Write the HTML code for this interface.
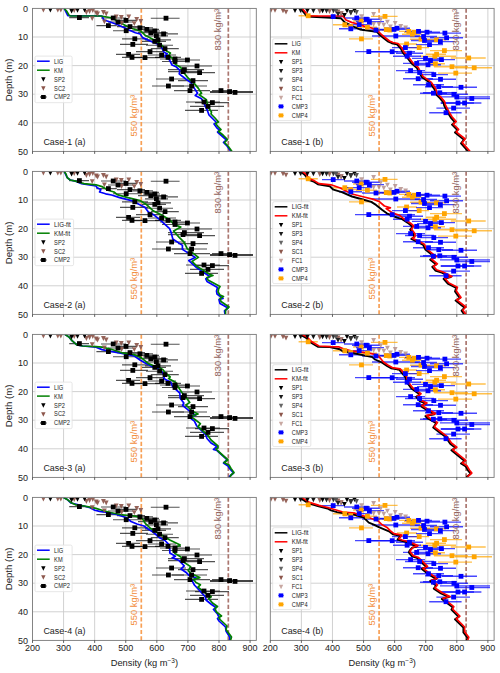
<!DOCTYPE html><html><head><meta charset="utf-8"><style>html,body{margin:0;padding:0;background:#fff;}svg{display:block;}text{font-family:"Liberation Sans", sans-serif;}</style></head><body>
<svg width="500" height="673" viewBox="0 0 500 673">
<rect width="500" height="673" fill="#fff"/>
<clipPath id="c0a"><rect x="32.5" y="8.4" width="223.8" height="143.0"/></clipPath>
<line x1="63.58" y1="8.4" x2="63.58" y2="151.4" stroke="#cccccc" stroke-width="0.9"/>
<line x1="94.67" y1="8.4" x2="94.67" y2="151.4" stroke="#cccccc" stroke-width="0.9"/>
<line x1="125.75" y1="8.4" x2="125.75" y2="151.4" stroke="#cccccc" stroke-width="0.9"/>
<line x1="156.83" y1="8.4" x2="156.83" y2="151.4" stroke="#cccccc" stroke-width="0.9"/>
<line x1="187.92" y1="8.4" x2="187.92" y2="151.4" stroke="#cccccc" stroke-width="0.9"/>
<line x1="219.00" y1="8.4" x2="219.00" y2="151.4" stroke="#cccccc" stroke-width="0.9"/>
<line x1="250.08" y1="8.4" x2="250.08" y2="151.4" stroke="#cccccc" stroke-width="0.9"/>
<line x1="32.5" y1="37.00" x2="256.3" y2="37.00" stroke="#cccccc" stroke-width="0.9"/>
<line x1="32.5" y1="65.60" x2="256.3" y2="65.60" stroke="#cccccc" stroke-width="0.9"/>
<line x1="32.5" y1="94.20" x2="256.3" y2="94.20" stroke="#cccccc" stroke-width="0.9"/>
<line x1="32.5" y1="122.80" x2="256.3" y2="122.80" stroke="#cccccc" stroke-width="0.9"/>
<line x1="141.29" y1="151.4" x2="141.29" y2="8.4" stroke="#f8a055" stroke-width="1.7" stroke-dasharray="4.2,2.1"/>
<line x1="228.32" y1="151.4" x2="228.32" y2="8.4" stroke="#ab7770" stroke-width="1.7" stroke-dasharray="4.2,2.1"/>
<g clip-path="url(#c0a)">
<line x1="69.2" y1="17.6" x2="89.0" y2="17.6" stroke="#000" stroke-opacity="0.68" stroke-width="1.15"/>
<line x1="96.4" y1="25.6" x2="116.8" y2="25.6" stroke="#000" stroke-opacity="0.68" stroke-width="1.15"/>
<line x1="101.0" y1="18.0" x2="126.0" y2="18.0" stroke="#000" stroke-opacity="0.68" stroke-width="1.15"/>
<line x1="108.0" y1="22.0" x2="133.0" y2="22.0" stroke="#000" stroke-opacity="0.68" stroke-width="1.15"/>
<line x1="115.6" y1="20.4" x2="137.2" y2="20.4" stroke="#000" stroke-opacity="0.68" stroke-width="1.15"/>
<line x1="117.0" y1="26.6" x2="145.0" y2="26.6" stroke="#000" stroke-opacity="0.68" stroke-width="1.15"/>
<line x1="113.0" y1="30.7" x2="141.0" y2="30.7" stroke="#000" stroke-opacity="0.68" stroke-width="1.15"/>
<line x1="133.0" y1="27.8" x2="153.0" y2="27.8" stroke="#000" stroke-opacity="0.68" stroke-width="1.15"/>
<line x1="141.0" y1="29.4" x2="159.0" y2="29.4" stroke="#000" stroke-opacity="0.68" stroke-width="1.15"/>
<line x1="138.0" y1="32.6" x2="167.6" y2="32.6" stroke="#000" stroke-opacity="0.68" stroke-width="1.15"/>
<line x1="143.0" y1="31.0" x2="160.0" y2="31.0" stroke="#000" stroke-opacity="0.68" stroke-width="1.15"/>
<line x1="145.0" y1="35.8" x2="168.0" y2="35.8" stroke="#000" stroke-opacity="0.68" stroke-width="1.15"/>
<line x1="150.8" y1="33.9" x2="178.0" y2="33.9" stroke="#000" stroke-opacity="0.68" stroke-width="1.15"/>
<line x1="150.8" y1="18.2" x2="179.6" y2="18.2" stroke="#000" stroke-opacity="0.68" stroke-width="1.15"/>
<line x1="122.0" y1="38.8" x2="148.0" y2="38.8" stroke="#000" stroke-opacity="0.68" stroke-width="1.15"/>
<line x1="145.0" y1="39.8" x2="171.0" y2="39.8" stroke="#000" stroke-opacity="0.68" stroke-width="1.15"/>
<line x1="142.0" y1="41.4" x2="166.0" y2="41.4" stroke="#000" stroke-opacity="0.68" stroke-width="1.15"/>
<line x1="120.0" y1="44.4" x2="148.0" y2="44.4" stroke="#000" stroke-opacity="0.68" stroke-width="1.15"/>
<line x1="146.0" y1="45.2" x2="173.0" y2="45.2" stroke="#000" stroke-opacity="0.68" stroke-width="1.15"/>
<line x1="150.8" y1="48.6" x2="178.8" y2="48.6" stroke="#000" stroke-opacity="0.68" stroke-width="1.15"/>
<line x1="136.0" y1="51.6" x2="163.6" y2="51.6" stroke="#000" stroke-opacity="0.68" stroke-width="1.15"/>
<line x1="116.0" y1="54.4" x2="140.0" y2="54.4" stroke="#000" stroke-opacity="0.68" stroke-width="1.15"/>
<line x1="122.0" y1="57.4" x2="142.0" y2="57.4" stroke="#000" stroke-opacity="0.68" stroke-width="1.15"/>
<line x1="130.0" y1="57.6" x2="160.0" y2="57.6" stroke="#000" stroke-opacity="0.68" stroke-width="1.15"/>
<line x1="148.0" y1="55.0" x2="176.0" y2="55.0" stroke="#000" stroke-opacity="0.68" stroke-width="1.15"/>
<line x1="155.0" y1="57.4" x2="181.0" y2="57.4" stroke="#000" stroke-opacity="0.68" stroke-width="1.15"/>
<line x1="160.0" y1="59.0" x2="190.0" y2="59.0" stroke="#000" stroke-opacity="0.68" stroke-width="1.15"/>
<line x1="174.0" y1="60.0" x2="200.0" y2="60.0" stroke="#000" stroke-opacity="0.68" stroke-width="1.15"/>
<line x1="162.0" y1="61.5" x2="188.0" y2="61.5" stroke="#000" stroke-opacity="0.68" stroke-width="1.15"/>
<line x1="178.0" y1="66.0" x2="212.0" y2="66.0" stroke="#000" stroke-opacity="0.68" stroke-width="1.15"/>
<line x1="168.0" y1="69.6" x2="204.0" y2="69.6" stroke="#000" stroke-opacity="0.68" stroke-width="1.15"/>
<line x1="168.0" y1="71.6" x2="200.0" y2="71.6" stroke="#000" stroke-opacity="0.68" stroke-width="1.15"/>
<line x1="182.0" y1="72.6" x2="215.0" y2="72.6" stroke="#000" stroke-opacity="0.68" stroke-width="1.15"/>
<line x1="156.0" y1="79.0" x2="186.0" y2="79.0" stroke="#000" stroke-opacity="0.68" stroke-width="1.15"/>
<line x1="178.0" y1="80.6" x2="208.0" y2="80.6" stroke="#000" stroke-opacity="0.68" stroke-width="1.15"/>
<line x1="152.0" y1="86.0" x2="184.0" y2="86.0" stroke="#000" stroke-opacity="0.68" stroke-width="1.15"/>
<line x1="172.0" y1="86.0" x2="207.0" y2="86.0" stroke="#000" stroke-opacity="0.68" stroke-width="1.15"/>
<line x1="174.0" y1="90.6" x2="210.0" y2="90.6" stroke="#000" stroke-opacity="0.68" stroke-width="1.15"/>
<line x1="212.0" y1="90.6" x2="229.0" y2="90.6" stroke="#000" stroke-opacity="0.68" stroke-width="1.15"/>
<line x1="210.0" y1="91.6" x2="253.0" y2="91.6" stroke="#000" stroke-opacity="0.68" stroke-width="1.15"/>
<line x1="210.0" y1="92.4" x2="253.0" y2="92.4" stroke="#000" stroke-opacity="0.68" stroke-width="1.15"/>
<line x1="186.0" y1="102.0" x2="220.0" y2="102.0" stroke="#000" stroke-opacity="0.68" stroke-width="1.15"/>
<line x1="195.0" y1="102.6" x2="229.0" y2="102.6" stroke="#000" stroke-opacity="0.68" stroke-width="1.15"/>
<line x1="190.0" y1="106.4" x2="224.0" y2="106.4" stroke="#000" stroke-opacity="0.68" stroke-width="1.15"/>
<line x1="185.0" y1="110.4" x2="218.0" y2="110.4" stroke="#000" stroke-opacity="0.68" stroke-width="1.15"/>
<polyline points="64.2,8.4 67.8,15.6 102.0,16.0 103.8,20.0 108.0,21.2 116.4,24.2 125.0,28.0 129.0,30.0 135.4,32.8 140.2,34.0 142.6,37.6 150.6,41.2 158.6,44.4 161.6,47.4 164.0,52.2 167.2,53.8 164.8,56.2 169.6,60.2 172.0,65.0 176.0,66.6 180.0,70.6 179.2,73.8 185.8,79.0 191.2,82.8 194.4,88.4 197.6,93.2 195.2,95.6 201.6,98.8 202.6,100.6 207.0,109.5 209.0,115.0 214.0,120.0 216.5,122.5 214.0,124.0 217.0,128.0 219.5,130.0 217.5,132.0 222.0,136.0 226.5,140.0 223.5,142.5 227.0,146.0 231.0,151.4" fill="none" stroke="#0000ff" stroke-width="1.7" stroke-linejoin="round"/>
<polyline points="64.2,8.4 66.6,11.0 69.0,15.2 70.2,15.8 100.8,16.0 106.8,17.0 112.8,18.2 117.2,21.0 125.0,25.2 133.0,28.8 141.0,31.2 145.0,35.2 151.4,38.4 158.0,42.0 162.4,45.8 166.4,51.0 170.4,53.0 168.8,55.4 172.8,58.6 175.2,64.2 180.8,67.4 183.2,72.2 184.8,73.8 188.0,78.0 194.4,83.6 198.4,88.4 201.6,93.2 199.2,94.8 206.4,99.6 208.0,107.0 211.5,112.0 211.0,114.0 215.0,118.0 218.5,122.0 215.5,123.5 218.0,126.5 221.0,129.5 218.5,131.5 223.0,135.0 227.5,139.5 224.5,142.5 228.0,146.0 232.0,151.4" fill="none" stroke="#008000" stroke-width="1.7" stroke-linejoin="round"/>
<path d="M41.00,7.68L45.80,7.68L43.40,12.48Z" fill="#8c564b" fill-opacity="0.92"/>
<path d="M55.40,7.68L60.20,7.68L57.80,12.48Z" fill="#8c564b" fill-opacity="0.92"/>
<path d="M58.40,7.68L63.20,7.68L60.80,12.48Z" fill="#8c564b" fill-opacity="0.92"/>
<path d="M71.80,8.08L76.60,8.08L74.20,12.88Z" fill="#8c564b" fill-opacity="0.92"/>
<path d="M84.00,10.08L88.80,10.08L86.40,14.88Z" fill="#8c564b" fill-opacity="0.92"/>
<path d="M87.20,9.08L92.00,9.08L89.60,13.88Z" fill="#8c564b" fill-opacity="0.92"/>
<path d="M90.40,8.08L95.20,8.08L92.80,12.88Z" fill="#8c564b" fill-opacity="0.92"/>
<path d="M93.80,10.58L98.60,10.58L96.20,15.38Z" fill="#8c564b" fill-opacity="0.92"/>
<path d="M95.20,11.58L100.00,11.58L97.60,16.38Z" fill="#8c564b" fill-opacity="0.92"/>
<path d="M89.80,16.28L94.60,16.28L92.20,21.08Z" fill="#8c564b" fill-opacity="0.92"/>
<path d="M101.00,10.08L105.80,10.08L103.40,14.88Z" fill="#8c564b" fill-opacity="0.92"/>
<path d="M103.80,11.58L108.60,11.58L106.20,16.38Z" fill="#8c564b" fill-opacity="0.92"/>
<path d="M102.00,19.48L106.80,19.48L104.40,24.28Z" fill="#8c564b" fill-opacity="0.92"/>
<path d="M113.80,14.58L118.60,14.58L116.20,19.38Z" fill="#8c564b" fill-opacity="0.92"/>
<path d="M118.90,15.08L123.70,15.08L121.30,19.88Z" fill="#8c564b" fill-opacity="0.92"/>
<path d="M119.20,21.08L124.00,21.08L121.60,25.88Z" fill="#8c564b" fill-opacity="0.92"/>
<path d="M126.40,14.48L131.20,14.48L128.80,19.28Z" fill="#8c564b" fill-opacity="0.92"/>
<path d="M131.90,21.28L136.70,21.28L134.30,26.08Z" fill="#8c564b" fill-opacity="0.92"/>
<path d="M134.30,17.08L139.10,17.08L136.70,21.88Z" fill="#8c564b" fill-opacity="0.92"/>
<path d="M138.40,19.08L143.20,19.08L140.80,23.88Z" fill="#8c564b" fill-opacity="0.92"/>
<path d="M48.00,7.68L52.80,7.68L50.40,12.48Z" fill="#000"/>
<path d="M69.20,8.68L74.00,8.68L71.60,13.48Z" fill="#000"/>
<path d="M75.10,7.88L79.90,7.88L77.50,12.68Z" fill="#000"/>
<path d="M82.20,7.68L87.00,7.68L84.60,12.48Z" fill="#000"/>
<rect x="77.0" y="15.2" width="4.8" height="4.8" fill="#000"/>
<rect x="106.0" y="23.2" width="4.8" height="4.8" fill="#000"/>
<rect x="110.8" y="15.6" width="4.8" height="4.8" fill="#000"/>
<rect x="115.6" y="19.6" width="4.8" height="4.8" fill="#000"/>
<rect x="123.6" y="18.0" width="4.8" height="4.8" fill="#000"/>
<rect x="127.6" y="24.2" width="4.8" height="4.8" fill="#000"/>
<rect x="123.8" y="28.3" width="4.8" height="4.8" fill="#000"/>
<rect x="137.5" y="25.4" width="4.8" height="4.8" fill="#000"/>
<rect x="144.4" y="27.0" width="4.8" height="4.8" fill="#000"/>
<rect x="148.4" y="30.2" width="4.8" height="4.8" fill="#000"/>
<rect x="152.4" y="28.6" width="4.8" height="4.8" fill="#000"/>
<rect x="154.0" y="33.4" width="4.8" height="4.8" fill="#000"/>
<rect x="161.2" y="31.5" width="4.8" height="4.8" fill="#000"/>
<rect x="163.6" y="15.8" width="4.8" height="4.8" fill="#000"/>
<rect x="132.4" y="36.4" width="4.8" height="4.8" fill="#000"/>
<rect x="155.6" y="37.4" width="4.8" height="4.8" fill="#000"/>
<rect x="152.4" y="39.0" width="4.8" height="4.8" fill="#000"/>
<rect x="130.4" y="42.0" width="4.8" height="4.8" fill="#000"/>
<rect x="157.2" y="42.8" width="4.8" height="4.8" fill="#000"/>
<rect x="162.6" y="46.2" width="4.8" height="4.8" fill="#000"/>
<rect x="147.6" y="49.2" width="4.8" height="4.8" fill="#000"/>
<rect x="126.2" y="52.0" width="4.8" height="4.8" fill="#000"/>
<rect x="129.6" y="55.0" width="4.8" height="4.8" fill="#000"/>
<rect x="142.6" y="55.2" width="4.8" height="4.8" fill="#000"/>
<rect x="159.2" y="52.6" width="4.8" height="4.8" fill="#000"/>
<rect x="165.6" y="55.0" width="4.8" height="4.8" fill="#000"/>
<rect x="172.6" y="56.6" width="4.8" height="4.8" fill="#000"/>
<rect x="185.0" y="57.6" width="4.8" height="4.8" fill="#000"/>
<rect x="172.6" y="59.1" width="4.8" height="4.8" fill="#000"/>
<rect x="194.6" y="63.6" width="4.8" height="4.8" fill="#000"/>
<rect x="182.0" y="67.2" width="4.8" height="4.8" fill="#000"/>
<rect x="180.6" y="69.2" width="4.8" height="4.8" fill="#000"/>
<rect x="197.2" y="70.2" width="4.8" height="4.8" fill="#000"/>
<rect x="169.2" y="76.6" width="4.8" height="4.8" fill="#000"/>
<rect x="190.6" y="78.2" width="4.8" height="4.8" fill="#000"/>
<rect x="166.0" y="83.6" width="4.8" height="4.8" fill="#000"/>
<rect x="189.2" y="83.6" width="4.8" height="4.8" fill="#000"/>
<rect x="187.6" y="88.2" width="4.8" height="4.8" fill="#000"/>
<rect x="218.6" y="88.2" width="4.8" height="4.8" fill="#000"/>
<rect x="227.2" y="89.2" width="4.8" height="4.8" fill="#000"/>
<rect x="232.6" y="90.0" width="4.8" height="4.8" fill="#000"/>
<rect x="201.6" y="99.6" width="4.8" height="4.8" fill="#000"/>
<rect x="210.0" y="100.2" width="4.8" height="4.8" fill="#000"/>
<rect x="205.6" y="104.0" width="4.8" height="4.8" fill="#000"/>
<rect x="199.2" y="108.0" width="4.8" height="4.8" fill="#000"/>
</g>
<text transform="translate(133.5,115.7) rotate(-90)" text-anchor="middle" dominant-baseline="central" font-size="9.4" fill="#f28d3c">550 kg/m³</text>
<text transform="translate(217.4,29.6) rotate(-90)" text-anchor="middle" dominant-baseline="central" font-size="9.4" fill="#93615a">830 kg/m³</text>
<text transform="translate(43.4,144.5) scale(0.95,1)" font-size="9.4" fill="#222">Case-1 (a)</text>
<rect x="35.0" y="56.1" width="37.1" height="46.6" rx="1.5" fill="#fff" fill-opacity="0.8" stroke="#e0e0e0" stroke-width="0.8"/>
<line x1="37.0" y1="61.2" x2="49.7" y2="61.2" stroke="#0000ff" stroke-width="1.5"/>
<text transform="translate(54.1,63.6) scale(0.86,1)" font-size="6.6" fill="#222">LIG</text>
<line x1="37.0" y1="70.2" x2="49.7" y2="70.2" stroke="#008000" stroke-width="1.5"/>
<text transform="translate(54.1,72.6) scale(0.86,1)" font-size="6.6" fill="#222">KM</text>
<path d="M41.15,77.34L45.55,77.34L43.35,81.74Z" fill="#000"/>
<text transform="translate(54.1,81.5) scale(0.86,1)" font-size="6.6" fill="#222">SP2</text>
<path d="M41.15,86.29L45.55,86.29L43.35,90.69Z" fill="#8c564b"/>
<text transform="translate(54.1,90.5) scale(0.86,1)" font-size="6.6" fill="#222">SC2</text>
<rect x="41.1" y="95.0" width="4.6" height="4.0" fill="#000"/>
<line x1="40.1" y1="97.0" x2="46.6" y2="97.0" stroke="#000" stroke-width="1"/>
<text transform="translate(54.1,99.4) scale(0.86,1)" font-size="6.6" fill="#222">CMP2</text>
<rect x="32.5" y="8.4" width="223.8" height="143.0" fill="none" stroke="#787878" stroke-width="0.9"/>
<line x1="32.50" y1="151.4" x2="32.50" y2="153.9" stroke="#3a3a3a" stroke-width="0.8"/>
<line x1="63.58" y1="151.4" x2="63.58" y2="153.9" stroke="#3a3a3a" stroke-width="0.8"/>
<line x1="94.67" y1="151.4" x2="94.67" y2="153.9" stroke="#3a3a3a" stroke-width="0.8"/>
<line x1="125.75" y1="151.4" x2="125.75" y2="153.9" stroke="#3a3a3a" stroke-width="0.8"/>
<line x1="156.83" y1="151.4" x2="156.83" y2="153.9" stroke="#3a3a3a" stroke-width="0.8"/>
<line x1="187.92" y1="151.4" x2="187.92" y2="153.9" stroke="#3a3a3a" stroke-width="0.8"/>
<line x1="219.00" y1="151.4" x2="219.00" y2="153.9" stroke="#3a3a3a" stroke-width="0.8"/>
<line x1="250.08" y1="151.4" x2="250.08" y2="153.9" stroke="#3a3a3a" stroke-width="0.8"/>
<text x="27.9" y="11.6" text-anchor="end" font-size="9" fill="#222">0</text>
<text x="27.9" y="40.2" text-anchor="end" font-size="9" fill="#222">10</text>
<text x="27.9" y="68.8" text-anchor="end" font-size="9" fill="#222">20</text>
<text x="27.9" y="97.4" text-anchor="end" font-size="9" fill="#222">30</text>
<text x="27.9" y="126.0" text-anchor="end" font-size="9" fill="#222">40</text>
<text x="27.9" y="154.6" text-anchor="end" font-size="9" fill="#222">50</text>
<text transform="translate(8.3,79.9) rotate(-90)" text-anchor="middle" dominant-baseline="central" font-size="9.6" fill="#222">Depth (m)</text>
<clipPath id="c0b"><rect x="270.3" y="8.4" width="223.8" height="143.0"/></clipPath>
<line x1="301.38" y1="8.4" x2="301.38" y2="151.4" stroke="#cccccc" stroke-width="0.9"/>
<line x1="332.47" y1="8.4" x2="332.47" y2="151.4" stroke="#cccccc" stroke-width="0.9"/>
<line x1="363.55" y1="8.4" x2="363.55" y2="151.4" stroke="#cccccc" stroke-width="0.9"/>
<line x1="394.63" y1="8.4" x2="394.63" y2="151.4" stroke="#cccccc" stroke-width="0.9"/>
<line x1="425.72" y1="8.4" x2="425.72" y2="151.4" stroke="#cccccc" stroke-width="0.9"/>
<line x1="456.80" y1="8.4" x2="456.80" y2="151.4" stroke="#cccccc" stroke-width="0.9"/>
<line x1="487.88" y1="8.4" x2="487.88" y2="151.4" stroke="#cccccc" stroke-width="0.9"/>
<line x1="270.3" y1="37.00" x2="494.1" y2="37.00" stroke="#cccccc" stroke-width="0.9"/>
<line x1="270.3" y1="65.60" x2="494.1" y2="65.60" stroke="#cccccc" stroke-width="0.9"/>
<line x1="270.3" y1="94.20" x2="494.1" y2="94.20" stroke="#cccccc" stroke-width="0.9"/>
<line x1="270.3" y1="122.80" x2="494.1" y2="122.80" stroke="#cccccc" stroke-width="0.9"/>
<line x1="379.09" y1="151.4" x2="379.09" y2="8.4" stroke="#f8a055" stroke-width="1.7" stroke-dasharray="4.2,2.1"/>
<line x1="466.12" y1="151.4" x2="466.12" y2="8.4" stroke="#ab7770" stroke-width="1.7" stroke-dasharray="4.2,2.1"/>
<g clip-path="url(#c0b)">
<line x1="298.6" y1="15.8" x2="317.8" y2="15.8" stroke="#ffa500" stroke-opacity="0.7" stroke-width="1.4"/>
<line x1="333.0" y1="24.7" x2="350.0" y2="24.7" stroke="#ffa500" stroke-opacity="0.7" stroke-width="1.4"/>
<line x1="343.0" y1="26.5" x2="359.0" y2="26.5" stroke="#ffa500" stroke-opacity="0.7" stroke-width="1.4"/>
<line x1="353.0" y1="21.0" x2="369.0" y2="21.0" stroke="#ffa500" stroke-opacity="0.7" stroke-width="1.4"/>
<line x1="356.0" y1="27.2" x2="377.0" y2="27.2" stroke="#ffa500" stroke-opacity="0.7" stroke-width="1.4"/>
<line x1="371.0" y1="16.4" x2="397.6" y2="16.4" stroke="#ffa500" stroke-opacity="0.7" stroke-width="1.4"/>
<line x1="378.0" y1="29.6" x2="394.0" y2="29.6" stroke="#ffa500" stroke-opacity="0.7" stroke-width="1.4"/>
<line x1="382.0" y1="30.0" x2="398.0" y2="30.0" stroke="#ffa500" stroke-opacity="0.7" stroke-width="1.4"/>
<line x1="349.0" y1="38.9" x2="373.0" y2="38.9" stroke="#ffa500" stroke-opacity="0.7" stroke-width="1.4"/>
<line x1="399.0" y1="31.4" x2="418.0" y2="31.4" stroke="#ffa500" stroke-opacity="0.7" stroke-width="1.4"/>
<line x1="402.0" y1="34.2" x2="422.0" y2="34.2" stroke="#ffa500" stroke-opacity="0.7" stroke-width="1.4"/>
<line x1="404.0" y1="32.2" x2="424.0" y2="32.2" stroke="#ffa500" stroke-opacity="0.7" stroke-width="1.4"/>
<line x1="410.0" y1="39.2" x2="430.0" y2="39.2" stroke="#ffa500" stroke-opacity="0.7" stroke-width="1.4"/>
<line x1="426.0" y1="39.8" x2="446.0" y2="39.8" stroke="#ffa500" stroke-opacity="0.7" stroke-width="1.4"/>
<line x1="397.0" y1="44.0" x2="417.0" y2="44.0" stroke="#ffa500" stroke-opacity="0.7" stroke-width="1.4"/>
<line x1="409.0" y1="47.6" x2="429.0" y2="47.6" stroke="#ffa500" stroke-opacity="0.7" stroke-width="1.4"/>
<line x1="430.0" y1="50.6" x2="462.0" y2="50.6" stroke="#ffa500" stroke-opacity="0.7" stroke-width="1.4"/>
<line x1="426.0" y1="54.2" x2="446.0" y2="54.2" stroke="#ffa500" stroke-opacity="0.7" stroke-width="1.4"/>
<line x1="420.0" y1="56.3" x2="456.0" y2="56.3" stroke="#ffa500" stroke-opacity="0.7" stroke-width="1.4"/>
<line x1="425.0" y1="63.8" x2="445.0" y2="63.8" stroke="#ffa500" stroke-opacity="0.7" stroke-width="1.4"/>
<line x1="450.8" y1="58.0" x2="485.7" y2="58.0" stroke="#ffa500" stroke-opacity="0.7" stroke-width="1.4"/>
<line x1="434.0" y1="66.7" x2="468.0" y2="66.7" stroke="#ffa500" stroke-opacity="0.7" stroke-width="1.4"/>
<line x1="455.0" y1="67.8" x2="492.0" y2="67.8" stroke="#ffa500" stroke-opacity="0.7" stroke-width="1.4"/>
<line x1="438.0" y1="73.1" x2="472.0" y2="73.1" stroke="#ffa500" stroke-opacity="0.7" stroke-width="1.4"/>
<line x1="322.0" y1="16.6" x2="344.0" y2="16.6" stroke="#0000ff" stroke-opacity="0.72" stroke-width="1.4"/>
<line x1="344.0" y1="18.0" x2="370.0" y2="18.0" stroke="#0000ff" stroke-opacity="0.72" stroke-width="1.4"/>
<line x1="352.0" y1="19.2" x2="380.0" y2="19.2" stroke="#0000ff" stroke-opacity="0.72" stroke-width="1.4"/>
<line x1="356.0" y1="21.6" x2="384.0" y2="21.6" stroke="#0000ff" stroke-opacity="0.72" stroke-width="1.4"/>
<line x1="346.0" y1="24.6" x2="372.0" y2="24.6" stroke="#0000ff" stroke-opacity="0.72" stroke-width="1.4"/>
<line x1="339.0" y1="28.8" x2="362.0" y2="28.8" stroke="#0000ff" stroke-opacity="0.72" stroke-width="1.4"/>
<line x1="362.0" y1="30.0" x2="390.0" y2="30.0" stroke="#0000ff" stroke-opacity="0.72" stroke-width="1.4"/>
<line x1="380.0" y1="29.4" x2="408.0" y2="29.4" stroke="#0000ff" stroke-opacity="0.72" stroke-width="1.4"/>
<line x1="384.0" y1="28.2" x2="410.0" y2="28.2" stroke="#0000ff" stroke-opacity="0.72" stroke-width="1.4"/>
<line x1="372.0" y1="36.0" x2="420.0" y2="36.0" stroke="#0000ff" stroke-opacity="0.72" stroke-width="1.4"/>
<line x1="355.0" y1="51.6" x2="398.0" y2="51.6" stroke="#0000ff" stroke-opacity="0.72" stroke-width="1.4"/>
<line x1="370.0" y1="51.7" x2="415.0" y2="51.7" stroke="#0000ff" stroke-opacity="0.72" stroke-width="1.4"/>
<line x1="405.0" y1="31.4" x2="432.0" y2="31.4" stroke="#0000ff" stroke-opacity="0.72" stroke-width="1.4"/>
<line x1="414.0" y1="32.2" x2="440.0" y2="32.2" stroke="#0000ff" stroke-opacity="0.72" stroke-width="1.4"/>
<line x1="426.0" y1="33.1" x2="461.0" y2="33.1" stroke="#0000ff" stroke-opacity="0.72" stroke-width="1.4"/>
<line x1="410.0" y1="36.5" x2="437.0" y2="36.5" stroke="#0000ff" stroke-opacity="0.72" stroke-width="1.4"/>
<line x1="430.0" y1="37.8" x2="463.0" y2="37.8" stroke="#0000ff" stroke-opacity="0.72" stroke-width="1.4"/>
<line x1="411.0" y1="40.5" x2="438.0" y2="40.5" stroke="#0000ff" stroke-opacity="0.72" stroke-width="1.4"/>
<line x1="427.0" y1="41.6" x2="455.0" y2="41.6" stroke="#0000ff" stroke-opacity="0.72" stroke-width="1.4"/>
<line x1="416.0" y1="44.6" x2="443.0" y2="44.6" stroke="#0000ff" stroke-opacity="0.72" stroke-width="1.4"/>
<line x1="392.0" y1="47.6" x2="418.0" y2="47.6" stroke="#0000ff" stroke-opacity="0.72" stroke-width="1.4"/>
<line x1="396.0" y1="53.2" x2="423.0" y2="53.2" stroke="#0000ff" stroke-opacity="0.72" stroke-width="1.4"/>
<line x1="393.0" y1="56.2" x2="421.0" y2="56.2" stroke="#0000ff" stroke-opacity="0.72" stroke-width="1.4"/>
<line x1="412.0" y1="58.4" x2="439.0" y2="58.4" stroke="#0000ff" stroke-opacity="0.72" stroke-width="1.4"/>
<line x1="417.0" y1="60.6" x2="444.0" y2="60.6" stroke="#0000ff" stroke-opacity="0.72" stroke-width="1.4"/>
<line x1="428.0" y1="59.6" x2="455.0" y2="59.6" stroke="#0000ff" stroke-opacity="0.72" stroke-width="1.4"/>
<line x1="403.0" y1="63.4" x2="430.0" y2="63.4" stroke="#0000ff" stroke-opacity="0.72" stroke-width="1.4"/>
<line x1="414.0" y1="64.8" x2="441.0" y2="64.8" stroke="#0000ff" stroke-opacity="0.72" stroke-width="1.4"/>
<line x1="396.0" y1="70.6" x2="425.0" y2="70.6" stroke="#0000ff" stroke-opacity="0.72" stroke-width="1.4"/>
<line x1="405.0" y1="72.5" x2="434.0" y2="72.5" stroke="#0000ff" stroke-opacity="0.72" stroke-width="1.4"/>
<line x1="420.0" y1="74.6" x2="448.0" y2="74.6" stroke="#0000ff" stroke-opacity="0.72" stroke-width="1.4"/>
<line x1="403.0" y1="78.7" x2="433.0" y2="78.7" stroke="#0000ff" stroke-opacity="0.72" stroke-width="1.4"/>
<line x1="425.0" y1="79.3" x2="456.0" y2="79.3" stroke="#0000ff" stroke-opacity="0.72" stroke-width="1.4"/>
<line x1="413.0" y1="84.7" x2="444.0" y2="84.7" stroke="#0000ff" stroke-opacity="0.72" stroke-width="1.4"/>
<line x1="425.0" y1="86.7" x2="453.0" y2="86.7" stroke="#0000ff" stroke-opacity="0.72" stroke-width="1.4"/>
<line x1="442.0" y1="87.3" x2="477.0" y2="87.3" stroke="#0000ff" stroke-opacity="0.72" stroke-width="1.4"/>
<line x1="423.0" y1="92.8" x2="457.0" y2="92.8" stroke="#0000ff" stroke-opacity="0.72" stroke-width="1.4"/>
<line x1="440.0" y1="94.3" x2="468.0" y2="94.3" stroke="#0000ff" stroke-opacity="0.72" stroke-width="1.4"/>
<line x1="440.0" y1="96.9" x2="490.0" y2="96.9" stroke="#0000ff" stroke-opacity="0.72" stroke-width="1.4"/>
<line x1="455.0" y1="98.5" x2="490.0" y2="98.5" stroke="#0000ff" stroke-opacity="0.72" stroke-width="1.4"/>
<line x1="441.0" y1="103.0" x2="474.0" y2="103.0" stroke="#0000ff" stroke-opacity="0.72" stroke-width="1.4"/>
<line x1="440.6" y1="103.0" x2="481.4" y2="103.0" stroke="#0000ff" stroke-opacity="0.72" stroke-width="1.4"/>
<line x1="436.4" y1="108.1" x2="470.0" y2="108.1" stroke="#0000ff" stroke-opacity="0.72" stroke-width="1.4"/>
<line x1="429.2" y1="112.7" x2="461.6" y2="112.7" stroke="#0000ff" stroke-opacity="0.72" stroke-width="1.4"/>
<line x1="420.0" y1="93.2" x2="447.0" y2="93.2" stroke="#0000ff" stroke-opacity="0.72" stroke-width="1.4"/>
<polyline transform="translate(-1.2,0.7)" points="302.2,8.4 306.4,13.4 308.2,15.8 342.0,17.5 346.0,21.6 354.0,25.6 361.2,28.8 378.0,31.2 382.0,35.0 385.0,37.5 389.5,41.0 393.0,42.5 398.0,43.5 402.0,48.0 404.0,52.0 409.0,57.8 412.6,62.6 418.2,67.4 420.6,72.2 423.0,76.4 431.4,82.4 435.6,88.4 437.4,93.8 441.0,97.4 444.6,101.6 445.4,104.8 449.0,112.0 452.0,116.8 456.2,121.6 453.2,124.0 458.6,129.4 456.2,131.8 465.2,139.0 462.2,142.6 470.0,151.4" fill="none" stroke="#000" stroke-width="1.9" stroke-linejoin="round"/>
<polyline points="302.2,8.4 306.4,13.4 308.2,15.8 342.8,16.0 346.0,20.0 351.6,22.4 358.0,24.0 364.4,26.4 371.6,28.0 378.0,31.2 382.0,35.0 385.0,37.5 389.5,41.0 393.0,42.5 398.0,43.5 402.0,48.0 404.0,52.0 409.0,57.8 412.6,62.6 418.2,67.4 420.6,72.2 423.0,76.4 431.4,82.4 435.6,88.4 437.4,93.8 441.0,97.4 444.6,101.6 445.4,104.8 449.0,112.0 452.0,116.8 456.2,121.6 453.2,124.0 458.6,129.4 456.2,131.8 465.2,139.0 462.2,142.6 470.0,151.4" fill="none" stroke="#ff0000" stroke-width="1.7" stroke-linejoin="round"/>
<path d="M268.60,7.88L273.40,7.88L271.00,12.68Z" fill="#8c564b" fill-opacity="0.92"/>
<path d="M272.60,7.88L277.40,7.88L275.00,12.68Z" fill="#8c564b" fill-opacity="0.92"/>
<path d="M280.60,8.48L285.40,8.48L283.00,13.28Z" fill="#8c564b" fill-opacity="0.92"/>
<path d="M283.60,9.68L288.40,9.68L286.00,14.48Z" fill="#8c564b" fill-opacity="0.92"/>
<path d="M317.40,9.08L322.20,9.08L319.80,13.88Z" fill="#8c564b" fill-opacity="0.92"/>
<path d="M327.10,9.08L331.90,9.08L329.50,13.88Z" fill="#8c564b" fill-opacity="0.92"/>
<path d="M335.60,9.58L340.40,9.58L338.00,14.38Z" fill="#8c564b" fill-opacity="0.92"/>
<path d="M338.60,11.08L343.40,11.08L341.00,15.88Z" fill="#8c564b" fill-opacity="0.92"/>
<path d="M338.80,11.48L343.60,11.48L341.20,16.28Z" fill="#8c564b" fill-opacity="0.92"/>
<path d="M338.40,11.08L343.20,11.08L340.80,15.88Z" fill="#b08a84" fill-opacity="0.8"/>
<path d="M359.20,14.28L364.00,14.28L361.60,19.08Z" fill="#b08a84" fill-opacity="0.8"/>
<path d="M371.20,11.88L376.00,11.88L373.60,16.68Z" fill="#b08a84" fill-opacity="0.8"/>
<path d="M378.40,17.28L383.20,17.28L380.80,22.08Z" fill="#b08a84" fill-opacity="0.8"/>
<path d="M385.00,19.68L389.80,19.68L387.40,24.48Z" fill="#b08a84" fill-opacity="0.8"/>
<path d="M392.80,20.88L397.60,20.88L395.20,25.68Z" fill="#b08a84" fill-opacity="0.8"/>
<path d="M371.20,22.08L376.00,22.08L373.60,26.88Z" fill="#b08a84" fill-opacity="0.8"/>
<path d="M376.60,22.08L381.40,22.08L379.00,26.88Z" fill="#b08a84" fill-opacity="0.8"/>
<path d="M381.40,22.68L386.20,22.68L383.80,27.48Z" fill="#b08a84" fill-opacity="0.8"/>
<path d="M388.00,24.48L392.80,24.48L390.40,29.28Z" fill="#b08a84" fill-opacity="0.8"/>
<path d="M398.40,23.88L403.20,23.88L400.80,28.68Z" fill="#b08a84" fill-opacity="0.8"/>
<path d="M403.20,25.48L408.00,25.48L405.60,30.28Z" fill="#b08a84" fill-opacity="0.8"/>
<path d="M292.60,8.28L297.40,8.28L295.00,13.08Z" fill="#000"/>
<path d="M298.20,8.28L303.00,8.28L300.60,13.08Z" fill="#111"/>
<path d="M305.00,8.48L309.80,8.48L307.40,13.28Z" fill="#000"/>
<path d="M311.00,8.48L315.80,8.48L313.40,13.28Z" fill="#111"/>
<path d="M320.20,8.48L325.00,8.48L322.60,13.28Z" fill="#000"/>
<path d="M324.10,8.68L328.90,8.68L326.50,13.48Z" fill="#222"/>
<path d="M331.10,8.48L335.90,8.48L333.50,13.28Z" fill="#333"/>
<path d="M333.60,8.68L338.40,8.68L336.00,13.48Z" fill="#555"/>
<path d="M344.60,8.48L349.40,8.48L347.00,13.28Z" fill="#000"/>
<path d="M348.60,10.08L353.40,10.08L351.00,14.88Z" fill="#333"/>
<path d="M352.10,8.28L356.90,8.28L354.50,13.08Z" fill="#000"/>
<path d="M354.10,10.08L358.90,10.08L356.50,14.88Z" fill="#555"/>
<path d="M335.60,11.88L340.40,11.88L338.00,16.68Z" fill="#222"/>
<path d="M342.00,12.88L346.80,12.88L344.40,17.68Z" fill="#000"/>
<path d="M348.40,10.68L353.20,10.68L350.80,15.48Z" fill="#333"/>
<rect x="305.8" y="13.4" width="4.8" height="4.8" fill="#ffa500"/>
<rect x="342.4" y="22.3" width="4.8" height="4.8" fill="#ffa500"/>
<rect x="348.3" y="24.1" width="4.8" height="4.8" fill="#ffa500"/>
<rect x="358.6" y="18.6" width="4.8" height="4.8" fill="#ffa500"/>
<rect x="365.0" y="24.8" width="4.8" height="4.8" fill="#ffa500"/>
<rect x="382.6" y="14.0" width="4.8" height="4.8" fill="#ffa500"/>
<rect x="383.9" y="27.2" width="4.8" height="4.8" fill="#ffa500"/>
<rect x="387.4" y="27.6" width="4.8" height="4.8" fill="#ffa500"/>
<rect x="359.1" y="36.5" width="4.8" height="4.8" fill="#ffa500"/>
<rect x="406.4" y="29.0" width="4.8" height="4.8" fill="#ffa500"/>
<rect x="410.0" y="31.8" width="4.8" height="4.8" fill="#ffa500"/>
<rect x="411.9" y="29.8" width="4.8" height="4.8" fill="#ffa500"/>
<rect x="418.6" y="36.8" width="4.8" height="4.8" fill="#ffa500"/>
<rect x="434.1" y="37.4" width="4.8" height="4.8" fill="#ffa500"/>
<rect x="404.2" y="41.6" width="4.8" height="4.8" fill="#ffa500"/>
<rect x="416.8" y="45.2" width="4.8" height="4.8" fill="#ffa500"/>
<rect x="442.0" y="48.2" width="4.8" height="4.8" fill="#ffa500"/>
<rect x="434.2" y="51.8" width="4.8" height="4.8" fill="#ffa500"/>
<rect x="432.4" y="53.9" width="4.8" height="4.8" fill="#ffa500"/>
<rect x="433.0" y="61.4" width="4.8" height="4.8" fill="#ffa500"/>
<rect x="466.3" y="55.6" width="4.8" height="4.8" fill="#ffa500"/>
<rect x="449.6" y="64.3" width="4.8" height="4.8" fill="#ffa500"/>
<rect x="471.8" y="65.4" width="4.8" height="4.8" fill="#ffa500"/>
<rect x="453.4" y="70.7" width="4.8" height="4.8" fill="#ffa500"/>
<rect x="330.8" y="14.2" width="4.8" height="4.8" fill="#0000ff"/>
<rect x="354.4" y="15.6" width="4.8" height="4.8" fill="#0000ff"/>
<rect x="364.0" y="16.8" width="4.8" height="4.8" fill="#0000ff"/>
<rect x="367.0" y="19.2" width="4.8" height="4.8" fill="#0000ff"/>
<rect x="356.8" y="22.2" width="4.8" height="4.8" fill="#0000ff"/>
<rect x="348.4" y="26.4" width="4.8" height="4.8" fill="#0000ff"/>
<rect x="373.6" y="27.6" width="4.8" height="4.8" fill="#0000ff"/>
<rect x="391.6" y="27.0" width="4.8" height="4.8" fill="#0000ff"/>
<rect x="394.6" y="25.8" width="4.8" height="4.8" fill="#0000ff"/>
<rect x="393.4" y="33.6" width="4.8" height="4.8" fill="#0000ff"/>
<rect x="366.4" y="49.2" width="4.8" height="4.8" fill="#0000ff"/>
<rect x="389.8" y="49.3" width="4.8" height="4.8" fill="#0000ff"/>
<rect x="416.1" y="29.0" width="4.8" height="4.8" fill="#0000ff"/>
<rect x="424.6" y="29.8" width="4.8" height="4.8" fill="#0000ff"/>
<rect x="442.5" y="30.7" width="4.8" height="4.8" fill="#0000ff"/>
<rect x="421.2" y="34.1" width="4.8" height="4.8" fill="#0000ff"/>
<rect x="444.2" y="35.4" width="4.8" height="4.8" fill="#0000ff"/>
<rect x="422.1" y="38.1" width="4.8" height="4.8" fill="#0000ff"/>
<rect x="438.0" y="39.2" width="4.8" height="4.8" fill="#0000ff"/>
<rect x="427.1" y="42.2" width="4.8" height="4.8" fill="#0000ff"/>
<rect x="403.0" y="45.2" width="4.8" height="4.8" fill="#0000ff"/>
<rect x="407.1" y="50.8" width="4.8" height="4.8" fill="#0000ff"/>
<rect x="404.7" y="53.8" width="4.8" height="4.8" fill="#0000ff"/>
<rect x="423.1" y="56.0" width="4.8" height="4.8" fill="#0000ff"/>
<rect x="428.1" y="58.2" width="4.8" height="4.8" fill="#0000ff"/>
<rect x="439.0" y="57.2" width="4.8" height="4.8" fill="#0000ff"/>
<rect x="414.3" y="61.0" width="4.8" height="4.8" fill="#0000ff"/>
<rect x="425.6" y="62.4" width="4.8" height="4.8" fill="#0000ff"/>
<rect x="408.2" y="68.2" width="4.8" height="4.8" fill="#0000ff"/>
<rect x="417.2" y="70.1" width="4.8" height="4.8" fill="#0000ff"/>
<rect x="431.4" y="72.2" width="4.8" height="4.8" fill="#0000ff"/>
<rect x="415.8" y="76.3" width="4.8" height="4.8" fill="#0000ff"/>
<rect x="438.1" y="76.9" width="4.8" height="4.8" fill="#0000ff"/>
<rect x="426.1" y="82.3" width="4.8" height="4.8" fill="#0000ff"/>
<rect x="436.4" y="84.3" width="4.8" height="4.8" fill="#0000ff"/>
<rect x="458.6" y="84.9" width="4.8" height="4.8" fill="#0000ff"/>
<rect x="437.4" y="90.4" width="4.8" height="4.8" fill="#0000ff"/>
<rect x="451.5" y="91.9" width="4.8" height="4.8" fill="#0000ff"/>
<rect x="454.4" y="94.5" width="4.8" height="4.8" fill="#0000ff"/>
<rect x="469.4" y="96.1" width="4.8" height="4.8" fill="#0000ff"/>
<rect x="455.6" y="100.6" width="4.8" height="4.8" fill="#0000ff"/>
<rect x="462.2" y="100.6" width="4.8" height="4.8" fill="#0000ff"/>
<rect x="451.2" y="105.7" width="4.8" height="4.8" fill="#0000ff"/>
<rect x="443.6" y="110.3" width="4.8" height="4.8" fill="#0000ff"/>
<rect x="431.0" y="90.8" width="4.8" height="4.8" fill="#0000ff"/>
</g>
<text transform="translate(371.3,115.7) rotate(-90)" text-anchor="middle" dominant-baseline="central" font-size="9.4" fill="#f28d3c">550 kg/m³</text>
<text transform="translate(455.2,29.6) rotate(-90)" text-anchor="middle" dominant-baseline="central" font-size="9.4" fill="#93615a">830 kg/m³</text>
<text transform="translate(281.2,144.5) scale(0.95,1)" font-size="9.4" fill="#222">Case-1 (b)</text>
<rect x="272.7" y="38.7" width="38.1" height="81.9" rx="1.5" fill="#fff" fill-opacity="0.8" stroke="#e0e0e0" stroke-width="0.8"/>
<line x1="274.7" y1="43.8" x2="287.4" y2="43.8" stroke="#000" stroke-width="1.5"/>
<text transform="translate(291.8,46.2) scale(0.86,1)" font-size="6.6" fill="#222">LIG</text>
<line x1="274.7" y1="52.8" x2="287.4" y2="52.8" stroke="#ff0000" stroke-width="1.5"/>
<text transform="translate(291.8,55.1) scale(0.86,1)" font-size="6.6" fill="#222">KM</text>
<path d="M278.85,59.94L283.25,59.94L281.05,64.34Z" fill="#000"/>
<text transform="translate(291.8,64.1) scale(0.86,1)" font-size="6.6" fill="#222">SP1</text>
<path d="M278.85,68.89L283.25,68.89L281.05,73.29Z" fill="#1a1a1a"/>
<text transform="translate(291.8,73.1) scale(0.86,1)" font-size="6.6" fill="#222">SP3</text>
<path d="M278.85,77.84L283.25,77.84L281.05,82.24Z" fill="#666"/>
<text transform="translate(291.8,82.0) scale(0.86,1)" font-size="6.6" fill="#222">SP4</text>
<path d="M278.85,86.79L283.25,86.79L281.05,91.19Z" fill="#8c564b"/>
<text transform="translate(291.8,91.0) scale(0.86,1)" font-size="6.6" fill="#222">SC1</text>
<path d="M278.85,95.74L283.25,95.74L281.05,100.14Z" fill="#c8a8a2"/>
<text transform="translate(291.8,99.9) scale(0.86,1)" font-size="6.6" fill="#222">FC1</text>
<rect x="278.7" y="104.4" width="4.6" height="4.0" fill="#0000ff"/>
<line x1="278.0" y1="106.4" x2="284.0" y2="106.4" stroke="#0000ff" stroke-opacity="0.6" stroke-width="1"/>
<text transform="translate(291.8,108.8) scale(0.86,1)" font-size="6.6" fill="#222">CMP3</text>
<rect x="278.7" y="113.4" width="4.6" height="4.0" fill="#ffa500"/>
<line x1="278.0" y1="115.4" x2="284.0" y2="115.4" stroke="#ffa500" stroke-opacity="0.6" stroke-width="1"/>
<text transform="translate(291.8,117.8) scale(0.86,1)" font-size="6.6" fill="#222">CMP4</text>
<rect x="270.3" y="8.4" width="223.8" height="143.0" fill="none" stroke="#787878" stroke-width="0.9"/>
<line x1="270.30" y1="151.4" x2="270.30" y2="153.9" stroke="#3a3a3a" stroke-width="0.8"/>
<line x1="301.38" y1="151.4" x2="301.38" y2="153.9" stroke="#3a3a3a" stroke-width="0.8"/>
<line x1="332.47" y1="151.4" x2="332.47" y2="153.9" stroke="#3a3a3a" stroke-width="0.8"/>
<line x1="363.55" y1="151.4" x2="363.55" y2="153.9" stroke="#3a3a3a" stroke-width="0.8"/>
<line x1="394.63" y1="151.4" x2="394.63" y2="153.9" stroke="#3a3a3a" stroke-width="0.8"/>
<line x1="425.72" y1="151.4" x2="425.72" y2="153.9" stroke="#3a3a3a" stroke-width="0.8"/>
<line x1="456.80" y1="151.4" x2="456.80" y2="153.9" stroke="#3a3a3a" stroke-width="0.8"/>
<line x1="487.88" y1="151.4" x2="487.88" y2="153.9" stroke="#3a3a3a" stroke-width="0.8"/>
<clipPath id="c1a"><rect x="32.5" y="171.4" width="223.8" height="143.0"/></clipPath>
<line x1="63.58" y1="171.4" x2="63.58" y2="314.4" stroke="#cccccc" stroke-width="0.9"/>
<line x1="94.67" y1="171.4" x2="94.67" y2="314.4" stroke="#cccccc" stroke-width="0.9"/>
<line x1="125.75" y1="171.4" x2="125.75" y2="314.4" stroke="#cccccc" stroke-width="0.9"/>
<line x1="156.83" y1="171.4" x2="156.83" y2="314.4" stroke="#cccccc" stroke-width="0.9"/>
<line x1="187.92" y1="171.4" x2="187.92" y2="314.4" stroke="#cccccc" stroke-width="0.9"/>
<line x1="219.00" y1="171.4" x2="219.00" y2="314.4" stroke="#cccccc" stroke-width="0.9"/>
<line x1="250.08" y1="171.4" x2="250.08" y2="314.4" stroke="#cccccc" stroke-width="0.9"/>
<line x1="32.5" y1="200.00" x2="256.3" y2="200.00" stroke="#cccccc" stroke-width="0.9"/>
<line x1="32.5" y1="228.60" x2="256.3" y2="228.60" stroke="#cccccc" stroke-width="0.9"/>
<line x1="32.5" y1="257.20" x2="256.3" y2="257.20" stroke="#cccccc" stroke-width="0.9"/>
<line x1="32.5" y1="285.80" x2="256.3" y2="285.80" stroke="#cccccc" stroke-width="0.9"/>
<line x1="141.29" y1="314.4" x2="141.29" y2="171.4" stroke="#f8a055" stroke-width="1.7" stroke-dasharray="4.2,2.1"/>
<line x1="228.32" y1="314.4" x2="228.32" y2="171.4" stroke="#ab7770" stroke-width="1.7" stroke-dasharray="4.2,2.1"/>
<g clip-path="url(#c1a)">
<line x1="69.2" y1="180.6" x2="89.0" y2="180.6" stroke="#000" stroke-opacity="0.68" stroke-width="1.15"/>
<line x1="96.4" y1="188.6" x2="116.8" y2="188.6" stroke="#000" stroke-opacity="0.68" stroke-width="1.15"/>
<line x1="101.0" y1="181.0" x2="126.0" y2="181.0" stroke="#000" stroke-opacity="0.68" stroke-width="1.15"/>
<line x1="108.0" y1="185.0" x2="133.0" y2="185.0" stroke="#000" stroke-opacity="0.68" stroke-width="1.15"/>
<line x1="115.6" y1="183.4" x2="137.2" y2="183.4" stroke="#000" stroke-opacity="0.68" stroke-width="1.15"/>
<line x1="117.0" y1="189.6" x2="145.0" y2="189.6" stroke="#000" stroke-opacity="0.68" stroke-width="1.15"/>
<line x1="113.0" y1="193.7" x2="141.0" y2="193.7" stroke="#000" stroke-opacity="0.68" stroke-width="1.15"/>
<line x1="133.0" y1="190.8" x2="153.0" y2="190.8" stroke="#000" stroke-opacity="0.68" stroke-width="1.15"/>
<line x1="141.0" y1="192.4" x2="159.0" y2="192.4" stroke="#000" stroke-opacity="0.68" stroke-width="1.15"/>
<line x1="138.0" y1="195.6" x2="167.6" y2="195.6" stroke="#000" stroke-opacity="0.68" stroke-width="1.15"/>
<line x1="143.0" y1="194.0" x2="160.0" y2="194.0" stroke="#000" stroke-opacity="0.68" stroke-width="1.15"/>
<line x1="145.0" y1="198.8" x2="168.0" y2="198.8" stroke="#000" stroke-opacity="0.68" stroke-width="1.15"/>
<line x1="150.8" y1="196.9" x2="178.0" y2="196.9" stroke="#000" stroke-opacity="0.68" stroke-width="1.15"/>
<line x1="150.8" y1="181.2" x2="179.6" y2="181.2" stroke="#000" stroke-opacity="0.68" stroke-width="1.15"/>
<line x1="122.0" y1="201.8" x2="148.0" y2="201.8" stroke="#000" stroke-opacity="0.68" stroke-width="1.15"/>
<line x1="145.0" y1="202.8" x2="171.0" y2="202.8" stroke="#000" stroke-opacity="0.68" stroke-width="1.15"/>
<line x1="142.0" y1="204.4" x2="166.0" y2="204.4" stroke="#000" stroke-opacity="0.68" stroke-width="1.15"/>
<line x1="120.0" y1="207.4" x2="148.0" y2="207.4" stroke="#000" stroke-opacity="0.68" stroke-width="1.15"/>
<line x1="146.0" y1="208.2" x2="173.0" y2="208.2" stroke="#000" stroke-opacity="0.68" stroke-width="1.15"/>
<line x1="150.8" y1="211.6" x2="178.8" y2="211.6" stroke="#000" stroke-opacity="0.68" stroke-width="1.15"/>
<line x1="136.0" y1="214.6" x2="163.6" y2="214.6" stroke="#000" stroke-opacity="0.68" stroke-width="1.15"/>
<line x1="116.0" y1="217.4" x2="140.0" y2="217.4" stroke="#000" stroke-opacity="0.68" stroke-width="1.15"/>
<line x1="122.0" y1="220.4" x2="142.0" y2="220.4" stroke="#000" stroke-opacity="0.68" stroke-width="1.15"/>
<line x1="130.0" y1="220.6" x2="160.0" y2="220.6" stroke="#000" stroke-opacity="0.68" stroke-width="1.15"/>
<line x1="148.0" y1="218.0" x2="176.0" y2="218.0" stroke="#000" stroke-opacity="0.68" stroke-width="1.15"/>
<line x1="155.0" y1="220.4" x2="181.0" y2="220.4" stroke="#000" stroke-opacity="0.68" stroke-width="1.15"/>
<line x1="160.0" y1="222.0" x2="190.0" y2="222.0" stroke="#000" stroke-opacity="0.68" stroke-width="1.15"/>
<line x1="174.0" y1="223.0" x2="200.0" y2="223.0" stroke="#000" stroke-opacity="0.68" stroke-width="1.15"/>
<line x1="162.0" y1="224.5" x2="188.0" y2="224.5" stroke="#000" stroke-opacity="0.68" stroke-width="1.15"/>
<line x1="178.0" y1="229.0" x2="212.0" y2="229.0" stroke="#000" stroke-opacity="0.68" stroke-width="1.15"/>
<line x1="168.0" y1="232.6" x2="204.0" y2="232.6" stroke="#000" stroke-opacity="0.68" stroke-width="1.15"/>
<line x1="168.0" y1="234.6" x2="200.0" y2="234.6" stroke="#000" stroke-opacity="0.68" stroke-width="1.15"/>
<line x1="182.0" y1="235.6" x2="215.0" y2="235.6" stroke="#000" stroke-opacity="0.68" stroke-width="1.15"/>
<line x1="156.0" y1="242.0" x2="186.0" y2="242.0" stroke="#000" stroke-opacity="0.68" stroke-width="1.15"/>
<line x1="178.0" y1="243.6" x2="208.0" y2="243.6" stroke="#000" stroke-opacity="0.68" stroke-width="1.15"/>
<line x1="152.0" y1="249.0" x2="184.0" y2="249.0" stroke="#000" stroke-opacity="0.68" stroke-width="1.15"/>
<line x1="172.0" y1="249.0" x2="207.0" y2="249.0" stroke="#000" stroke-opacity="0.68" stroke-width="1.15"/>
<line x1="174.0" y1="253.6" x2="210.0" y2="253.6" stroke="#000" stroke-opacity="0.68" stroke-width="1.15"/>
<line x1="212.0" y1="253.6" x2="229.0" y2="253.6" stroke="#000" stroke-opacity="0.68" stroke-width="1.15"/>
<line x1="210.0" y1="254.6" x2="253.0" y2="254.6" stroke="#000" stroke-opacity="0.68" stroke-width="1.15"/>
<line x1="210.0" y1="255.4" x2="253.0" y2="255.4" stroke="#000" stroke-opacity="0.68" stroke-width="1.15"/>
<line x1="186.0" y1="265.0" x2="220.0" y2="265.0" stroke="#000" stroke-opacity="0.68" stroke-width="1.15"/>
<line x1="195.0" y1="265.6" x2="229.0" y2="265.6" stroke="#000" stroke-opacity="0.68" stroke-width="1.15"/>
<line x1="190.0" y1="269.4" x2="224.0" y2="269.4" stroke="#000" stroke-opacity="0.68" stroke-width="1.15"/>
<line x1="185.0" y1="273.4" x2="218.0" y2="273.4" stroke="#000" stroke-opacity="0.68" stroke-width="1.15"/>
<polyline points="64.2,171.4 67.2,177.6 70.2,180.0 75.6,181.2 81.6,183.6 96.0,186.0 97.2,187.8 100.8,189.6 99.6,192.0 105.6,193.8 111.6,195.0 119.6,197.6 131.6,200.6 138.8,204.2 144.8,207.2 148.4,212.0 153.2,214.4 160.0,219.8 169.6,228.6 171.2,232.6 172.8,239.0 182.4,245.4 182.4,249.4 195.2,257.4 188.8,260.6 196.8,267.8 206.4,274.2 210.0,276.4 205.8,278.8 207.0,281.5 217.5,287.5 216.5,291.0 217.0,294.0 223.0,298.5 219.0,299.5 220.0,303.5 228.0,308.0 224.5,311.0 225.0,314.4" fill="none" stroke="#0000ff" stroke-width="1.7" stroke-linejoin="round"/>
<polyline points="64.2,171.4 66.0,174.0 67.2,177.6 70.2,180.0 75.6,181.2 84.0,183.6 96.0,184.8 102.0,186.6 108.0,190.2 114.0,192.0 117.2,194.6 128.0,197.6 140.0,200.6 146.0,204.2 153.2,210.8 161.6,215.0 169.6,219.8 174.4,224.6 180.8,227.0 173.6,231.0 179.2,237.4 184.0,242.2 187.2,248.6 198.4,257.4 192.0,261.4 196.8,266.2 209.6,274.2 213.0,275.5 207.0,277.5 208.0,280.0 220.0,286.5 218.5,289.0 218.0,292.0 220.0,295.0 223.5,296.5 220.0,298.5 221.0,301.5 229.0,307.0 225.5,310.0 225.5,314.4" fill="none" stroke="#008000" stroke-width="1.7" stroke-linejoin="round"/>
<path d="M41.00,170.68L45.80,170.68L43.40,175.48Z" fill="#8c564b" fill-opacity="0.92"/>
<path d="M55.40,170.68L60.20,170.68L57.80,175.48Z" fill="#8c564b" fill-opacity="0.92"/>
<path d="M58.40,170.68L63.20,170.68L60.80,175.48Z" fill="#8c564b" fill-opacity="0.92"/>
<path d="M71.80,171.08L76.60,171.08L74.20,175.88Z" fill="#8c564b" fill-opacity="0.92"/>
<path d="M84.00,173.08L88.80,173.08L86.40,177.88Z" fill="#8c564b" fill-opacity="0.92"/>
<path d="M87.20,172.08L92.00,172.08L89.60,176.88Z" fill="#8c564b" fill-opacity="0.92"/>
<path d="M90.40,171.08L95.20,171.08L92.80,175.88Z" fill="#8c564b" fill-opacity="0.92"/>
<path d="M93.80,173.58L98.60,173.58L96.20,178.38Z" fill="#8c564b" fill-opacity="0.92"/>
<path d="M95.20,174.58L100.00,174.58L97.60,179.38Z" fill="#8c564b" fill-opacity="0.92"/>
<path d="M89.80,179.28L94.60,179.28L92.20,184.08Z" fill="#8c564b" fill-opacity="0.92"/>
<path d="M101.00,173.08L105.80,173.08L103.40,177.88Z" fill="#8c564b" fill-opacity="0.92"/>
<path d="M103.80,174.58L108.60,174.58L106.20,179.38Z" fill="#8c564b" fill-opacity="0.92"/>
<path d="M102.00,182.48L106.80,182.48L104.40,187.28Z" fill="#8c564b" fill-opacity="0.92"/>
<path d="M113.80,177.58L118.60,177.58L116.20,182.38Z" fill="#8c564b" fill-opacity="0.92"/>
<path d="M118.90,178.08L123.70,178.08L121.30,182.88Z" fill="#8c564b" fill-opacity="0.92"/>
<path d="M119.20,184.08L124.00,184.08L121.60,188.88Z" fill="#8c564b" fill-opacity="0.92"/>
<path d="M126.40,177.48L131.20,177.48L128.80,182.28Z" fill="#8c564b" fill-opacity="0.92"/>
<path d="M131.90,184.28L136.70,184.28L134.30,189.08Z" fill="#8c564b" fill-opacity="0.92"/>
<path d="M134.30,180.08L139.10,180.08L136.70,184.88Z" fill="#8c564b" fill-opacity="0.92"/>
<path d="M138.40,182.08L143.20,182.08L140.80,186.88Z" fill="#8c564b" fill-opacity="0.92"/>
<path d="M48.00,170.68L52.80,170.68L50.40,175.48Z" fill="#000"/>
<path d="M69.20,171.68L74.00,171.68L71.60,176.48Z" fill="#000"/>
<path d="M75.10,170.88L79.90,170.88L77.50,175.68Z" fill="#000"/>
<path d="M82.20,170.68L87.00,170.68L84.60,175.48Z" fill="#000"/>
<rect x="77.0" y="178.2" width="4.8" height="4.8" fill="#000"/>
<rect x="106.0" y="186.2" width="4.8" height="4.8" fill="#000"/>
<rect x="110.8" y="178.6" width="4.8" height="4.8" fill="#000"/>
<rect x="115.6" y="182.6" width="4.8" height="4.8" fill="#000"/>
<rect x="123.6" y="181.0" width="4.8" height="4.8" fill="#000"/>
<rect x="127.6" y="187.2" width="4.8" height="4.8" fill="#000"/>
<rect x="123.8" y="191.3" width="4.8" height="4.8" fill="#000"/>
<rect x="137.5" y="188.4" width="4.8" height="4.8" fill="#000"/>
<rect x="144.4" y="190.0" width="4.8" height="4.8" fill="#000"/>
<rect x="148.4" y="193.2" width="4.8" height="4.8" fill="#000"/>
<rect x="152.4" y="191.6" width="4.8" height="4.8" fill="#000"/>
<rect x="154.0" y="196.4" width="4.8" height="4.8" fill="#000"/>
<rect x="161.2" y="194.5" width="4.8" height="4.8" fill="#000"/>
<rect x="163.6" y="178.8" width="4.8" height="4.8" fill="#000"/>
<rect x="132.4" y="199.4" width="4.8" height="4.8" fill="#000"/>
<rect x="155.6" y="200.4" width="4.8" height="4.8" fill="#000"/>
<rect x="152.4" y="202.0" width="4.8" height="4.8" fill="#000"/>
<rect x="130.4" y="205.0" width="4.8" height="4.8" fill="#000"/>
<rect x="157.2" y="205.8" width="4.8" height="4.8" fill="#000"/>
<rect x="162.6" y="209.2" width="4.8" height="4.8" fill="#000"/>
<rect x="147.6" y="212.2" width="4.8" height="4.8" fill="#000"/>
<rect x="126.2" y="215.0" width="4.8" height="4.8" fill="#000"/>
<rect x="129.6" y="218.0" width="4.8" height="4.8" fill="#000"/>
<rect x="142.6" y="218.2" width="4.8" height="4.8" fill="#000"/>
<rect x="159.2" y="215.6" width="4.8" height="4.8" fill="#000"/>
<rect x="165.6" y="218.0" width="4.8" height="4.8" fill="#000"/>
<rect x="172.6" y="219.6" width="4.8" height="4.8" fill="#000"/>
<rect x="185.0" y="220.6" width="4.8" height="4.8" fill="#000"/>
<rect x="172.6" y="222.1" width="4.8" height="4.8" fill="#000"/>
<rect x="194.6" y="226.6" width="4.8" height="4.8" fill="#000"/>
<rect x="182.0" y="230.2" width="4.8" height="4.8" fill="#000"/>
<rect x="180.6" y="232.2" width="4.8" height="4.8" fill="#000"/>
<rect x="197.2" y="233.2" width="4.8" height="4.8" fill="#000"/>
<rect x="169.2" y="239.6" width="4.8" height="4.8" fill="#000"/>
<rect x="190.6" y="241.2" width="4.8" height="4.8" fill="#000"/>
<rect x="166.0" y="246.6" width="4.8" height="4.8" fill="#000"/>
<rect x="189.2" y="246.6" width="4.8" height="4.8" fill="#000"/>
<rect x="187.6" y="251.2" width="4.8" height="4.8" fill="#000"/>
<rect x="218.6" y="251.2" width="4.8" height="4.8" fill="#000"/>
<rect x="227.2" y="252.2" width="4.8" height="4.8" fill="#000"/>
<rect x="232.6" y="253.0" width="4.8" height="4.8" fill="#000"/>
<rect x="201.6" y="262.6" width="4.8" height="4.8" fill="#000"/>
<rect x="210.0" y="263.2" width="4.8" height="4.8" fill="#000"/>
<rect x="205.6" y="267.0" width="4.8" height="4.8" fill="#000"/>
<rect x="199.2" y="271.0" width="4.8" height="4.8" fill="#000"/>
</g>
<text transform="translate(133.5,278.6) rotate(-90)" text-anchor="middle" dominant-baseline="central" font-size="9.4" fill="#f28d3c">550 kg/m³</text>
<text transform="translate(217.4,192.6) rotate(-90)" text-anchor="middle" dominant-baseline="central" font-size="9.4" fill="#93615a">830 kg/m³</text>
<text transform="translate(43.4,307.5) scale(0.95,1)" font-size="9.4" fill="#222">Case-2 (a)</text>
<rect x="35.0" y="219.1" width="38.6" height="46.6" rx="1.5" fill="#fff" fill-opacity="0.8" stroke="#e0e0e0" stroke-width="0.8"/>
<line x1="37.0" y1="224.2" x2="49.7" y2="224.2" stroke="#0000ff" stroke-width="1.5"/>
<text transform="translate(54.1,226.6) scale(0.93,1)" font-size="6.6" fill="#222">LIG-fit</text>
<line x1="37.0" y1="233.2" x2="49.7" y2="233.2" stroke="#008000" stroke-width="1.5"/>
<text transform="translate(54.1,235.6) scale(0.93,1)" font-size="6.6" fill="#222">KM-fit</text>
<path d="M41.15,240.34L45.55,240.34L43.35,244.74Z" fill="#000"/>
<text transform="translate(54.1,244.5) scale(0.86,1)" font-size="6.6" fill="#222">SP2</text>
<path d="M41.15,249.29L45.55,249.29L43.35,253.69Z" fill="#8c564b"/>
<text transform="translate(54.1,253.5) scale(0.86,1)" font-size="6.6" fill="#222">SC2</text>
<rect x="41.1" y="258.0" width="4.6" height="4.0" fill="#000"/>
<line x1="40.1" y1="260.0" x2="46.6" y2="260.0" stroke="#000" stroke-width="1"/>
<text transform="translate(54.1,262.4) scale(0.86,1)" font-size="6.6" fill="#222">CMP2</text>
<rect x="32.5" y="171.4" width="223.8" height="143.0" fill="none" stroke="#787878" stroke-width="0.9"/>
<line x1="32.50" y1="314.4" x2="32.50" y2="316.9" stroke="#3a3a3a" stroke-width="0.8"/>
<line x1="63.58" y1="314.4" x2="63.58" y2="316.9" stroke="#3a3a3a" stroke-width="0.8"/>
<line x1="94.67" y1="314.4" x2="94.67" y2="316.9" stroke="#3a3a3a" stroke-width="0.8"/>
<line x1="125.75" y1="314.4" x2="125.75" y2="316.9" stroke="#3a3a3a" stroke-width="0.8"/>
<line x1="156.83" y1="314.4" x2="156.83" y2="316.9" stroke="#3a3a3a" stroke-width="0.8"/>
<line x1="187.92" y1="314.4" x2="187.92" y2="316.9" stroke="#3a3a3a" stroke-width="0.8"/>
<line x1="219.00" y1="314.4" x2="219.00" y2="316.9" stroke="#3a3a3a" stroke-width="0.8"/>
<line x1="250.08" y1="314.4" x2="250.08" y2="316.9" stroke="#3a3a3a" stroke-width="0.8"/>
<text x="27.9" y="174.6" text-anchor="end" font-size="9" fill="#222">0</text>
<text x="27.9" y="203.2" text-anchor="end" font-size="9" fill="#222">10</text>
<text x="27.9" y="231.8" text-anchor="end" font-size="9" fill="#222">20</text>
<text x="27.9" y="260.4" text-anchor="end" font-size="9" fill="#222">30</text>
<text x="27.9" y="289.0" text-anchor="end" font-size="9" fill="#222">40</text>
<text x="27.9" y="317.6" text-anchor="end" font-size="9" fill="#222">50</text>
<text transform="translate(8.3,242.9) rotate(-90)" text-anchor="middle" dominant-baseline="central" font-size="9.6" fill="#222">Depth (m)</text>
<clipPath id="c1b"><rect x="270.3" y="171.4" width="223.8" height="143.0"/></clipPath>
<line x1="301.38" y1="171.4" x2="301.38" y2="314.4" stroke="#cccccc" stroke-width="0.9"/>
<line x1="332.47" y1="171.4" x2="332.47" y2="314.4" stroke="#cccccc" stroke-width="0.9"/>
<line x1="363.55" y1="171.4" x2="363.55" y2="314.4" stroke="#cccccc" stroke-width="0.9"/>
<line x1="394.63" y1="171.4" x2="394.63" y2="314.4" stroke="#cccccc" stroke-width="0.9"/>
<line x1="425.72" y1="171.4" x2="425.72" y2="314.4" stroke="#cccccc" stroke-width="0.9"/>
<line x1="456.80" y1="171.4" x2="456.80" y2="314.4" stroke="#cccccc" stroke-width="0.9"/>
<line x1="487.88" y1="171.4" x2="487.88" y2="314.4" stroke="#cccccc" stroke-width="0.9"/>
<line x1="270.3" y1="200.00" x2="494.1" y2="200.00" stroke="#cccccc" stroke-width="0.9"/>
<line x1="270.3" y1="228.60" x2="494.1" y2="228.60" stroke="#cccccc" stroke-width="0.9"/>
<line x1="270.3" y1="257.20" x2="494.1" y2="257.20" stroke="#cccccc" stroke-width="0.9"/>
<line x1="270.3" y1="285.80" x2="494.1" y2="285.80" stroke="#cccccc" stroke-width="0.9"/>
<line x1="379.09" y1="314.4" x2="379.09" y2="171.4" stroke="#f8a055" stroke-width="1.7" stroke-dasharray="4.2,2.1"/>
<line x1="466.12" y1="314.4" x2="466.12" y2="171.4" stroke="#ab7770" stroke-width="1.7" stroke-dasharray="4.2,2.1"/>
<g clip-path="url(#c1b)">
<line x1="298.6" y1="178.8" x2="317.8" y2="178.8" stroke="#ffa500" stroke-opacity="0.7" stroke-width="1.4"/>
<line x1="333.0" y1="187.7" x2="350.0" y2="187.7" stroke="#ffa500" stroke-opacity="0.7" stroke-width="1.4"/>
<line x1="343.0" y1="189.5" x2="359.0" y2="189.5" stroke="#ffa500" stroke-opacity="0.7" stroke-width="1.4"/>
<line x1="353.0" y1="184.0" x2="369.0" y2="184.0" stroke="#ffa500" stroke-opacity="0.7" stroke-width="1.4"/>
<line x1="356.0" y1="190.2" x2="377.0" y2="190.2" stroke="#ffa500" stroke-opacity="0.7" stroke-width="1.4"/>
<line x1="371.0" y1="179.4" x2="397.6" y2="179.4" stroke="#ffa500" stroke-opacity="0.7" stroke-width="1.4"/>
<line x1="378.0" y1="192.6" x2="394.0" y2="192.6" stroke="#ffa500" stroke-opacity="0.7" stroke-width="1.4"/>
<line x1="382.0" y1="193.0" x2="398.0" y2="193.0" stroke="#ffa500" stroke-opacity="0.7" stroke-width="1.4"/>
<line x1="349.0" y1="201.9" x2="373.0" y2="201.9" stroke="#ffa500" stroke-opacity="0.7" stroke-width="1.4"/>
<line x1="399.0" y1="194.4" x2="418.0" y2="194.4" stroke="#ffa500" stroke-opacity="0.7" stroke-width="1.4"/>
<line x1="402.0" y1="197.2" x2="422.0" y2="197.2" stroke="#ffa500" stroke-opacity="0.7" stroke-width="1.4"/>
<line x1="404.0" y1="195.2" x2="424.0" y2="195.2" stroke="#ffa500" stroke-opacity="0.7" stroke-width="1.4"/>
<line x1="410.0" y1="202.2" x2="430.0" y2="202.2" stroke="#ffa500" stroke-opacity="0.7" stroke-width="1.4"/>
<line x1="426.0" y1="202.8" x2="446.0" y2="202.8" stroke="#ffa500" stroke-opacity="0.7" stroke-width="1.4"/>
<line x1="397.0" y1="207.0" x2="417.0" y2="207.0" stroke="#ffa500" stroke-opacity="0.7" stroke-width="1.4"/>
<line x1="409.0" y1="210.6" x2="429.0" y2="210.6" stroke="#ffa500" stroke-opacity="0.7" stroke-width="1.4"/>
<line x1="430.0" y1="213.6" x2="462.0" y2="213.6" stroke="#ffa500" stroke-opacity="0.7" stroke-width="1.4"/>
<line x1="426.0" y1="217.2" x2="446.0" y2="217.2" stroke="#ffa500" stroke-opacity="0.7" stroke-width="1.4"/>
<line x1="420.0" y1="219.3" x2="456.0" y2="219.3" stroke="#ffa500" stroke-opacity="0.7" stroke-width="1.4"/>
<line x1="425.0" y1="226.8" x2="445.0" y2="226.8" stroke="#ffa500" stroke-opacity="0.7" stroke-width="1.4"/>
<line x1="450.8" y1="221.0" x2="485.7" y2="221.0" stroke="#ffa500" stroke-opacity="0.7" stroke-width="1.4"/>
<line x1="434.0" y1="229.7" x2="468.0" y2="229.7" stroke="#ffa500" stroke-opacity="0.7" stroke-width="1.4"/>
<line x1="455.0" y1="230.8" x2="492.0" y2="230.8" stroke="#ffa500" stroke-opacity="0.7" stroke-width="1.4"/>
<line x1="438.0" y1="236.1" x2="472.0" y2="236.1" stroke="#ffa500" stroke-opacity="0.7" stroke-width="1.4"/>
<line x1="322.0" y1="179.6" x2="344.0" y2="179.6" stroke="#0000ff" stroke-opacity="0.72" stroke-width="1.4"/>
<line x1="344.0" y1="181.0" x2="370.0" y2="181.0" stroke="#0000ff" stroke-opacity="0.72" stroke-width="1.4"/>
<line x1="352.0" y1="182.2" x2="380.0" y2="182.2" stroke="#0000ff" stroke-opacity="0.72" stroke-width="1.4"/>
<line x1="356.0" y1="184.6" x2="384.0" y2="184.6" stroke="#0000ff" stroke-opacity="0.72" stroke-width="1.4"/>
<line x1="346.0" y1="187.6" x2="372.0" y2="187.6" stroke="#0000ff" stroke-opacity="0.72" stroke-width="1.4"/>
<line x1="339.0" y1="191.8" x2="362.0" y2="191.8" stroke="#0000ff" stroke-opacity="0.72" stroke-width="1.4"/>
<line x1="362.0" y1="193.0" x2="390.0" y2="193.0" stroke="#0000ff" stroke-opacity="0.72" stroke-width="1.4"/>
<line x1="380.0" y1="192.4" x2="408.0" y2="192.4" stroke="#0000ff" stroke-opacity="0.72" stroke-width="1.4"/>
<line x1="384.0" y1="191.2" x2="410.0" y2="191.2" stroke="#0000ff" stroke-opacity="0.72" stroke-width="1.4"/>
<line x1="372.0" y1="199.0" x2="420.0" y2="199.0" stroke="#0000ff" stroke-opacity="0.72" stroke-width="1.4"/>
<line x1="355.0" y1="214.6" x2="398.0" y2="214.6" stroke="#0000ff" stroke-opacity="0.72" stroke-width="1.4"/>
<line x1="370.0" y1="214.7" x2="415.0" y2="214.7" stroke="#0000ff" stroke-opacity="0.72" stroke-width="1.4"/>
<line x1="405.0" y1="194.4" x2="432.0" y2="194.4" stroke="#0000ff" stroke-opacity="0.72" stroke-width="1.4"/>
<line x1="414.0" y1="195.2" x2="440.0" y2="195.2" stroke="#0000ff" stroke-opacity="0.72" stroke-width="1.4"/>
<line x1="426.0" y1="196.1" x2="461.0" y2="196.1" stroke="#0000ff" stroke-opacity="0.72" stroke-width="1.4"/>
<line x1="410.0" y1="199.5" x2="437.0" y2="199.5" stroke="#0000ff" stroke-opacity="0.72" stroke-width="1.4"/>
<line x1="430.0" y1="200.8" x2="463.0" y2="200.8" stroke="#0000ff" stroke-opacity="0.72" stroke-width="1.4"/>
<line x1="411.0" y1="203.5" x2="438.0" y2="203.5" stroke="#0000ff" stroke-opacity="0.72" stroke-width="1.4"/>
<line x1="427.0" y1="204.6" x2="455.0" y2="204.6" stroke="#0000ff" stroke-opacity="0.72" stroke-width="1.4"/>
<line x1="416.0" y1="207.6" x2="443.0" y2="207.6" stroke="#0000ff" stroke-opacity="0.72" stroke-width="1.4"/>
<line x1="392.0" y1="210.6" x2="418.0" y2="210.6" stroke="#0000ff" stroke-opacity="0.72" stroke-width="1.4"/>
<line x1="396.0" y1="216.2" x2="423.0" y2="216.2" stroke="#0000ff" stroke-opacity="0.72" stroke-width="1.4"/>
<line x1="393.0" y1="219.2" x2="421.0" y2="219.2" stroke="#0000ff" stroke-opacity="0.72" stroke-width="1.4"/>
<line x1="412.0" y1="221.4" x2="439.0" y2="221.4" stroke="#0000ff" stroke-opacity="0.72" stroke-width="1.4"/>
<line x1="417.0" y1="223.6" x2="444.0" y2="223.6" stroke="#0000ff" stroke-opacity="0.72" stroke-width="1.4"/>
<line x1="428.0" y1="222.6" x2="455.0" y2="222.6" stroke="#0000ff" stroke-opacity="0.72" stroke-width="1.4"/>
<line x1="403.0" y1="226.4" x2="430.0" y2="226.4" stroke="#0000ff" stroke-opacity="0.72" stroke-width="1.4"/>
<line x1="414.0" y1="227.8" x2="441.0" y2="227.8" stroke="#0000ff" stroke-opacity="0.72" stroke-width="1.4"/>
<line x1="396.0" y1="233.6" x2="425.0" y2="233.6" stroke="#0000ff" stroke-opacity="0.72" stroke-width="1.4"/>
<line x1="405.0" y1="235.5" x2="434.0" y2="235.5" stroke="#0000ff" stroke-opacity="0.72" stroke-width="1.4"/>
<line x1="420.0" y1="237.6" x2="448.0" y2="237.6" stroke="#0000ff" stroke-opacity="0.72" stroke-width="1.4"/>
<line x1="403.0" y1="241.7" x2="433.0" y2="241.7" stroke="#0000ff" stroke-opacity="0.72" stroke-width="1.4"/>
<line x1="425.0" y1="242.3" x2="456.0" y2="242.3" stroke="#0000ff" stroke-opacity="0.72" stroke-width="1.4"/>
<line x1="413.0" y1="247.7" x2="444.0" y2="247.7" stroke="#0000ff" stroke-opacity="0.72" stroke-width="1.4"/>
<line x1="425.0" y1="249.7" x2="453.0" y2="249.7" stroke="#0000ff" stroke-opacity="0.72" stroke-width="1.4"/>
<line x1="442.0" y1="250.3" x2="477.0" y2="250.3" stroke="#0000ff" stroke-opacity="0.72" stroke-width="1.4"/>
<line x1="423.0" y1="255.8" x2="457.0" y2="255.8" stroke="#0000ff" stroke-opacity="0.72" stroke-width="1.4"/>
<line x1="440.0" y1="257.3" x2="468.0" y2="257.3" stroke="#0000ff" stroke-opacity="0.72" stroke-width="1.4"/>
<line x1="440.0" y1="259.9" x2="490.0" y2="259.9" stroke="#0000ff" stroke-opacity="0.72" stroke-width="1.4"/>
<line x1="455.0" y1="261.5" x2="490.0" y2="261.5" stroke="#0000ff" stroke-opacity="0.72" stroke-width="1.4"/>
<line x1="441.0" y1="266.0" x2="474.0" y2="266.0" stroke="#0000ff" stroke-opacity="0.72" stroke-width="1.4"/>
<line x1="440.6" y1="266.0" x2="481.4" y2="266.0" stroke="#0000ff" stroke-opacity="0.72" stroke-width="1.4"/>
<line x1="436.4" y1="271.1" x2="470.0" y2="271.1" stroke="#0000ff" stroke-opacity="0.72" stroke-width="1.4"/>
<line x1="429.2" y1="275.7" x2="461.6" y2="275.7" stroke="#0000ff" stroke-opacity="0.72" stroke-width="1.4"/>
<line x1="420.0" y1="256.2" x2="447.0" y2="256.2" stroke="#0000ff" stroke-opacity="0.72" stroke-width="1.4"/>
<polyline transform="translate(-1.2,0.7)" points="302.2,171.4 305.8,174.0 309.4,178.8 314.2,180.6 319.0,183.6 331.0,185.5 334.6,189.0 343.0,191.5 353.2,195.8 364.0,198.8 372.4,201.2 377.2,204.2 383.2,209.0 388.0,212.6 391.0,214.0 398.2,217.0 403.0,218.2 410.2,223.0 413.8,226.0 411.4,229.0 415.0,233.8 415.0,236.5 412.5,238.3 420.2,241.9 424.4,244.3 426.6,248.8 436.2,256.6 431.4,259.0 437.4,263.8 433.5,266.2 436.5,269.8 443.0,272.0 447.5,274.3 452.0,276.4 444.8,278.2 449.0,283.0 457.4,287.2 456.2,290.8 461.0,297.4 456.8,299.8 465.8,307.0 462.8,310.0 465.8,314.4" fill="none" stroke="#000" stroke-width="1.9" stroke-linejoin="round"/>
<polyline points="302.2,171.4 305.8,174.0 309.4,178.8 314.2,180.6 319.0,183.6 331.0,184.8 340.3,188.0 352.0,194.0 364.0,197.0 373.6,199.4 379.6,201.8 384.4,206.0 390.4,207.8 386.2,208.6 392.2,212.8 399.4,215.2 403.0,218.2 410.2,223.0 413.8,226.0 411.4,229.0 415.0,233.8 415.0,236.5 412.5,238.3 420.2,241.9 424.4,244.3 426.6,248.8 436.2,256.6 431.4,259.0 437.4,263.8 433.5,266.2 436.5,269.8 443.0,272.0 447.5,274.3 452.0,276.4 444.8,278.2 449.0,283.0 457.4,287.2 456.2,290.8 461.0,297.4 456.8,299.8 465.8,307.0 462.8,310.0 465.8,314.4" fill="none" stroke="#ff0000" stroke-width="1.7" stroke-linejoin="round"/>
<path d="M268.60,170.88L273.40,170.88L271.00,175.68Z" fill="#8c564b" fill-opacity="0.92"/>
<path d="M272.60,170.88L277.40,170.88L275.00,175.68Z" fill="#8c564b" fill-opacity="0.92"/>
<path d="M280.60,171.48L285.40,171.48L283.00,176.28Z" fill="#8c564b" fill-opacity="0.92"/>
<path d="M283.60,172.68L288.40,172.68L286.00,177.48Z" fill="#8c564b" fill-opacity="0.92"/>
<path d="M317.40,172.08L322.20,172.08L319.80,176.88Z" fill="#8c564b" fill-opacity="0.92"/>
<path d="M327.10,172.08L331.90,172.08L329.50,176.88Z" fill="#8c564b" fill-opacity="0.92"/>
<path d="M335.60,172.58L340.40,172.58L338.00,177.38Z" fill="#8c564b" fill-opacity="0.92"/>
<path d="M338.60,174.08L343.40,174.08L341.00,178.88Z" fill="#8c564b" fill-opacity="0.92"/>
<path d="M338.80,174.48L343.60,174.48L341.20,179.28Z" fill="#8c564b" fill-opacity="0.92"/>
<path d="M338.40,174.08L343.20,174.08L340.80,178.88Z" fill="#b08a84" fill-opacity="0.8"/>
<path d="M359.20,177.28L364.00,177.28L361.60,182.08Z" fill="#b08a84" fill-opacity="0.8"/>
<path d="M371.20,174.88L376.00,174.88L373.60,179.68Z" fill="#b08a84" fill-opacity="0.8"/>
<path d="M378.40,180.28L383.20,180.28L380.80,185.08Z" fill="#b08a84" fill-opacity="0.8"/>
<path d="M385.00,182.68L389.80,182.68L387.40,187.48Z" fill="#b08a84" fill-opacity="0.8"/>
<path d="M392.80,183.88L397.60,183.88L395.20,188.68Z" fill="#b08a84" fill-opacity="0.8"/>
<path d="M371.20,185.08L376.00,185.08L373.60,189.88Z" fill="#b08a84" fill-opacity="0.8"/>
<path d="M376.60,185.08L381.40,185.08L379.00,189.88Z" fill="#b08a84" fill-opacity="0.8"/>
<path d="M381.40,185.68L386.20,185.68L383.80,190.48Z" fill="#b08a84" fill-opacity="0.8"/>
<path d="M388.00,187.48L392.80,187.48L390.40,192.28Z" fill="#b08a84" fill-opacity="0.8"/>
<path d="M398.40,186.88L403.20,186.88L400.80,191.68Z" fill="#b08a84" fill-opacity="0.8"/>
<path d="M403.20,188.48L408.00,188.48L405.60,193.28Z" fill="#b08a84" fill-opacity="0.8"/>
<path d="M292.60,171.28L297.40,171.28L295.00,176.08Z" fill="#000"/>
<path d="M298.20,171.28L303.00,171.28L300.60,176.08Z" fill="#111"/>
<path d="M305.00,171.48L309.80,171.48L307.40,176.28Z" fill="#000"/>
<path d="M311.00,171.48L315.80,171.48L313.40,176.28Z" fill="#111"/>
<path d="M320.20,171.48L325.00,171.48L322.60,176.28Z" fill="#000"/>
<path d="M324.10,171.68L328.90,171.68L326.50,176.48Z" fill="#222"/>
<path d="M331.10,171.48L335.90,171.48L333.50,176.28Z" fill="#333"/>
<path d="M333.60,171.68L338.40,171.68L336.00,176.48Z" fill="#555"/>
<path d="M344.60,171.48L349.40,171.48L347.00,176.28Z" fill="#000"/>
<path d="M348.60,173.08L353.40,173.08L351.00,177.88Z" fill="#333"/>
<path d="M352.10,171.28L356.90,171.28L354.50,176.08Z" fill="#000"/>
<path d="M354.10,173.08L358.90,173.08L356.50,177.88Z" fill="#555"/>
<path d="M335.60,174.88L340.40,174.88L338.00,179.68Z" fill="#222"/>
<path d="M342.00,175.88L346.80,175.88L344.40,180.68Z" fill="#000"/>
<path d="M348.40,173.68L353.20,173.68L350.80,178.48Z" fill="#333"/>
<rect x="305.8" y="176.4" width="4.8" height="4.8" fill="#ffa500"/>
<rect x="342.4" y="185.3" width="4.8" height="4.8" fill="#ffa500"/>
<rect x="348.3" y="187.1" width="4.8" height="4.8" fill="#ffa500"/>
<rect x="358.6" y="181.6" width="4.8" height="4.8" fill="#ffa500"/>
<rect x="365.0" y="187.8" width="4.8" height="4.8" fill="#ffa500"/>
<rect x="382.6" y="177.0" width="4.8" height="4.8" fill="#ffa500"/>
<rect x="383.9" y="190.2" width="4.8" height="4.8" fill="#ffa500"/>
<rect x="387.4" y="190.6" width="4.8" height="4.8" fill="#ffa500"/>
<rect x="359.1" y="199.5" width="4.8" height="4.8" fill="#ffa500"/>
<rect x="406.4" y="192.0" width="4.8" height="4.8" fill="#ffa500"/>
<rect x="410.0" y="194.8" width="4.8" height="4.8" fill="#ffa500"/>
<rect x="411.9" y="192.8" width="4.8" height="4.8" fill="#ffa500"/>
<rect x="418.6" y="199.8" width="4.8" height="4.8" fill="#ffa500"/>
<rect x="434.1" y="200.4" width="4.8" height="4.8" fill="#ffa500"/>
<rect x="404.2" y="204.6" width="4.8" height="4.8" fill="#ffa500"/>
<rect x="416.8" y="208.2" width="4.8" height="4.8" fill="#ffa500"/>
<rect x="442.0" y="211.2" width="4.8" height="4.8" fill="#ffa500"/>
<rect x="434.2" y="214.8" width="4.8" height="4.8" fill="#ffa500"/>
<rect x="432.4" y="216.9" width="4.8" height="4.8" fill="#ffa500"/>
<rect x="433.0" y="224.4" width="4.8" height="4.8" fill="#ffa500"/>
<rect x="466.3" y="218.6" width="4.8" height="4.8" fill="#ffa500"/>
<rect x="449.6" y="227.3" width="4.8" height="4.8" fill="#ffa500"/>
<rect x="471.8" y="228.4" width="4.8" height="4.8" fill="#ffa500"/>
<rect x="453.4" y="233.7" width="4.8" height="4.8" fill="#ffa500"/>
<rect x="330.8" y="177.2" width="4.8" height="4.8" fill="#0000ff"/>
<rect x="354.4" y="178.6" width="4.8" height="4.8" fill="#0000ff"/>
<rect x="364.0" y="179.8" width="4.8" height="4.8" fill="#0000ff"/>
<rect x="367.0" y="182.2" width="4.8" height="4.8" fill="#0000ff"/>
<rect x="356.8" y="185.2" width="4.8" height="4.8" fill="#0000ff"/>
<rect x="348.4" y="189.4" width="4.8" height="4.8" fill="#0000ff"/>
<rect x="373.6" y="190.6" width="4.8" height="4.8" fill="#0000ff"/>
<rect x="391.6" y="190.0" width="4.8" height="4.8" fill="#0000ff"/>
<rect x="394.6" y="188.8" width="4.8" height="4.8" fill="#0000ff"/>
<rect x="393.4" y="196.6" width="4.8" height="4.8" fill="#0000ff"/>
<rect x="366.4" y="212.2" width="4.8" height="4.8" fill="#0000ff"/>
<rect x="389.8" y="212.3" width="4.8" height="4.8" fill="#0000ff"/>
<rect x="416.1" y="192.0" width="4.8" height="4.8" fill="#0000ff"/>
<rect x="424.6" y="192.8" width="4.8" height="4.8" fill="#0000ff"/>
<rect x="442.5" y="193.7" width="4.8" height="4.8" fill="#0000ff"/>
<rect x="421.2" y="197.1" width="4.8" height="4.8" fill="#0000ff"/>
<rect x="444.2" y="198.4" width="4.8" height="4.8" fill="#0000ff"/>
<rect x="422.1" y="201.1" width="4.8" height="4.8" fill="#0000ff"/>
<rect x="438.0" y="202.2" width="4.8" height="4.8" fill="#0000ff"/>
<rect x="427.1" y="205.2" width="4.8" height="4.8" fill="#0000ff"/>
<rect x="403.0" y="208.2" width="4.8" height="4.8" fill="#0000ff"/>
<rect x="407.1" y="213.8" width="4.8" height="4.8" fill="#0000ff"/>
<rect x="404.7" y="216.8" width="4.8" height="4.8" fill="#0000ff"/>
<rect x="423.1" y="219.0" width="4.8" height="4.8" fill="#0000ff"/>
<rect x="428.1" y="221.2" width="4.8" height="4.8" fill="#0000ff"/>
<rect x="439.0" y="220.2" width="4.8" height="4.8" fill="#0000ff"/>
<rect x="414.3" y="224.0" width="4.8" height="4.8" fill="#0000ff"/>
<rect x="425.6" y="225.4" width="4.8" height="4.8" fill="#0000ff"/>
<rect x="408.2" y="231.2" width="4.8" height="4.8" fill="#0000ff"/>
<rect x="417.2" y="233.1" width="4.8" height="4.8" fill="#0000ff"/>
<rect x="431.4" y="235.2" width="4.8" height="4.8" fill="#0000ff"/>
<rect x="415.8" y="239.3" width="4.8" height="4.8" fill="#0000ff"/>
<rect x="438.1" y="239.9" width="4.8" height="4.8" fill="#0000ff"/>
<rect x="426.1" y="245.3" width="4.8" height="4.8" fill="#0000ff"/>
<rect x="436.4" y="247.3" width="4.8" height="4.8" fill="#0000ff"/>
<rect x="458.6" y="247.9" width="4.8" height="4.8" fill="#0000ff"/>
<rect x="437.4" y="253.4" width="4.8" height="4.8" fill="#0000ff"/>
<rect x="451.5" y="254.9" width="4.8" height="4.8" fill="#0000ff"/>
<rect x="454.4" y="257.5" width="4.8" height="4.8" fill="#0000ff"/>
<rect x="469.4" y="259.1" width="4.8" height="4.8" fill="#0000ff"/>
<rect x="455.6" y="263.6" width="4.8" height="4.8" fill="#0000ff"/>
<rect x="462.2" y="263.6" width="4.8" height="4.8" fill="#0000ff"/>
<rect x="451.2" y="268.7" width="4.8" height="4.8" fill="#0000ff"/>
<rect x="443.6" y="273.3" width="4.8" height="4.8" fill="#0000ff"/>
<rect x="431.0" y="253.8" width="4.8" height="4.8" fill="#0000ff"/>
</g>
<text transform="translate(371.3,278.6) rotate(-90)" text-anchor="middle" dominant-baseline="central" font-size="9.4" fill="#f28d3c">550 kg/m³</text>
<text transform="translate(455.2,192.6) rotate(-90)" text-anchor="middle" dominant-baseline="central" font-size="9.4" fill="#93615a">830 kg/m³</text>
<text transform="translate(281.2,307.5) scale(0.95,1)" font-size="9.4" fill="#222">Case-2 (b)</text>
<rect x="272.7" y="201.7" width="38.1" height="81.9" rx="1.5" fill="#fff" fill-opacity="0.8" stroke="#e0e0e0" stroke-width="0.8"/>
<line x1="274.7" y1="206.8" x2="287.4" y2="206.8" stroke="#000" stroke-width="1.5"/>
<text transform="translate(291.8,209.2) scale(0.93,1)" font-size="6.6" fill="#222">LIG-fit</text>
<line x1="274.7" y1="215.8" x2="287.4" y2="215.8" stroke="#ff0000" stroke-width="1.5"/>
<text transform="translate(291.8,218.2) scale(0.93,1)" font-size="6.6" fill="#222">KM-fit</text>
<path d="M278.85,222.94L283.25,222.94L281.05,227.34Z" fill="#000"/>
<text transform="translate(291.8,227.1) scale(0.86,1)" font-size="6.6" fill="#222">SP1</text>
<path d="M278.85,231.89L283.25,231.89L281.05,236.29Z" fill="#1a1a1a"/>
<text transform="translate(291.8,236.1) scale(0.86,1)" font-size="6.6" fill="#222">SP3</text>
<path d="M278.85,240.84L283.25,240.84L281.05,245.24Z" fill="#666"/>
<text transform="translate(291.8,245.0) scale(0.86,1)" font-size="6.6" fill="#222">SP4</text>
<path d="M278.85,249.79L283.25,249.79L281.05,254.19Z" fill="#8c564b"/>
<text transform="translate(291.8,254.0) scale(0.86,1)" font-size="6.6" fill="#222">SC1</text>
<path d="M278.85,258.74L283.25,258.74L281.05,263.14Z" fill="#c8a8a2"/>
<text transform="translate(291.8,262.9) scale(0.86,1)" font-size="6.6" fill="#222">FC1</text>
<rect x="278.7" y="267.4" width="4.6" height="4.0" fill="#0000ff"/>
<line x1="278.0" y1="269.4" x2="284.0" y2="269.4" stroke="#0000ff" stroke-opacity="0.6" stroke-width="1"/>
<text transform="translate(291.8,271.8) scale(0.86,1)" font-size="6.6" fill="#222">CMP3</text>
<rect x="278.7" y="276.4" width="4.6" height="4.0" fill="#ffa500"/>
<line x1="278.0" y1="278.4" x2="284.0" y2="278.4" stroke="#ffa500" stroke-opacity="0.6" stroke-width="1"/>
<text transform="translate(291.8,280.8) scale(0.86,1)" font-size="6.6" fill="#222">CMP4</text>
<rect x="270.3" y="171.4" width="223.8" height="143.0" fill="none" stroke="#787878" stroke-width="0.9"/>
<line x1="270.30" y1="314.4" x2="270.30" y2="316.9" stroke="#3a3a3a" stroke-width="0.8"/>
<line x1="301.38" y1="314.4" x2="301.38" y2="316.9" stroke="#3a3a3a" stroke-width="0.8"/>
<line x1="332.47" y1="314.4" x2="332.47" y2="316.9" stroke="#3a3a3a" stroke-width="0.8"/>
<line x1="363.55" y1="314.4" x2="363.55" y2="316.9" stroke="#3a3a3a" stroke-width="0.8"/>
<line x1="394.63" y1="314.4" x2="394.63" y2="316.9" stroke="#3a3a3a" stroke-width="0.8"/>
<line x1="425.72" y1="314.4" x2="425.72" y2="316.9" stroke="#3a3a3a" stroke-width="0.8"/>
<line x1="456.80" y1="314.4" x2="456.80" y2="316.9" stroke="#3a3a3a" stroke-width="0.8"/>
<line x1="487.88" y1="314.4" x2="487.88" y2="316.9" stroke="#3a3a3a" stroke-width="0.8"/>
<clipPath id="c2a"><rect x="32.5" y="334.4" width="223.8" height="143.0"/></clipPath>
<line x1="63.58" y1="334.4" x2="63.58" y2="477.4" stroke="#cccccc" stroke-width="0.9"/>
<line x1="94.67" y1="334.4" x2="94.67" y2="477.4" stroke="#cccccc" stroke-width="0.9"/>
<line x1="125.75" y1="334.4" x2="125.75" y2="477.4" stroke="#cccccc" stroke-width="0.9"/>
<line x1="156.83" y1="334.4" x2="156.83" y2="477.4" stroke="#cccccc" stroke-width="0.9"/>
<line x1="187.92" y1="334.4" x2="187.92" y2="477.4" stroke="#cccccc" stroke-width="0.9"/>
<line x1="219.00" y1="334.4" x2="219.00" y2="477.4" stroke="#cccccc" stroke-width="0.9"/>
<line x1="250.08" y1="334.4" x2="250.08" y2="477.4" stroke="#cccccc" stroke-width="0.9"/>
<line x1="32.5" y1="363.00" x2="256.3" y2="363.00" stroke="#cccccc" stroke-width="0.9"/>
<line x1="32.5" y1="391.60" x2="256.3" y2="391.60" stroke="#cccccc" stroke-width="0.9"/>
<line x1="32.5" y1="420.20" x2="256.3" y2="420.20" stroke="#cccccc" stroke-width="0.9"/>
<line x1="32.5" y1="448.80" x2="256.3" y2="448.80" stroke="#cccccc" stroke-width="0.9"/>
<line x1="141.29" y1="477.4" x2="141.29" y2="334.4" stroke="#f8a055" stroke-width="1.7" stroke-dasharray="4.2,2.1"/>
<line x1="228.32" y1="477.4" x2="228.32" y2="334.4" stroke="#ab7770" stroke-width="1.7" stroke-dasharray="4.2,2.1"/>
<g clip-path="url(#c2a)">
<line x1="69.2" y1="343.6" x2="89.0" y2="343.6" stroke="#000" stroke-opacity="0.68" stroke-width="1.15"/>
<line x1="96.4" y1="351.6" x2="116.8" y2="351.6" stroke="#000" stroke-opacity="0.68" stroke-width="1.15"/>
<line x1="101.0" y1="344.0" x2="126.0" y2="344.0" stroke="#000" stroke-opacity="0.68" stroke-width="1.15"/>
<line x1="108.0" y1="348.0" x2="133.0" y2="348.0" stroke="#000" stroke-opacity="0.68" stroke-width="1.15"/>
<line x1="115.6" y1="346.4" x2="137.2" y2="346.4" stroke="#000" stroke-opacity="0.68" stroke-width="1.15"/>
<line x1="117.0" y1="352.6" x2="145.0" y2="352.6" stroke="#000" stroke-opacity="0.68" stroke-width="1.15"/>
<line x1="113.0" y1="356.7" x2="141.0" y2="356.7" stroke="#000" stroke-opacity="0.68" stroke-width="1.15"/>
<line x1="133.0" y1="353.8" x2="153.0" y2="353.8" stroke="#000" stroke-opacity="0.68" stroke-width="1.15"/>
<line x1="141.0" y1="355.4" x2="159.0" y2="355.4" stroke="#000" stroke-opacity="0.68" stroke-width="1.15"/>
<line x1="138.0" y1="358.6" x2="167.6" y2="358.6" stroke="#000" stroke-opacity="0.68" stroke-width="1.15"/>
<line x1="143.0" y1="357.0" x2="160.0" y2="357.0" stroke="#000" stroke-opacity="0.68" stroke-width="1.15"/>
<line x1="145.0" y1="361.8" x2="168.0" y2="361.8" stroke="#000" stroke-opacity="0.68" stroke-width="1.15"/>
<line x1="150.8" y1="359.9" x2="178.0" y2="359.9" stroke="#000" stroke-opacity="0.68" stroke-width="1.15"/>
<line x1="150.8" y1="344.2" x2="179.6" y2="344.2" stroke="#000" stroke-opacity="0.68" stroke-width="1.15"/>
<line x1="122.0" y1="364.8" x2="148.0" y2="364.8" stroke="#000" stroke-opacity="0.68" stroke-width="1.15"/>
<line x1="145.0" y1="365.8" x2="171.0" y2="365.8" stroke="#000" stroke-opacity="0.68" stroke-width="1.15"/>
<line x1="142.0" y1="367.4" x2="166.0" y2="367.4" stroke="#000" stroke-opacity="0.68" stroke-width="1.15"/>
<line x1="120.0" y1="370.4" x2="148.0" y2="370.4" stroke="#000" stroke-opacity="0.68" stroke-width="1.15"/>
<line x1="146.0" y1="371.2" x2="173.0" y2="371.2" stroke="#000" stroke-opacity="0.68" stroke-width="1.15"/>
<line x1="150.8" y1="374.6" x2="178.8" y2="374.6" stroke="#000" stroke-opacity="0.68" stroke-width="1.15"/>
<line x1="136.0" y1="377.6" x2="163.6" y2="377.6" stroke="#000" stroke-opacity="0.68" stroke-width="1.15"/>
<line x1="116.0" y1="380.4" x2="140.0" y2="380.4" stroke="#000" stroke-opacity="0.68" stroke-width="1.15"/>
<line x1="122.0" y1="383.4" x2="142.0" y2="383.4" stroke="#000" stroke-opacity="0.68" stroke-width="1.15"/>
<line x1="130.0" y1="383.6" x2="160.0" y2="383.6" stroke="#000" stroke-opacity="0.68" stroke-width="1.15"/>
<line x1="148.0" y1="381.0" x2="176.0" y2="381.0" stroke="#000" stroke-opacity="0.68" stroke-width="1.15"/>
<line x1="155.0" y1="383.4" x2="181.0" y2="383.4" stroke="#000" stroke-opacity="0.68" stroke-width="1.15"/>
<line x1="160.0" y1="385.0" x2="190.0" y2="385.0" stroke="#000" stroke-opacity="0.68" stroke-width="1.15"/>
<line x1="174.0" y1="386.0" x2="200.0" y2="386.0" stroke="#000" stroke-opacity="0.68" stroke-width="1.15"/>
<line x1="162.0" y1="387.5" x2="188.0" y2="387.5" stroke="#000" stroke-opacity="0.68" stroke-width="1.15"/>
<line x1="178.0" y1="392.0" x2="212.0" y2="392.0" stroke="#000" stroke-opacity="0.68" stroke-width="1.15"/>
<line x1="168.0" y1="395.6" x2="204.0" y2="395.6" stroke="#000" stroke-opacity="0.68" stroke-width="1.15"/>
<line x1="168.0" y1="397.6" x2="200.0" y2="397.6" stroke="#000" stroke-opacity="0.68" stroke-width="1.15"/>
<line x1="182.0" y1="398.6" x2="215.0" y2="398.6" stroke="#000" stroke-opacity="0.68" stroke-width="1.15"/>
<line x1="156.0" y1="405.0" x2="186.0" y2="405.0" stroke="#000" stroke-opacity="0.68" stroke-width="1.15"/>
<line x1="178.0" y1="406.6" x2="208.0" y2="406.6" stroke="#000" stroke-opacity="0.68" stroke-width="1.15"/>
<line x1="152.0" y1="412.0" x2="184.0" y2="412.0" stroke="#000" stroke-opacity="0.68" stroke-width="1.15"/>
<line x1="172.0" y1="412.0" x2="207.0" y2="412.0" stroke="#000" stroke-opacity="0.68" stroke-width="1.15"/>
<line x1="174.0" y1="416.6" x2="210.0" y2="416.6" stroke="#000" stroke-opacity="0.68" stroke-width="1.15"/>
<line x1="212.0" y1="416.6" x2="229.0" y2="416.6" stroke="#000" stroke-opacity="0.68" stroke-width="1.15"/>
<line x1="210.0" y1="417.6" x2="253.0" y2="417.6" stroke="#000" stroke-opacity="0.68" stroke-width="1.15"/>
<line x1="210.0" y1="418.4" x2="253.0" y2="418.4" stroke="#000" stroke-opacity="0.68" stroke-width="1.15"/>
<line x1="186.0" y1="428.0" x2="220.0" y2="428.0" stroke="#000" stroke-opacity="0.68" stroke-width="1.15"/>
<line x1="195.0" y1="428.6" x2="229.0" y2="428.6" stroke="#000" stroke-opacity="0.68" stroke-width="1.15"/>
<line x1="190.0" y1="432.4" x2="224.0" y2="432.4" stroke="#000" stroke-opacity="0.68" stroke-width="1.15"/>
<line x1="185.0" y1="436.4" x2="218.0" y2="436.4" stroke="#000" stroke-opacity="0.68" stroke-width="1.15"/>
<polyline points="64.8,334.4 69.0,337.0 72.0,340.6 76.8,344.8 82.8,346.0 96.0,347.2 102.0,349.6 108.0,350.8 122.0,353.4 134.0,355.8 140.0,360.0 146.0,363.6 152.0,366.6 157.4,368.2 161.4,371.4 164.6,375.4 163.8,378.6 171.0,382.6 172.6,386.6 179.8,393.0 180.2,398.2 183.8,403.0 182.6,405.4 190.8,412.2 195.6,415.2 189.0,417.0 194.4,421.2 196.8,426.0 205.8,435.0 207.0,438.5 211.0,443.0 217.0,446.5 213.5,449.5 217.0,450.5 227.0,459.5 223.5,463.0 228.0,466.0 230.0,469.0 233.5,473.0 229.5,476.5 230.0,477.4" fill="none" stroke="#0000ff" stroke-width="1.7" stroke-linejoin="round"/>
<polyline points="64.8,334.4 69.0,337.0 72.0,340.6 76.8,344.8 82.8,346.0 96.0,346.6 102.0,347.2 110.4,349.0 122.0,352.8 134.0,354.6 141.2,357.6 148.4,363.6 155.6,366.6 159.0,367.4 163.0,369.8 165.4,373.0 170.2,377.0 168.6,378.6 175.8,382.6 177.4,385.8 182.2,393.0 186.2,397.6 189.8,402.4 186.0,405.0 192.0,411.0 198.0,414.0 190.8,416.4 195.6,420.0 200.4,423.6 198.0,426.6 207.6,435.0 211.0,440.0 218.0,446.0 218.0,448.0 216.0,449.0 218.0,451.0 228.0,460.0 224.0,462.5 229.0,465.0 231.0,468.5 234.0,472.5 231.0,475.0 230.0,477.4" fill="none" stroke="#008000" stroke-width="1.7" stroke-linejoin="round"/>
<path d="M41.00,333.68L45.80,333.68L43.40,338.48Z" fill="#8c564b" fill-opacity="0.92"/>
<path d="M55.40,333.68L60.20,333.68L57.80,338.48Z" fill="#8c564b" fill-opacity="0.92"/>
<path d="M58.40,333.68L63.20,333.68L60.80,338.48Z" fill="#8c564b" fill-opacity="0.92"/>
<path d="M71.80,334.08L76.60,334.08L74.20,338.88Z" fill="#8c564b" fill-opacity="0.92"/>
<path d="M84.00,336.08L88.80,336.08L86.40,340.88Z" fill="#8c564b" fill-opacity="0.92"/>
<path d="M87.20,335.08L92.00,335.08L89.60,339.88Z" fill="#8c564b" fill-opacity="0.92"/>
<path d="M90.40,334.08L95.20,334.08L92.80,338.88Z" fill="#8c564b" fill-opacity="0.92"/>
<path d="M93.80,336.58L98.60,336.58L96.20,341.38Z" fill="#8c564b" fill-opacity="0.92"/>
<path d="M95.20,337.58L100.00,337.58L97.60,342.38Z" fill="#8c564b" fill-opacity="0.92"/>
<path d="M89.80,342.28L94.60,342.28L92.20,347.08Z" fill="#8c564b" fill-opacity="0.92"/>
<path d="M101.00,336.08L105.80,336.08L103.40,340.88Z" fill="#8c564b" fill-opacity="0.92"/>
<path d="M103.80,337.58L108.60,337.58L106.20,342.38Z" fill="#8c564b" fill-opacity="0.92"/>
<path d="M102.00,345.48L106.80,345.48L104.40,350.28Z" fill="#8c564b" fill-opacity="0.92"/>
<path d="M113.80,340.58L118.60,340.58L116.20,345.38Z" fill="#8c564b" fill-opacity="0.92"/>
<path d="M118.90,341.08L123.70,341.08L121.30,345.88Z" fill="#8c564b" fill-opacity="0.92"/>
<path d="M119.20,347.08L124.00,347.08L121.60,351.88Z" fill="#8c564b" fill-opacity="0.92"/>
<path d="M126.40,340.48L131.20,340.48L128.80,345.28Z" fill="#8c564b" fill-opacity="0.92"/>
<path d="M131.90,347.28L136.70,347.28L134.30,352.08Z" fill="#8c564b" fill-opacity="0.92"/>
<path d="M134.30,343.08L139.10,343.08L136.70,347.88Z" fill="#8c564b" fill-opacity="0.92"/>
<path d="M138.40,345.08L143.20,345.08L140.80,349.88Z" fill="#8c564b" fill-opacity="0.92"/>
<path d="M48.00,333.68L52.80,333.68L50.40,338.48Z" fill="#000"/>
<path d="M69.20,334.68L74.00,334.68L71.60,339.48Z" fill="#000"/>
<path d="M75.10,333.88L79.90,333.88L77.50,338.68Z" fill="#000"/>
<path d="M82.20,333.68L87.00,333.68L84.60,338.48Z" fill="#000"/>
<rect x="77.0" y="341.2" width="4.8" height="4.8" fill="#000"/>
<rect x="106.0" y="349.2" width="4.8" height="4.8" fill="#000"/>
<rect x="110.8" y="341.6" width="4.8" height="4.8" fill="#000"/>
<rect x="115.6" y="345.6" width="4.8" height="4.8" fill="#000"/>
<rect x="123.6" y="344.0" width="4.8" height="4.8" fill="#000"/>
<rect x="127.6" y="350.2" width="4.8" height="4.8" fill="#000"/>
<rect x="123.8" y="354.3" width="4.8" height="4.8" fill="#000"/>
<rect x="137.5" y="351.4" width="4.8" height="4.8" fill="#000"/>
<rect x="144.4" y="353.0" width="4.8" height="4.8" fill="#000"/>
<rect x="148.4" y="356.2" width="4.8" height="4.8" fill="#000"/>
<rect x="152.4" y="354.6" width="4.8" height="4.8" fill="#000"/>
<rect x="154.0" y="359.4" width="4.8" height="4.8" fill="#000"/>
<rect x="161.2" y="357.5" width="4.8" height="4.8" fill="#000"/>
<rect x="163.6" y="341.8" width="4.8" height="4.8" fill="#000"/>
<rect x="132.4" y="362.4" width="4.8" height="4.8" fill="#000"/>
<rect x="155.6" y="363.4" width="4.8" height="4.8" fill="#000"/>
<rect x="152.4" y="365.0" width="4.8" height="4.8" fill="#000"/>
<rect x="130.4" y="368.0" width="4.8" height="4.8" fill="#000"/>
<rect x="157.2" y="368.8" width="4.8" height="4.8" fill="#000"/>
<rect x="162.6" y="372.2" width="4.8" height="4.8" fill="#000"/>
<rect x="147.6" y="375.2" width="4.8" height="4.8" fill="#000"/>
<rect x="126.2" y="378.0" width="4.8" height="4.8" fill="#000"/>
<rect x="129.6" y="381.0" width="4.8" height="4.8" fill="#000"/>
<rect x="142.6" y="381.2" width="4.8" height="4.8" fill="#000"/>
<rect x="159.2" y="378.6" width="4.8" height="4.8" fill="#000"/>
<rect x="165.6" y="381.0" width="4.8" height="4.8" fill="#000"/>
<rect x="172.6" y="382.6" width="4.8" height="4.8" fill="#000"/>
<rect x="185.0" y="383.6" width="4.8" height="4.8" fill="#000"/>
<rect x="172.6" y="385.1" width="4.8" height="4.8" fill="#000"/>
<rect x="194.6" y="389.6" width="4.8" height="4.8" fill="#000"/>
<rect x="182.0" y="393.2" width="4.8" height="4.8" fill="#000"/>
<rect x="180.6" y="395.2" width="4.8" height="4.8" fill="#000"/>
<rect x="197.2" y="396.2" width="4.8" height="4.8" fill="#000"/>
<rect x="169.2" y="402.6" width="4.8" height="4.8" fill="#000"/>
<rect x="190.6" y="404.2" width="4.8" height="4.8" fill="#000"/>
<rect x="166.0" y="409.6" width="4.8" height="4.8" fill="#000"/>
<rect x="189.2" y="409.6" width="4.8" height="4.8" fill="#000"/>
<rect x="187.6" y="414.2" width="4.8" height="4.8" fill="#000"/>
<rect x="218.6" y="414.2" width="4.8" height="4.8" fill="#000"/>
<rect x="227.2" y="415.2" width="4.8" height="4.8" fill="#000"/>
<rect x="232.6" y="416.0" width="4.8" height="4.8" fill="#000"/>
<rect x="201.6" y="425.6" width="4.8" height="4.8" fill="#000"/>
<rect x="210.0" y="426.2" width="4.8" height="4.8" fill="#000"/>
<rect x="205.6" y="430.0" width="4.8" height="4.8" fill="#000"/>
<rect x="199.2" y="434.0" width="4.8" height="4.8" fill="#000"/>
</g>
<text transform="translate(133.5,441.6) rotate(-90)" text-anchor="middle" dominant-baseline="central" font-size="9.4" fill="#f28d3c">550 kg/m³</text>
<text transform="translate(217.4,355.6) rotate(-90)" text-anchor="middle" dominant-baseline="central" font-size="9.4" fill="#93615a">830 kg/m³</text>
<text transform="translate(43.4,470.5) scale(0.95,1)" font-size="9.4" fill="#222">Case-3 (a)</text>
<rect x="35.0" y="382.1" width="37.1" height="46.6" rx="1.5" fill="#fff" fill-opacity="0.8" stroke="#e0e0e0" stroke-width="0.8"/>
<line x1="37.0" y1="387.2" x2="49.7" y2="387.2" stroke="#0000ff" stroke-width="1.5"/>
<text transform="translate(54.1,389.6) scale(0.86,1)" font-size="6.6" fill="#222">LIG</text>
<line x1="37.0" y1="396.1" x2="49.7" y2="396.1" stroke="#008000" stroke-width="1.5"/>
<text transform="translate(54.1,398.5) scale(0.86,1)" font-size="6.6" fill="#222">KM</text>
<path d="M41.15,403.34L45.55,403.34L43.35,407.74Z" fill="#000"/>
<text transform="translate(54.1,407.5) scale(0.86,1)" font-size="6.6" fill="#222">SP2</text>
<path d="M41.15,412.29L45.55,412.29L43.35,416.69Z" fill="#8c564b"/>
<text transform="translate(54.1,416.4) scale(0.86,1)" font-size="6.6" fill="#222">SC2</text>
<rect x="41.1" y="421.0" width="4.6" height="4.0" fill="#000"/>
<line x1="40.1" y1="423.0" x2="46.6" y2="423.0" stroke="#000" stroke-width="1"/>
<text transform="translate(54.1,425.4) scale(0.86,1)" font-size="6.6" fill="#222">CMP2</text>
<rect x="32.5" y="334.4" width="223.8" height="143.0" fill="none" stroke="#787878" stroke-width="0.9"/>
<line x1="32.50" y1="477.4" x2="32.50" y2="479.9" stroke="#3a3a3a" stroke-width="0.8"/>
<line x1="63.58" y1="477.4" x2="63.58" y2="479.9" stroke="#3a3a3a" stroke-width="0.8"/>
<line x1="94.67" y1="477.4" x2="94.67" y2="479.9" stroke="#3a3a3a" stroke-width="0.8"/>
<line x1="125.75" y1="477.4" x2="125.75" y2="479.9" stroke="#3a3a3a" stroke-width="0.8"/>
<line x1="156.83" y1="477.4" x2="156.83" y2="479.9" stroke="#3a3a3a" stroke-width="0.8"/>
<line x1="187.92" y1="477.4" x2="187.92" y2="479.9" stroke="#3a3a3a" stroke-width="0.8"/>
<line x1="219.00" y1="477.4" x2="219.00" y2="479.9" stroke="#3a3a3a" stroke-width="0.8"/>
<line x1="250.08" y1="477.4" x2="250.08" y2="479.9" stroke="#3a3a3a" stroke-width="0.8"/>
<text x="27.9" y="337.6" text-anchor="end" font-size="9" fill="#222">0</text>
<text x="27.9" y="366.2" text-anchor="end" font-size="9" fill="#222">10</text>
<text x="27.9" y="394.8" text-anchor="end" font-size="9" fill="#222">20</text>
<text x="27.9" y="423.4" text-anchor="end" font-size="9" fill="#222">30</text>
<text x="27.9" y="452.0" text-anchor="end" font-size="9" fill="#222">40</text>
<text x="27.9" y="480.6" text-anchor="end" font-size="9" fill="#222">50</text>
<text transform="translate(8.3,405.9) rotate(-90)" text-anchor="middle" dominant-baseline="central" font-size="9.6" fill="#222">Depth (m)</text>
<clipPath id="c2b"><rect x="270.3" y="334.4" width="223.8" height="143.0"/></clipPath>
<line x1="301.38" y1="334.4" x2="301.38" y2="477.4" stroke="#cccccc" stroke-width="0.9"/>
<line x1="332.47" y1="334.4" x2="332.47" y2="477.4" stroke="#cccccc" stroke-width="0.9"/>
<line x1="363.55" y1="334.4" x2="363.55" y2="477.4" stroke="#cccccc" stroke-width="0.9"/>
<line x1="394.63" y1="334.4" x2="394.63" y2="477.4" stroke="#cccccc" stroke-width="0.9"/>
<line x1="425.72" y1="334.4" x2="425.72" y2="477.4" stroke="#cccccc" stroke-width="0.9"/>
<line x1="456.80" y1="334.4" x2="456.80" y2="477.4" stroke="#cccccc" stroke-width="0.9"/>
<line x1="487.88" y1="334.4" x2="487.88" y2="477.4" stroke="#cccccc" stroke-width="0.9"/>
<line x1="270.3" y1="363.00" x2="494.1" y2="363.00" stroke="#cccccc" stroke-width="0.9"/>
<line x1="270.3" y1="391.60" x2="494.1" y2="391.60" stroke="#cccccc" stroke-width="0.9"/>
<line x1="270.3" y1="420.20" x2="494.1" y2="420.20" stroke="#cccccc" stroke-width="0.9"/>
<line x1="270.3" y1="448.80" x2="494.1" y2="448.80" stroke="#cccccc" stroke-width="0.9"/>
<line x1="379.09" y1="477.4" x2="379.09" y2="334.4" stroke="#f8a055" stroke-width="1.7" stroke-dasharray="4.2,2.1"/>
<line x1="466.12" y1="477.4" x2="466.12" y2="334.4" stroke="#ab7770" stroke-width="1.7" stroke-dasharray="4.2,2.1"/>
<g clip-path="url(#c2b)">
<line x1="298.6" y1="341.8" x2="317.8" y2="341.8" stroke="#ffa500" stroke-opacity="0.7" stroke-width="1.4"/>
<line x1="333.0" y1="350.7" x2="350.0" y2="350.7" stroke="#ffa500" stroke-opacity="0.7" stroke-width="1.4"/>
<line x1="343.0" y1="352.5" x2="359.0" y2="352.5" stroke="#ffa500" stroke-opacity="0.7" stroke-width="1.4"/>
<line x1="353.0" y1="347.0" x2="369.0" y2="347.0" stroke="#ffa500" stroke-opacity="0.7" stroke-width="1.4"/>
<line x1="356.0" y1="353.2" x2="377.0" y2="353.2" stroke="#ffa500" stroke-opacity="0.7" stroke-width="1.4"/>
<line x1="371.0" y1="342.4" x2="397.6" y2="342.4" stroke="#ffa500" stroke-opacity="0.7" stroke-width="1.4"/>
<line x1="378.0" y1="355.6" x2="394.0" y2="355.6" stroke="#ffa500" stroke-opacity="0.7" stroke-width="1.4"/>
<line x1="382.0" y1="356.0" x2="398.0" y2="356.0" stroke="#ffa500" stroke-opacity="0.7" stroke-width="1.4"/>
<line x1="349.0" y1="364.9" x2="373.0" y2="364.9" stroke="#ffa500" stroke-opacity="0.7" stroke-width="1.4"/>
<line x1="399.0" y1="357.4" x2="418.0" y2="357.4" stroke="#ffa500" stroke-opacity="0.7" stroke-width="1.4"/>
<line x1="402.0" y1="360.2" x2="422.0" y2="360.2" stroke="#ffa500" stroke-opacity="0.7" stroke-width="1.4"/>
<line x1="404.0" y1="358.2" x2="424.0" y2="358.2" stroke="#ffa500" stroke-opacity="0.7" stroke-width="1.4"/>
<line x1="410.0" y1="365.2" x2="430.0" y2="365.2" stroke="#ffa500" stroke-opacity="0.7" stroke-width="1.4"/>
<line x1="426.0" y1="365.8" x2="446.0" y2="365.8" stroke="#ffa500" stroke-opacity="0.7" stroke-width="1.4"/>
<line x1="397.0" y1="370.0" x2="417.0" y2="370.0" stroke="#ffa500" stroke-opacity="0.7" stroke-width="1.4"/>
<line x1="409.0" y1="373.6" x2="429.0" y2="373.6" stroke="#ffa500" stroke-opacity="0.7" stroke-width="1.4"/>
<line x1="430.0" y1="376.6" x2="462.0" y2="376.6" stroke="#ffa500" stroke-opacity="0.7" stroke-width="1.4"/>
<line x1="426.0" y1="380.2" x2="446.0" y2="380.2" stroke="#ffa500" stroke-opacity="0.7" stroke-width="1.4"/>
<line x1="420.0" y1="382.3" x2="456.0" y2="382.3" stroke="#ffa500" stroke-opacity="0.7" stroke-width="1.4"/>
<line x1="425.0" y1="389.8" x2="445.0" y2="389.8" stroke="#ffa500" stroke-opacity="0.7" stroke-width="1.4"/>
<line x1="450.8" y1="384.0" x2="485.7" y2="384.0" stroke="#ffa500" stroke-opacity="0.7" stroke-width="1.4"/>
<line x1="434.0" y1="392.7" x2="468.0" y2="392.7" stroke="#ffa500" stroke-opacity="0.7" stroke-width="1.4"/>
<line x1="455.0" y1="393.8" x2="492.0" y2="393.8" stroke="#ffa500" stroke-opacity="0.7" stroke-width="1.4"/>
<line x1="438.0" y1="399.1" x2="472.0" y2="399.1" stroke="#ffa500" stroke-opacity="0.7" stroke-width="1.4"/>
<line x1="322.0" y1="342.6" x2="344.0" y2="342.6" stroke="#0000ff" stroke-opacity="0.72" stroke-width="1.4"/>
<line x1="344.0" y1="344.0" x2="370.0" y2="344.0" stroke="#0000ff" stroke-opacity="0.72" stroke-width="1.4"/>
<line x1="352.0" y1="345.2" x2="380.0" y2="345.2" stroke="#0000ff" stroke-opacity="0.72" stroke-width="1.4"/>
<line x1="356.0" y1="347.6" x2="384.0" y2="347.6" stroke="#0000ff" stroke-opacity="0.72" stroke-width="1.4"/>
<line x1="346.0" y1="350.6" x2="372.0" y2="350.6" stroke="#0000ff" stroke-opacity="0.72" stroke-width="1.4"/>
<line x1="339.0" y1="354.8" x2="362.0" y2="354.8" stroke="#0000ff" stroke-opacity="0.72" stroke-width="1.4"/>
<line x1="362.0" y1="356.0" x2="390.0" y2="356.0" stroke="#0000ff" stroke-opacity="0.72" stroke-width="1.4"/>
<line x1="380.0" y1="355.4" x2="408.0" y2="355.4" stroke="#0000ff" stroke-opacity="0.72" stroke-width="1.4"/>
<line x1="384.0" y1="354.2" x2="410.0" y2="354.2" stroke="#0000ff" stroke-opacity="0.72" stroke-width="1.4"/>
<line x1="372.0" y1="362.0" x2="420.0" y2="362.0" stroke="#0000ff" stroke-opacity="0.72" stroke-width="1.4"/>
<line x1="355.0" y1="377.6" x2="398.0" y2="377.6" stroke="#0000ff" stroke-opacity="0.72" stroke-width="1.4"/>
<line x1="370.0" y1="377.7" x2="415.0" y2="377.7" stroke="#0000ff" stroke-opacity="0.72" stroke-width="1.4"/>
<line x1="405.0" y1="357.4" x2="432.0" y2="357.4" stroke="#0000ff" stroke-opacity="0.72" stroke-width="1.4"/>
<line x1="414.0" y1="358.2" x2="440.0" y2="358.2" stroke="#0000ff" stroke-opacity="0.72" stroke-width="1.4"/>
<line x1="426.0" y1="359.1" x2="461.0" y2="359.1" stroke="#0000ff" stroke-opacity="0.72" stroke-width="1.4"/>
<line x1="410.0" y1="362.5" x2="437.0" y2="362.5" stroke="#0000ff" stroke-opacity="0.72" stroke-width="1.4"/>
<line x1="430.0" y1="363.8" x2="463.0" y2="363.8" stroke="#0000ff" stroke-opacity="0.72" stroke-width="1.4"/>
<line x1="411.0" y1="366.5" x2="438.0" y2="366.5" stroke="#0000ff" stroke-opacity="0.72" stroke-width="1.4"/>
<line x1="427.0" y1="367.6" x2="455.0" y2="367.6" stroke="#0000ff" stroke-opacity="0.72" stroke-width="1.4"/>
<line x1="416.0" y1="370.6" x2="443.0" y2="370.6" stroke="#0000ff" stroke-opacity="0.72" stroke-width="1.4"/>
<line x1="392.0" y1="373.6" x2="418.0" y2="373.6" stroke="#0000ff" stroke-opacity="0.72" stroke-width="1.4"/>
<line x1="396.0" y1="379.2" x2="423.0" y2="379.2" stroke="#0000ff" stroke-opacity="0.72" stroke-width="1.4"/>
<line x1="393.0" y1="382.2" x2="421.0" y2="382.2" stroke="#0000ff" stroke-opacity="0.72" stroke-width="1.4"/>
<line x1="412.0" y1="384.4" x2="439.0" y2="384.4" stroke="#0000ff" stroke-opacity="0.72" stroke-width="1.4"/>
<line x1="417.0" y1="386.6" x2="444.0" y2="386.6" stroke="#0000ff" stroke-opacity="0.72" stroke-width="1.4"/>
<line x1="428.0" y1="385.6" x2="455.0" y2="385.6" stroke="#0000ff" stroke-opacity="0.72" stroke-width="1.4"/>
<line x1="403.0" y1="389.4" x2="430.0" y2="389.4" stroke="#0000ff" stroke-opacity="0.72" stroke-width="1.4"/>
<line x1="414.0" y1="390.8" x2="441.0" y2="390.8" stroke="#0000ff" stroke-opacity="0.72" stroke-width="1.4"/>
<line x1="396.0" y1="396.6" x2="425.0" y2="396.6" stroke="#0000ff" stroke-opacity="0.72" stroke-width="1.4"/>
<line x1="405.0" y1="398.5" x2="434.0" y2="398.5" stroke="#0000ff" stroke-opacity="0.72" stroke-width="1.4"/>
<line x1="420.0" y1="400.6" x2="448.0" y2="400.6" stroke="#0000ff" stroke-opacity="0.72" stroke-width="1.4"/>
<line x1="403.0" y1="404.7" x2="433.0" y2="404.7" stroke="#0000ff" stroke-opacity="0.72" stroke-width="1.4"/>
<line x1="425.0" y1="405.3" x2="456.0" y2="405.3" stroke="#0000ff" stroke-opacity="0.72" stroke-width="1.4"/>
<line x1="413.0" y1="410.7" x2="444.0" y2="410.7" stroke="#0000ff" stroke-opacity="0.72" stroke-width="1.4"/>
<line x1="425.0" y1="412.7" x2="453.0" y2="412.7" stroke="#0000ff" stroke-opacity="0.72" stroke-width="1.4"/>
<line x1="442.0" y1="413.3" x2="477.0" y2="413.3" stroke="#0000ff" stroke-opacity="0.72" stroke-width="1.4"/>
<line x1="423.0" y1="418.8" x2="457.0" y2="418.8" stroke="#0000ff" stroke-opacity="0.72" stroke-width="1.4"/>
<line x1="440.0" y1="420.3" x2="468.0" y2="420.3" stroke="#0000ff" stroke-opacity="0.72" stroke-width="1.4"/>
<line x1="440.0" y1="422.9" x2="490.0" y2="422.9" stroke="#0000ff" stroke-opacity="0.72" stroke-width="1.4"/>
<line x1="455.0" y1="424.5" x2="490.0" y2="424.5" stroke="#0000ff" stroke-opacity="0.72" stroke-width="1.4"/>
<line x1="441.0" y1="429.0" x2="474.0" y2="429.0" stroke="#0000ff" stroke-opacity="0.72" stroke-width="1.4"/>
<line x1="440.6" y1="429.0" x2="481.4" y2="429.0" stroke="#0000ff" stroke-opacity="0.72" stroke-width="1.4"/>
<line x1="436.4" y1="434.1" x2="470.0" y2="434.1" stroke="#0000ff" stroke-opacity="0.72" stroke-width="1.4"/>
<line x1="429.2" y1="438.7" x2="461.6" y2="438.7" stroke="#0000ff" stroke-opacity="0.72" stroke-width="1.4"/>
<line x1="420.0" y1="419.2" x2="447.0" y2="419.2" stroke="#0000ff" stroke-opacity="0.72" stroke-width="1.4"/>
<polyline transform="translate(-1.2,0.7)" points="302.2,334.4 307.0,337.0 311.8,341.8 319.0,346.0 331.0,346.4 341.0,348.6 344.2,350.8 355.0,352.6 373.6,356.4 376.2,358.8 383.4,362.0 388.2,365.2 392.2,367.6 400.2,368.8 402.6,371.6 406.6,376.4 407.8,381.2 412.6,387.8 421.0,393.8 417.4,396.2 421.0,400.4 427.0,403.0 422.0,405.5 429.0,410.0 435.6,413.6 426.6,415.4 429.0,417.8 437.4,422.6 434.4,426.8 439.8,431.0 447.0,436.4 451.4,443.0 456.8,447.2 452.6,449.6 465.8,460.4 462.2,462.8 467.0,465.8 469.4,470.0 471.8,473.0 468.2,476.0 468.0,477.4" fill="none" stroke="#000" stroke-width="1.9" stroke-linejoin="round"/>
<polyline points="302.2,334.4 307.0,337.0 311.8,341.8 319.0,346.0 331.0,346.6 338.6,346.8 343.4,348.8 353.0,351.2 367.6,352.8 376.0,354.6 380.2,358.0 383.4,362.0 388.2,365.2 392.2,367.6 400.2,368.8 402.6,371.6 406.6,376.4 407.8,381.2 412.6,387.8 421.0,393.8 417.4,396.2 421.0,400.4 427.0,403.0 422.0,405.5 429.0,410.0 435.6,413.6 426.6,415.4 429.0,417.8 437.4,422.6 434.4,426.8 439.8,431.0 447.0,436.4 451.4,443.0 456.8,447.2 452.6,449.6 465.8,460.4 462.2,462.8 467.0,465.8 469.4,470.0 471.8,473.0 468.2,476.0 468.0,477.4" fill="none" stroke="#ff0000" stroke-width="1.7" stroke-linejoin="round"/>
<path d="M268.60,333.88L273.40,333.88L271.00,338.68Z" fill="#8c564b" fill-opacity="0.92"/>
<path d="M272.60,333.88L277.40,333.88L275.00,338.68Z" fill="#8c564b" fill-opacity="0.92"/>
<path d="M280.60,334.48L285.40,334.48L283.00,339.28Z" fill="#8c564b" fill-opacity="0.92"/>
<path d="M283.60,335.68L288.40,335.68L286.00,340.48Z" fill="#8c564b" fill-opacity="0.92"/>
<path d="M317.40,335.08L322.20,335.08L319.80,339.88Z" fill="#8c564b" fill-opacity="0.92"/>
<path d="M327.10,335.08L331.90,335.08L329.50,339.88Z" fill="#8c564b" fill-opacity="0.92"/>
<path d="M335.60,335.58L340.40,335.58L338.00,340.38Z" fill="#8c564b" fill-opacity="0.92"/>
<path d="M338.60,337.08L343.40,337.08L341.00,341.88Z" fill="#8c564b" fill-opacity="0.92"/>
<path d="M338.80,337.48L343.60,337.48L341.20,342.28Z" fill="#8c564b" fill-opacity="0.92"/>
<path d="M338.40,337.08L343.20,337.08L340.80,341.88Z" fill="#b08a84" fill-opacity="0.8"/>
<path d="M359.20,340.28L364.00,340.28L361.60,345.08Z" fill="#b08a84" fill-opacity="0.8"/>
<path d="M371.20,337.88L376.00,337.88L373.60,342.68Z" fill="#b08a84" fill-opacity="0.8"/>
<path d="M378.40,343.28L383.20,343.28L380.80,348.08Z" fill="#b08a84" fill-opacity="0.8"/>
<path d="M385.00,345.68L389.80,345.68L387.40,350.48Z" fill="#b08a84" fill-opacity="0.8"/>
<path d="M392.80,346.88L397.60,346.88L395.20,351.68Z" fill="#b08a84" fill-opacity="0.8"/>
<path d="M371.20,348.08L376.00,348.08L373.60,352.88Z" fill="#b08a84" fill-opacity="0.8"/>
<path d="M376.60,348.08L381.40,348.08L379.00,352.88Z" fill="#b08a84" fill-opacity="0.8"/>
<path d="M381.40,348.68L386.20,348.68L383.80,353.48Z" fill="#b08a84" fill-opacity="0.8"/>
<path d="M388.00,350.48L392.80,350.48L390.40,355.28Z" fill="#b08a84" fill-opacity="0.8"/>
<path d="M398.40,349.88L403.20,349.88L400.80,354.68Z" fill="#b08a84" fill-opacity="0.8"/>
<path d="M403.20,351.48L408.00,351.48L405.60,356.28Z" fill="#b08a84" fill-opacity="0.8"/>
<path d="M292.60,334.28L297.40,334.28L295.00,339.08Z" fill="#000"/>
<path d="M298.20,334.28L303.00,334.28L300.60,339.08Z" fill="#111"/>
<path d="M305.00,334.48L309.80,334.48L307.40,339.28Z" fill="#000"/>
<path d="M311.00,334.48L315.80,334.48L313.40,339.28Z" fill="#111"/>
<path d="M320.20,334.48L325.00,334.48L322.60,339.28Z" fill="#000"/>
<path d="M324.10,334.68L328.90,334.68L326.50,339.48Z" fill="#222"/>
<path d="M331.10,334.48L335.90,334.48L333.50,339.28Z" fill="#333"/>
<path d="M333.60,334.68L338.40,334.68L336.00,339.48Z" fill="#555"/>
<path d="M344.60,334.48L349.40,334.48L347.00,339.28Z" fill="#000"/>
<path d="M348.60,336.08L353.40,336.08L351.00,340.88Z" fill="#333"/>
<path d="M352.10,334.28L356.90,334.28L354.50,339.08Z" fill="#000"/>
<path d="M354.10,336.08L358.90,336.08L356.50,340.88Z" fill="#555"/>
<path d="M335.60,337.88L340.40,337.88L338.00,342.68Z" fill="#222"/>
<path d="M342.00,338.88L346.80,338.88L344.40,343.68Z" fill="#000"/>
<path d="M348.40,336.68L353.20,336.68L350.80,341.48Z" fill="#333"/>
<rect x="305.8" y="339.4" width="4.8" height="4.8" fill="#ffa500"/>
<rect x="342.4" y="348.3" width="4.8" height="4.8" fill="#ffa500"/>
<rect x="348.3" y="350.1" width="4.8" height="4.8" fill="#ffa500"/>
<rect x="358.6" y="344.6" width="4.8" height="4.8" fill="#ffa500"/>
<rect x="365.0" y="350.8" width="4.8" height="4.8" fill="#ffa500"/>
<rect x="382.6" y="340.0" width="4.8" height="4.8" fill="#ffa500"/>
<rect x="383.9" y="353.2" width="4.8" height="4.8" fill="#ffa500"/>
<rect x="387.4" y="353.6" width="4.8" height="4.8" fill="#ffa500"/>
<rect x="359.1" y="362.5" width="4.8" height="4.8" fill="#ffa500"/>
<rect x="406.4" y="355.0" width="4.8" height="4.8" fill="#ffa500"/>
<rect x="410.0" y="357.8" width="4.8" height="4.8" fill="#ffa500"/>
<rect x="411.9" y="355.8" width="4.8" height="4.8" fill="#ffa500"/>
<rect x="418.6" y="362.8" width="4.8" height="4.8" fill="#ffa500"/>
<rect x="434.1" y="363.4" width="4.8" height="4.8" fill="#ffa500"/>
<rect x="404.2" y="367.6" width="4.8" height="4.8" fill="#ffa500"/>
<rect x="416.8" y="371.2" width="4.8" height="4.8" fill="#ffa500"/>
<rect x="442.0" y="374.2" width="4.8" height="4.8" fill="#ffa500"/>
<rect x="434.2" y="377.8" width="4.8" height="4.8" fill="#ffa500"/>
<rect x="432.4" y="379.9" width="4.8" height="4.8" fill="#ffa500"/>
<rect x="433.0" y="387.4" width="4.8" height="4.8" fill="#ffa500"/>
<rect x="466.3" y="381.6" width="4.8" height="4.8" fill="#ffa500"/>
<rect x="449.6" y="390.3" width="4.8" height="4.8" fill="#ffa500"/>
<rect x="471.8" y="391.4" width="4.8" height="4.8" fill="#ffa500"/>
<rect x="453.4" y="396.7" width="4.8" height="4.8" fill="#ffa500"/>
<rect x="330.8" y="340.2" width="4.8" height="4.8" fill="#0000ff"/>
<rect x="354.4" y="341.6" width="4.8" height="4.8" fill="#0000ff"/>
<rect x="364.0" y="342.8" width="4.8" height="4.8" fill="#0000ff"/>
<rect x="367.0" y="345.2" width="4.8" height="4.8" fill="#0000ff"/>
<rect x="356.8" y="348.2" width="4.8" height="4.8" fill="#0000ff"/>
<rect x="348.4" y="352.4" width="4.8" height="4.8" fill="#0000ff"/>
<rect x="373.6" y="353.6" width="4.8" height="4.8" fill="#0000ff"/>
<rect x="391.6" y="353.0" width="4.8" height="4.8" fill="#0000ff"/>
<rect x="394.6" y="351.8" width="4.8" height="4.8" fill="#0000ff"/>
<rect x="393.4" y="359.6" width="4.8" height="4.8" fill="#0000ff"/>
<rect x="366.4" y="375.2" width="4.8" height="4.8" fill="#0000ff"/>
<rect x="389.8" y="375.3" width="4.8" height="4.8" fill="#0000ff"/>
<rect x="416.1" y="355.0" width="4.8" height="4.8" fill="#0000ff"/>
<rect x="424.6" y="355.8" width="4.8" height="4.8" fill="#0000ff"/>
<rect x="442.5" y="356.7" width="4.8" height="4.8" fill="#0000ff"/>
<rect x="421.2" y="360.1" width="4.8" height="4.8" fill="#0000ff"/>
<rect x="444.2" y="361.4" width="4.8" height="4.8" fill="#0000ff"/>
<rect x="422.1" y="364.1" width="4.8" height="4.8" fill="#0000ff"/>
<rect x="438.0" y="365.2" width="4.8" height="4.8" fill="#0000ff"/>
<rect x="427.1" y="368.2" width="4.8" height="4.8" fill="#0000ff"/>
<rect x="403.0" y="371.2" width="4.8" height="4.8" fill="#0000ff"/>
<rect x="407.1" y="376.8" width="4.8" height="4.8" fill="#0000ff"/>
<rect x="404.7" y="379.8" width="4.8" height="4.8" fill="#0000ff"/>
<rect x="423.1" y="382.0" width="4.8" height="4.8" fill="#0000ff"/>
<rect x="428.1" y="384.2" width="4.8" height="4.8" fill="#0000ff"/>
<rect x="439.0" y="383.2" width="4.8" height="4.8" fill="#0000ff"/>
<rect x="414.3" y="387.0" width="4.8" height="4.8" fill="#0000ff"/>
<rect x="425.6" y="388.4" width="4.8" height="4.8" fill="#0000ff"/>
<rect x="408.2" y="394.2" width="4.8" height="4.8" fill="#0000ff"/>
<rect x="417.2" y="396.1" width="4.8" height="4.8" fill="#0000ff"/>
<rect x="431.4" y="398.2" width="4.8" height="4.8" fill="#0000ff"/>
<rect x="415.8" y="402.3" width="4.8" height="4.8" fill="#0000ff"/>
<rect x="438.1" y="402.9" width="4.8" height="4.8" fill="#0000ff"/>
<rect x="426.1" y="408.3" width="4.8" height="4.8" fill="#0000ff"/>
<rect x="436.4" y="410.3" width="4.8" height="4.8" fill="#0000ff"/>
<rect x="458.6" y="410.9" width="4.8" height="4.8" fill="#0000ff"/>
<rect x="437.4" y="416.4" width="4.8" height="4.8" fill="#0000ff"/>
<rect x="451.5" y="417.9" width="4.8" height="4.8" fill="#0000ff"/>
<rect x="454.4" y="420.5" width="4.8" height="4.8" fill="#0000ff"/>
<rect x="469.4" y="422.1" width="4.8" height="4.8" fill="#0000ff"/>
<rect x="455.6" y="426.6" width="4.8" height="4.8" fill="#0000ff"/>
<rect x="462.2" y="426.6" width="4.8" height="4.8" fill="#0000ff"/>
<rect x="451.2" y="431.7" width="4.8" height="4.8" fill="#0000ff"/>
<rect x="443.6" y="436.3" width="4.8" height="4.8" fill="#0000ff"/>
<rect x="431.0" y="416.8" width="4.8" height="4.8" fill="#0000ff"/>
</g>
<text transform="translate(371.3,441.6) rotate(-90)" text-anchor="middle" dominant-baseline="central" font-size="9.4" fill="#f28d3c">550 kg/m³</text>
<text transform="translate(455.2,355.6) rotate(-90)" text-anchor="middle" dominant-baseline="central" font-size="9.4" fill="#93615a">830 kg/m³</text>
<text transform="translate(281.2,470.5) scale(0.95,1)" font-size="9.4" fill="#222">Case-3 (b)</text>
<rect x="272.7" y="364.7" width="38.1" height="81.9" rx="1.5" fill="#fff" fill-opacity="0.8" stroke="#e0e0e0" stroke-width="0.8"/>
<line x1="274.7" y1="369.8" x2="287.4" y2="369.8" stroke="#000" stroke-width="1.5"/>
<text transform="translate(291.8,372.2) scale(0.93,1)" font-size="6.6" fill="#222">LIG-fit</text>
<line x1="274.7" y1="378.8" x2="287.4" y2="378.8" stroke="#ff0000" stroke-width="1.5"/>
<text transform="translate(291.8,381.1) scale(0.93,1)" font-size="6.6" fill="#222">KM-fit</text>
<path d="M278.85,385.94L283.25,385.94L281.05,390.34Z" fill="#000"/>
<text transform="translate(291.8,390.1) scale(0.86,1)" font-size="6.6" fill="#222">SP1</text>
<path d="M278.85,394.89L283.25,394.89L281.05,399.29Z" fill="#1a1a1a"/>
<text transform="translate(291.8,399.1) scale(0.86,1)" font-size="6.6" fill="#222">SP3</text>
<path d="M278.85,403.84L283.25,403.84L281.05,408.24Z" fill="#666"/>
<text transform="translate(291.8,408.0) scale(0.86,1)" font-size="6.6" fill="#222">SP4</text>
<path d="M278.85,412.79L283.25,412.79L281.05,417.19Z" fill="#8c564b"/>
<text transform="translate(291.8,416.9) scale(0.86,1)" font-size="6.6" fill="#222">SC1</text>
<path d="M278.85,421.74L283.25,421.74L281.05,426.14Z" fill="#c8a8a2"/>
<text transform="translate(291.8,425.9) scale(0.86,1)" font-size="6.6" fill="#222">FC1</text>
<rect x="278.7" y="430.4" width="4.6" height="4.0" fill="#0000ff"/>
<line x1="278.0" y1="432.4" x2="284.0" y2="432.4" stroke="#0000ff" stroke-opacity="0.6" stroke-width="1"/>
<text transform="translate(291.8,434.8) scale(0.86,1)" font-size="6.6" fill="#222">CMP3</text>
<rect x="278.7" y="439.4" width="4.6" height="4.0" fill="#ffa500"/>
<line x1="278.0" y1="441.4" x2="284.0" y2="441.4" stroke="#ffa500" stroke-opacity="0.6" stroke-width="1"/>
<text transform="translate(291.8,443.8) scale(0.86,1)" font-size="6.6" fill="#222">CMP4</text>
<rect x="270.3" y="334.4" width="223.8" height="143.0" fill="none" stroke="#787878" stroke-width="0.9"/>
<line x1="270.30" y1="477.4" x2="270.30" y2="479.9" stroke="#3a3a3a" stroke-width="0.8"/>
<line x1="301.38" y1="477.4" x2="301.38" y2="479.9" stroke="#3a3a3a" stroke-width="0.8"/>
<line x1="332.47" y1="477.4" x2="332.47" y2="479.9" stroke="#3a3a3a" stroke-width="0.8"/>
<line x1="363.55" y1="477.4" x2="363.55" y2="479.9" stroke="#3a3a3a" stroke-width="0.8"/>
<line x1="394.63" y1="477.4" x2="394.63" y2="479.9" stroke="#3a3a3a" stroke-width="0.8"/>
<line x1="425.72" y1="477.4" x2="425.72" y2="479.9" stroke="#3a3a3a" stroke-width="0.8"/>
<line x1="456.80" y1="477.4" x2="456.80" y2="479.9" stroke="#3a3a3a" stroke-width="0.8"/>
<line x1="487.88" y1="477.4" x2="487.88" y2="479.9" stroke="#3a3a3a" stroke-width="0.8"/>
<clipPath id="c3a"><rect x="32.5" y="497.4" width="223.8" height="143.0"/></clipPath>
<line x1="63.58" y1="497.4" x2="63.58" y2="640.4" stroke="#cccccc" stroke-width="0.9"/>
<line x1="94.67" y1="497.4" x2="94.67" y2="640.4" stroke="#cccccc" stroke-width="0.9"/>
<line x1="125.75" y1="497.4" x2="125.75" y2="640.4" stroke="#cccccc" stroke-width="0.9"/>
<line x1="156.83" y1="497.4" x2="156.83" y2="640.4" stroke="#cccccc" stroke-width="0.9"/>
<line x1="187.92" y1="497.4" x2="187.92" y2="640.4" stroke="#cccccc" stroke-width="0.9"/>
<line x1="219.00" y1="497.4" x2="219.00" y2="640.4" stroke="#cccccc" stroke-width="0.9"/>
<line x1="250.08" y1="497.4" x2="250.08" y2="640.4" stroke="#cccccc" stroke-width="0.9"/>
<line x1="32.5" y1="526.00" x2="256.3" y2="526.00" stroke="#cccccc" stroke-width="0.9"/>
<line x1="32.5" y1="554.60" x2="256.3" y2="554.60" stroke="#cccccc" stroke-width="0.9"/>
<line x1="32.5" y1="583.20" x2="256.3" y2="583.20" stroke="#cccccc" stroke-width="0.9"/>
<line x1="32.5" y1="611.80" x2="256.3" y2="611.80" stroke="#cccccc" stroke-width="0.9"/>
<line x1="141.29" y1="640.4" x2="141.29" y2="497.4" stroke="#f8a055" stroke-width="1.7" stroke-dasharray="4.2,2.1"/>
<line x1="228.32" y1="640.4" x2="228.32" y2="497.4" stroke="#ab7770" stroke-width="1.7" stroke-dasharray="4.2,2.1"/>
<g clip-path="url(#c3a)">
<line x1="69.2" y1="506.6" x2="89.0" y2="506.6" stroke="#000" stroke-opacity="0.68" stroke-width="1.15"/>
<line x1="96.4" y1="514.6" x2="116.8" y2="514.6" stroke="#000" stroke-opacity="0.68" stroke-width="1.15"/>
<line x1="101.0" y1="507.0" x2="126.0" y2="507.0" stroke="#000" stroke-opacity="0.68" stroke-width="1.15"/>
<line x1="108.0" y1="511.0" x2="133.0" y2="511.0" stroke="#000" stroke-opacity="0.68" stroke-width="1.15"/>
<line x1="115.6" y1="509.4" x2="137.2" y2="509.4" stroke="#000" stroke-opacity="0.68" stroke-width="1.15"/>
<line x1="117.0" y1="515.6" x2="145.0" y2="515.6" stroke="#000" stroke-opacity="0.68" stroke-width="1.15"/>
<line x1="113.0" y1="519.7" x2="141.0" y2="519.7" stroke="#000" stroke-opacity="0.68" stroke-width="1.15"/>
<line x1="133.0" y1="516.8" x2="153.0" y2="516.8" stroke="#000" stroke-opacity="0.68" stroke-width="1.15"/>
<line x1="141.0" y1="518.4" x2="159.0" y2="518.4" stroke="#000" stroke-opacity="0.68" stroke-width="1.15"/>
<line x1="138.0" y1="521.6" x2="167.6" y2="521.6" stroke="#000" stroke-opacity="0.68" stroke-width="1.15"/>
<line x1="143.0" y1="520.0" x2="160.0" y2="520.0" stroke="#000" stroke-opacity="0.68" stroke-width="1.15"/>
<line x1="145.0" y1="524.8" x2="168.0" y2="524.8" stroke="#000" stroke-opacity="0.68" stroke-width="1.15"/>
<line x1="150.8" y1="522.9" x2="178.0" y2="522.9" stroke="#000" stroke-opacity="0.68" stroke-width="1.15"/>
<line x1="150.8" y1="507.2" x2="179.6" y2="507.2" stroke="#000" stroke-opacity="0.68" stroke-width="1.15"/>
<line x1="122.0" y1="527.8" x2="148.0" y2="527.8" stroke="#000" stroke-opacity="0.68" stroke-width="1.15"/>
<line x1="145.0" y1="528.8" x2="171.0" y2="528.8" stroke="#000" stroke-opacity="0.68" stroke-width="1.15"/>
<line x1="142.0" y1="530.4" x2="166.0" y2="530.4" stroke="#000" stroke-opacity="0.68" stroke-width="1.15"/>
<line x1="120.0" y1="533.4" x2="148.0" y2="533.4" stroke="#000" stroke-opacity="0.68" stroke-width="1.15"/>
<line x1="146.0" y1="534.2" x2="173.0" y2="534.2" stroke="#000" stroke-opacity="0.68" stroke-width="1.15"/>
<line x1="150.8" y1="537.6" x2="178.8" y2="537.6" stroke="#000" stroke-opacity="0.68" stroke-width="1.15"/>
<line x1="136.0" y1="540.6" x2="163.6" y2="540.6" stroke="#000" stroke-opacity="0.68" stroke-width="1.15"/>
<line x1="116.0" y1="543.4" x2="140.0" y2="543.4" stroke="#000" stroke-opacity="0.68" stroke-width="1.15"/>
<line x1="122.0" y1="546.4" x2="142.0" y2="546.4" stroke="#000" stroke-opacity="0.68" stroke-width="1.15"/>
<line x1="130.0" y1="546.6" x2="160.0" y2="546.6" stroke="#000" stroke-opacity="0.68" stroke-width="1.15"/>
<line x1="148.0" y1="544.0" x2="176.0" y2="544.0" stroke="#000" stroke-opacity="0.68" stroke-width="1.15"/>
<line x1="155.0" y1="546.4" x2="181.0" y2="546.4" stroke="#000" stroke-opacity="0.68" stroke-width="1.15"/>
<line x1="160.0" y1="548.0" x2="190.0" y2="548.0" stroke="#000" stroke-opacity="0.68" stroke-width="1.15"/>
<line x1="174.0" y1="549.0" x2="200.0" y2="549.0" stroke="#000" stroke-opacity="0.68" stroke-width="1.15"/>
<line x1="162.0" y1="550.5" x2="188.0" y2="550.5" stroke="#000" stroke-opacity="0.68" stroke-width="1.15"/>
<line x1="178.0" y1="555.0" x2="212.0" y2="555.0" stroke="#000" stroke-opacity="0.68" stroke-width="1.15"/>
<line x1="168.0" y1="558.6" x2="204.0" y2="558.6" stroke="#000" stroke-opacity="0.68" stroke-width="1.15"/>
<line x1="168.0" y1="560.6" x2="200.0" y2="560.6" stroke="#000" stroke-opacity="0.68" stroke-width="1.15"/>
<line x1="182.0" y1="561.6" x2="215.0" y2="561.6" stroke="#000" stroke-opacity="0.68" stroke-width="1.15"/>
<line x1="156.0" y1="568.0" x2="186.0" y2="568.0" stroke="#000" stroke-opacity="0.68" stroke-width="1.15"/>
<line x1="178.0" y1="569.6" x2="208.0" y2="569.6" stroke="#000" stroke-opacity="0.68" stroke-width="1.15"/>
<line x1="152.0" y1="575.0" x2="184.0" y2="575.0" stroke="#000" stroke-opacity="0.68" stroke-width="1.15"/>
<line x1="172.0" y1="575.0" x2="207.0" y2="575.0" stroke="#000" stroke-opacity="0.68" stroke-width="1.15"/>
<line x1="174.0" y1="579.6" x2="210.0" y2="579.6" stroke="#000" stroke-opacity="0.68" stroke-width="1.15"/>
<line x1="212.0" y1="579.6" x2="229.0" y2="579.6" stroke="#000" stroke-opacity="0.68" stroke-width="1.15"/>
<line x1="210.0" y1="580.6" x2="253.0" y2="580.6" stroke="#000" stroke-opacity="0.68" stroke-width="1.15"/>
<line x1="210.0" y1="581.4" x2="253.0" y2="581.4" stroke="#000" stroke-opacity="0.68" stroke-width="1.15"/>
<line x1="186.0" y1="591.0" x2="220.0" y2="591.0" stroke="#000" stroke-opacity="0.68" stroke-width="1.15"/>
<line x1="195.0" y1="591.6" x2="229.0" y2="591.6" stroke="#000" stroke-opacity="0.68" stroke-width="1.15"/>
<line x1="190.0" y1="595.4" x2="224.0" y2="595.4" stroke="#000" stroke-opacity="0.68" stroke-width="1.15"/>
<line x1="185.0" y1="599.4" x2="218.0" y2="599.4" stroke="#000" stroke-opacity="0.68" stroke-width="1.15"/>
<polyline points="63.6,497.4 67.2,499.4 70.8,503.0 84.0,506.0 90.0,507.8 94.8,510.2 99.6,511.4 108.0,512.6 116.4,514.5 126.0,517.5 131.0,521.5 137.0,524.0 144.0,526.0 148.0,529.0 153.0,532.0 160.0,538.0 165.0,540.5 168.2,543.8 169.8,549.8 169.8,553.0 175.4,556.2 172.2,557.8 178.6,560.2 184.2,565.8 181.0,569.0 185.8,572.2 189.0,575.4 196.0,577.7 192.2,580.8 194.4,585.0 200.4,591.4 205.2,596.8 206.0,600.0 211.5,604.5 216.0,607.5 213.5,609.5 217.5,614.0 219.0,617.0 217.5,618.5 219.0,621.0 225.5,627.0 226.0,631.0 230.0,637.5 229.5,640.4" fill="none" stroke="#0000ff" stroke-width="1.7" stroke-linejoin="round"/>
<polyline points="63.6,497.4 67.2,499.4 70.8,502.4 75.6,504.8 84.0,506.0 90.0,507.2 96.0,508.4 102.0,510.2 110.4,512.5 120.0,514.5 134.0,516.0 141.0,517.5 144.0,521.0 145.0,523.0 150.0,528.0 158.0,533.0 165.0,537.0 170.3,540.3 180.2,545.0 175.4,547.4 173.0,550.5 175.0,553.5 181.0,557.0 182.0,561.0 190.6,566.6 188.2,570.6 191.4,573.8 199.8,577.6 193.5,579.4 196.0,582.5 200.4,584.8 198.0,587.2 204.0,592.0 211.2,596.8 208.8,598.6 212.5,603.0 217.5,606.5 215.0,608.5 216.5,612.0 221.5,616.0 219.0,617.5 220.0,619.5 227.0,626.0 226.0,629.5 231.5,637.0 230.5,640.4" fill="none" stroke="#008000" stroke-width="1.7" stroke-linejoin="round"/>
<path d="M41.00,496.68L45.80,496.68L43.40,501.48Z" fill="#8c564b" fill-opacity="0.92"/>
<path d="M55.40,496.68L60.20,496.68L57.80,501.48Z" fill="#8c564b" fill-opacity="0.92"/>
<path d="M58.40,496.68L63.20,496.68L60.80,501.48Z" fill="#8c564b" fill-opacity="0.92"/>
<path d="M71.80,497.08L76.60,497.08L74.20,501.88Z" fill="#8c564b" fill-opacity="0.92"/>
<path d="M84.00,499.08L88.80,499.08L86.40,503.88Z" fill="#8c564b" fill-opacity="0.92"/>
<path d="M87.20,498.08L92.00,498.08L89.60,502.88Z" fill="#8c564b" fill-opacity="0.92"/>
<path d="M90.40,497.08L95.20,497.08L92.80,501.88Z" fill="#8c564b" fill-opacity="0.92"/>
<path d="M93.80,499.58L98.60,499.58L96.20,504.38Z" fill="#8c564b" fill-opacity="0.92"/>
<path d="M95.20,500.58L100.00,500.58L97.60,505.38Z" fill="#8c564b" fill-opacity="0.92"/>
<path d="M89.80,505.28L94.60,505.28L92.20,510.08Z" fill="#8c564b" fill-opacity="0.92"/>
<path d="M101.00,499.08L105.80,499.08L103.40,503.88Z" fill="#8c564b" fill-opacity="0.92"/>
<path d="M103.80,500.58L108.60,500.58L106.20,505.38Z" fill="#8c564b" fill-opacity="0.92"/>
<path d="M102.00,508.48L106.80,508.48L104.40,513.28Z" fill="#8c564b" fill-opacity="0.92"/>
<path d="M113.80,503.58L118.60,503.58L116.20,508.38Z" fill="#8c564b" fill-opacity="0.92"/>
<path d="M118.90,504.08L123.70,504.08L121.30,508.88Z" fill="#8c564b" fill-opacity="0.92"/>
<path d="M119.20,510.08L124.00,510.08L121.60,514.88Z" fill="#8c564b" fill-opacity="0.92"/>
<path d="M126.40,503.48L131.20,503.48L128.80,508.28Z" fill="#8c564b" fill-opacity="0.92"/>
<path d="M131.90,510.28L136.70,510.28L134.30,515.08Z" fill="#8c564b" fill-opacity="0.92"/>
<path d="M134.30,506.08L139.10,506.08L136.70,510.88Z" fill="#8c564b" fill-opacity="0.92"/>
<path d="M138.40,508.08L143.20,508.08L140.80,512.88Z" fill="#8c564b" fill-opacity="0.92"/>
<path d="M48.00,496.68L52.80,496.68L50.40,501.48Z" fill="#000"/>
<path d="M69.20,497.68L74.00,497.68L71.60,502.48Z" fill="#000"/>
<path d="M75.10,496.88L79.90,496.88L77.50,501.68Z" fill="#000"/>
<path d="M82.20,496.68L87.00,496.68L84.60,501.48Z" fill="#000"/>
<rect x="77.0" y="504.2" width="4.8" height="4.8" fill="#000"/>
<rect x="106.0" y="512.2" width="4.8" height="4.8" fill="#000"/>
<rect x="110.8" y="504.6" width="4.8" height="4.8" fill="#000"/>
<rect x="115.6" y="508.6" width="4.8" height="4.8" fill="#000"/>
<rect x="123.6" y="507.0" width="4.8" height="4.8" fill="#000"/>
<rect x="127.6" y="513.2" width="4.8" height="4.8" fill="#000"/>
<rect x="123.8" y="517.3" width="4.8" height="4.8" fill="#000"/>
<rect x="137.5" y="514.4" width="4.8" height="4.8" fill="#000"/>
<rect x="144.4" y="516.0" width="4.8" height="4.8" fill="#000"/>
<rect x="148.4" y="519.2" width="4.8" height="4.8" fill="#000"/>
<rect x="152.4" y="517.6" width="4.8" height="4.8" fill="#000"/>
<rect x="154.0" y="522.4" width="4.8" height="4.8" fill="#000"/>
<rect x="161.2" y="520.5" width="4.8" height="4.8" fill="#000"/>
<rect x="163.6" y="504.8" width="4.8" height="4.8" fill="#000"/>
<rect x="132.4" y="525.4" width="4.8" height="4.8" fill="#000"/>
<rect x="155.6" y="526.4" width="4.8" height="4.8" fill="#000"/>
<rect x="152.4" y="528.0" width="4.8" height="4.8" fill="#000"/>
<rect x="130.4" y="531.0" width="4.8" height="4.8" fill="#000"/>
<rect x="157.2" y="531.8" width="4.8" height="4.8" fill="#000"/>
<rect x="162.6" y="535.2" width="4.8" height="4.8" fill="#000"/>
<rect x="147.6" y="538.2" width="4.8" height="4.8" fill="#000"/>
<rect x="126.2" y="541.0" width="4.8" height="4.8" fill="#000"/>
<rect x="129.6" y="544.0" width="4.8" height="4.8" fill="#000"/>
<rect x="142.6" y="544.2" width="4.8" height="4.8" fill="#000"/>
<rect x="159.2" y="541.6" width="4.8" height="4.8" fill="#000"/>
<rect x="165.6" y="544.0" width="4.8" height="4.8" fill="#000"/>
<rect x="172.6" y="545.6" width="4.8" height="4.8" fill="#000"/>
<rect x="185.0" y="546.6" width="4.8" height="4.8" fill="#000"/>
<rect x="172.6" y="548.1" width="4.8" height="4.8" fill="#000"/>
<rect x="194.6" y="552.6" width="4.8" height="4.8" fill="#000"/>
<rect x="182.0" y="556.2" width="4.8" height="4.8" fill="#000"/>
<rect x="180.6" y="558.2" width="4.8" height="4.8" fill="#000"/>
<rect x="197.2" y="559.2" width="4.8" height="4.8" fill="#000"/>
<rect x="169.2" y="565.6" width="4.8" height="4.8" fill="#000"/>
<rect x="190.6" y="567.2" width="4.8" height="4.8" fill="#000"/>
<rect x="166.0" y="572.6" width="4.8" height="4.8" fill="#000"/>
<rect x="189.2" y="572.6" width="4.8" height="4.8" fill="#000"/>
<rect x="187.6" y="577.2" width="4.8" height="4.8" fill="#000"/>
<rect x="218.6" y="577.2" width="4.8" height="4.8" fill="#000"/>
<rect x="227.2" y="578.2" width="4.8" height="4.8" fill="#000"/>
<rect x="232.6" y="579.0" width="4.8" height="4.8" fill="#000"/>
<rect x="201.6" y="588.6" width="4.8" height="4.8" fill="#000"/>
<rect x="210.0" y="589.2" width="4.8" height="4.8" fill="#000"/>
<rect x="205.6" y="593.0" width="4.8" height="4.8" fill="#000"/>
<rect x="199.2" y="597.0" width="4.8" height="4.8" fill="#000"/>
</g>
<text transform="translate(133.5,604.6) rotate(-90)" text-anchor="middle" dominant-baseline="central" font-size="9.4" fill="#f28d3c">550 kg/m³</text>
<text transform="translate(217.4,518.6) rotate(-90)" text-anchor="middle" dominant-baseline="central" font-size="9.4" fill="#93615a">830 kg/m³</text>
<text transform="translate(43.4,633.5) scale(0.95,1)" font-size="9.4" fill="#222">Case-4 (a)</text>
<rect x="35.0" y="545.1" width="37.1" height="46.6" rx="1.5" fill="#fff" fill-opacity="0.8" stroke="#e0e0e0" stroke-width="0.8"/>
<line x1="37.0" y1="550.2" x2="49.7" y2="550.2" stroke="#0000ff" stroke-width="1.5"/>
<text transform="translate(54.1,552.6) scale(0.86,1)" font-size="6.6" fill="#222">LIG</text>
<line x1="37.0" y1="559.2" x2="49.7" y2="559.2" stroke="#008000" stroke-width="1.5"/>
<text transform="translate(54.1,561.6) scale(0.86,1)" font-size="6.6" fill="#222">KM</text>
<path d="M41.15,566.34L45.55,566.34L43.35,570.74Z" fill="#000"/>
<text transform="translate(54.1,570.5) scale(0.86,1)" font-size="6.6" fill="#222">SP2</text>
<path d="M41.15,575.29L45.55,575.29L43.35,579.69Z" fill="#8c564b"/>
<text transform="translate(54.1,579.5) scale(0.86,1)" font-size="6.6" fill="#222">SC2</text>
<rect x="41.1" y="584.0" width="4.6" height="4.0" fill="#000"/>
<line x1="40.1" y1="586.0" x2="46.6" y2="586.0" stroke="#000" stroke-width="1"/>
<text transform="translate(54.1,588.4) scale(0.86,1)" font-size="6.6" fill="#222">CMP2</text>
<rect x="32.5" y="497.4" width="223.8" height="143.0" fill="none" stroke="#787878" stroke-width="0.9"/>
<line x1="32.50" y1="640.4" x2="32.50" y2="642.9" stroke="#3a3a3a" stroke-width="0.8"/>
<line x1="63.58" y1="640.4" x2="63.58" y2="642.9" stroke="#3a3a3a" stroke-width="0.8"/>
<line x1="94.67" y1="640.4" x2="94.67" y2="642.9" stroke="#3a3a3a" stroke-width="0.8"/>
<line x1="125.75" y1="640.4" x2="125.75" y2="642.9" stroke="#3a3a3a" stroke-width="0.8"/>
<line x1="156.83" y1="640.4" x2="156.83" y2="642.9" stroke="#3a3a3a" stroke-width="0.8"/>
<line x1="187.92" y1="640.4" x2="187.92" y2="642.9" stroke="#3a3a3a" stroke-width="0.8"/>
<line x1="219.00" y1="640.4" x2="219.00" y2="642.9" stroke="#3a3a3a" stroke-width="0.8"/>
<line x1="250.08" y1="640.4" x2="250.08" y2="642.9" stroke="#3a3a3a" stroke-width="0.8"/>
<text x="27.9" y="500.6" text-anchor="end" font-size="9" fill="#222">0</text>
<text x="27.9" y="529.2" text-anchor="end" font-size="9" fill="#222">10</text>
<text x="27.9" y="557.8" text-anchor="end" font-size="9" fill="#222">20</text>
<text x="27.9" y="586.4" text-anchor="end" font-size="9" fill="#222">30</text>
<text x="27.9" y="615.0" text-anchor="end" font-size="9" fill="#222">40</text>
<text x="27.9" y="643.6" text-anchor="end" font-size="9" fill="#222">50</text>
<text transform="translate(8.3,568.9) rotate(-90)" text-anchor="middle" dominant-baseline="central" font-size="9.6" fill="#222">Depth (m)</text>
<text x="32.50" y="651.0" text-anchor="middle" font-size="9" fill="#222">200</text>
<text x="63.58" y="651.0" text-anchor="middle" font-size="9" fill="#222">300</text>
<text x="94.67" y="651.0" text-anchor="middle" font-size="9" fill="#222">400</text>
<text x="125.75" y="651.0" text-anchor="middle" font-size="9" fill="#222">500</text>
<text x="156.83" y="651.0" text-anchor="middle" font-size="9" fill="#222">600</text>
<text x="187.92" y="651.0" text-anchor="middle" font-size="9" fill="#222">700</text>
<text x="219.00" y="651.0" text-anchor="middle" font-size="9" fill="#222">800</text>
<text x="250.08" y="651.0" text-anchor="middle" font-size="9" fill="#222">900</text>
<text x="144.4" y="666.0" text-anchor="middle" font-size="9.3" fill="#222">Density (kg m<tspan dy="-3.5" font-size="6.5">−3</tspan><tspan dy="3.5">)</tspan></text>
<clipPath id="c3b"><rect x="270.3" y="497.4" width="223.8" height="143.0"/></clipPath>
<line x1="301.38" y1="497.4" x2="301.38" y2="640.4" stroke="#cccccc" stroke-width="0.9"/>
<line x1="332.47" y1="497.4" x2="332.47" y2="640.4" stroke="#cccccc" stroke-width="0.9"/>
<line x1="363.55" y1="497.4" x2="363.55" y2="640.4" stroke="#cccccc" stroke-width="0.9"/>
<line x1="394.63" y1="497.4" x2="394.63" y2="640.4" stroke="#cccccc" stroke-width="0.9"/>
<line x1="425.72" y1="497.4" x2="425.72" y2="640.4" stroke="#cccccc" stroke-width="0.9"/>
<line x1="456.80" y1="497.4" x2="456.80" y2="640.4" stroke="#cccccc" stroke-width="0.9"/>
<line x1="487.88" y1="497.4" x2="487.88" y2="640.4" stroke="#cccccc" stroke-width="0.9"/>
<line x1="270.3" y1="526.00" x2="494.1" y2="526.00" stroke="#cccccc" stroke-width="0.9"/>
<line x1="270.3" y1="554.60" x2="494.1" y2="554.60" stroke="#cccccc" stroke-width="0.9"/>
<line x1="270.3" y1="583.20" x2="494.1" y2="583.20" stroke="#cccccc" stroke-width="0.9"/>
<line x1="270.3" y1="611.80" x2="494.1" y2="611.80" stroke="#cccccc" stroke-width="0.9"/>
<line x1="379.09" y1="640.4" x2="379.09" y2="497.4" stroke="#f8a055" stroke-width="1.7" stroke-dasharray="4.2,2.1"/>
<line x1="466.12" y1="640.4" x2="466.12" y2="497.4" stroke="#ab7770" stroke-width="1.7" stroke-dasharray="4.2,2.1"/>
<g clip-path="url(#c3b)">
<line x1="298.6" y1="504.8" x2="317.8" y2="504.8" stroke="#ffa500" stroke-opacity="0.7" stroke-width="1.4"/>
<line x1="333.0" y1="513.7" x2="350.0" y2="513.7" stroke="#ffa500" stroke-opacity="0.7" stroke-width="1.4"/>
<line x1="343.0" y1="515.5" x2="359.0" y2="515.5" stroke="#ffa500" stroke-opacity="0.7" stroke-width="1.4"/>
<line x1="353.0" y1="510.0" x2="369.0" y2="510.0" stroke="#ffa500" stroke-opacity="0.7" stroke-width="1.4"/>
<line x1="356.0" y1="516.2" x2="377.0" y2="516.2" stroke="#ffa500" stroke-opacity="0.7" stroke-width="1.4"/>
<line x1="371.0" y1="505.4" x2="397.6" y2="505.4" stroke="#ffa500" stroke-opacity="0.7" stroke-width="1.4"/>
<line x1="378.0" y1="518.6" x2="394.0" y2="518.6" stroke="#ffa500" stroke-opacity="0.7" stroke-width="1.4"/>
<line x1="382.0" y1="519.0" x2="398.0" y2="519.0" stroke="#ffa500" stroke-opacity="0.7" stroke-width="1.4"/>
<line x1="349.0" y1="527.9" x2="373.0" y2="527.9" stroke="#ffa500" stroke-opacity="0.7" stroke-width="1.4"/>
<line x1="399.0" y1="520.4" x2="418.0" y2="520.4" stroke="#ffa500" stroke-opacity="0.7" stroke-width="1.4"/>
<line x1="402.0" y1="523.2" x2="422.0" y2="523.2" stroke="#ffa500" stroke-opacity="0.7" stroke-width="1.4"/>
<line x1="404.0" y1="521.2" x2="424.0" y2="521.2" stroke="#ffa500" stroke-opacity="0.7" stroke-width="1.4"/>
<line x1="410.0" y1="528.2" x2="430.0" y2="528.2" stroke="#ffa500" stroke-opacity="0.7" stroke-width="1.4"/>
<line x1="426.0" y1="528.8" x2="446.0" y2="528.8" stroke="#ffa500" stroke-opacity="0.7" stroke-width="1.4"/>
<line x1="397.0" y1="533.0" x2="417.0" y2="533.0" stroke="#ffa500" stroke-opacity="0.7" stroke-width="1.4"/>
<line x1="409.0" y1="536.6" x2="429.0" y2="536.6" stroke="#ffa500" stroke-opacity="0.7" stroke-width="1.4"/>
<line x1="430.0" y1="539.6" x2="462.0" y2="539.6" stroke="#ffa500" stroke-opacity="0.7" stroke-width="1.4"/>
<line x1="426.0" y1="543.2" x2="446.0" y2="543.2" stroke="#ffa500" stroke-opacity="0.7" stroke-width="1.4"/>
<line x1="420.0" y1="545.3" x2="456.0" y2="545.3" stroke="#ffa500" stroke-opacity="0.7" stroke-width="1.4"/>
<line x1="425.0" y1="552.8" x2="445.0" y2="552.8" stroke="#ffa500" stroke-opacity="0.7" stroke-width="1.4"/>
<line x1="450.8" y1="547.0" x2="485.7" y2="547.0" stroke="#ffa500" stroke-opacity="0.7" stroke-width="1.4"/>
<line x1="434.0" y1="555.7" x2="468.0" y2="555.7" stroke="#ffa500" stroke-opacity="0.7" stroke-width="1.4"/>
<line x1="455.0" y1="556.8" x2="492.0" y2="556.8" stroke="#ffa500" stroke-opacity="0.7" stroke-width="1.4"/>
<line x1="438.0" y1="562.1" x2="472.0" y2="562.1" stroke="#ffa500" stroke-opacity="0.7" stroke-width="1.4"/>
<line x1="322.0" y1="505.6" x2="344.0" y2="505.6" stroke="#0000ff" stroke-opacity="0.72" stroke-width="1.4"/>
<line x1="344.0" y1="507.0" x2="370.0" y2="507.0" stroke="#0000ff" stroke-opacity="0.72" stroke-width="1.4"/>
<line x1="352.0" y1="508.2" x2="380.0" y2="508.2" stroke="#0000ff" stroke-opacity="0.72" stroke-width="1.4"/>
<line x1="356.0" y1="510.6" x2="384.0" y2="510.6" stroke="#0000ff" stroke-opacity="0.72" stroke-width="1.4"/>
<line x1="346.0" y1="513.6" x2="372.0" y2="513.6" stroke="#0000ff" stroke-opacity="0.72" stroke-width="1.4"/>
<line x1="339.0" y1="517.8" x2="362.0" y2="517.8" stroke="#0000ff" stroke-opacity="0.72" stroke-width="1.4"/>
<line x1="362.0" y1="519.0" x2="390.0" y2="519.0" stroke="#0000ff" stroke-opacity="0.72" stroke-width="1.4"/>
<line x1="380.0" y1="518.4" x2="408.0" y2="518.4" stroke="#0000ff" stroke-opacity="0.72" stroke-width="1.4"/>
<line x1="384.0" y1="517.2" x2="410.0" y2="517.2" stroke="#0000ff" stroke-opacity="0.72" stroke-width="1.4"/>
<line x1="372.0" y1="525.0" x2="420.0" y2="525.0" stroke="#0000ff" stroke-opacity="0.72" stroke-width="1.4"/>
<line x1="355.0" y1="540.6" x2="398.0" y2="540.6" stroke="#0000ff" stroke-opacity="0.72" stroke-width="1.4"/>
<line x1="370.0" y1="540.7" x2="415.0" y2="540.7" stroke="#0000ff" stroke-opacity="0.72" stroke-width="1.4"/>
<line x1="405.0" y1="520.4" x2="432.0" y2="520.4" stroke="#0000ff" stroke-opacity="0.72" stroke-width="1.4"/>
<line x1="414.0" y1="521.2" x2="440.0" y2="521.2" stroke="#0000ff" stroke-opacity="0.72" stroke-width="1.4"/>
<line x1="426.0" y1="522.1" x2="461.0" y2="522.1" stroke="#0000ff" stroke-opacity="0.72" stroke-width="1.4"/>
<line x1="410.0" y1="525.5" x2="437.0" y2="525.5" stroke="#0000ff" stroke-opacity="0.72" stroke-width="1.4"/>
<line x1="430.0" y1="526.8" x2="463.0" y2="526.8" stroke="#0000ff" stroke-opacity="0.72" stroke-width="1.4"/>
<line x1="411.0" y1="529.5" x2="438.0" y2="529.5" stroke="#0000ff" stroke-opacity="0.72" stroke-width="1.4"/>
<line x1="427.0" y1="530.6" x2="455.0" y2="530.6" stroke="#0000ff" stroke-opacity="0.72" stroke-width="1.4"/>
<line x1="416.0" y1="533.6" x2="443.0" y2="533.6" stroke="#0000ff" stroke-opacity="0.72" stroke-width="1.4"/>
<line x1="392.0" y1="536.6" x2="418.0" y2="536.6" stroke="#0000ff" stroke-opacity="0.72" stroke-width="1.4"/>
<line x1="396.0" y1="542.2" x2="423.0" y2="542.2" stroke="#0000ff" stroke-opacity="0.72" stroke-width="1.4"/>
<line x1="393.0" y1="545.2" x2="421.0" y2="545.2" stroke="#0000ff" stroke-opacity="0.72" stroke-width="1.4"/>
<line x1="412.0" y1="547.4" x2="439.0" y2="547.4" stroke="#0000ff" stroke-opacity="0.72" stroke-width="1.4"/>
<line x1="417.0" y1="549.6" x2="444.0" y2="549.6" stroke="#0000ff" stroke-opacity="0.72" stroke-width="1.4"/>
<line x1="428.0" y1="548.6" x2="455.0" y2="548.6" stroke="#0000ff" stroke-opacity="0.72" stroke-width="1.4"/>
<line x1="403.0" y1="552.4" x2="430.0" y2="552.4" stroke="#0000ff" stroke-opacity="0.72" stroke-width="1.4"/>
<line x1="414.0" y1="553.8" x2="441.0" y2="553.8" stroke="#0000ff" stroke-opacity="0.72" stroke-width="1.4"/>
<line x1="396.0" y1="559.6" x2="425.0" y2="559.6" stroke="#0000ff" stroke-opacity="0.72" stroke-width="1.4"/>
<line x1="405.0" y1="561.5" x2="434.0" y2="561.5" stroke="#0000ff" stroke-opacity="0.72" stroke-width="1.4"/>
<line x1="420.0" y1="563.6" x2="448.0" y2="563.6" stroke="#0000ff" stroke-opacity="0.72" stroke-width="1.4"/>
<line x1="403.0" y1="567.7" x2="433.0" y2="567.7" stroke="#0000ff" stroke-opacity="0.72" stroke-width="1.4"/>
<line x1="425.0" y1="568.3" x2="456.0" y2="568.3" stroke="#0000ff" stroke-opacity="0.72" stroke-width="1.4"/>
<line x1="413.0" y1="573.7" x2="444.0" y2="573.7" stroke="#0000ff" stroke-opacity="0.72" stroke-width="1.4"/>
<line x1="425.0" y1="575.7" x2="453.0" y2="575.7" stroke="#0000ff" stroke-opacity="0.72" stroke-width="1.4"/>
<line x1="442.0" y1="576.3" x2="477.0" y2="576.3" stroke="#0000ff" stroke-opacity="0.72" stroke-width="1.4"/>
<line x1="423.0" y1="581.8" x2="457.0" y2="581.8" stroke="#0000ff" stroke-opacity="0.72" stroke-width="1.4"/>
<line x1="440.0" y1="583.3" x2="468.0" y2="583.3" stroke="#0000ff" stroke-opacity="0.72" stroke-width="1.4"/>
<line x1="440.0" y1="585.9" x2="490.0" y2="585.9" stroke="#0000ff" stroke-opacity="0.72" stroke-width="1.4"/>
<line x1="455.0" y1="587.5" x2="490.0" y2="587.5" stroke="#0000ff" stroke-opacity="0.72" stroke-width="1.4"/>
<line x1="441.0" y1="592.0" x2="474.0" y2="592.0" stroke="#0000ff" stroke-opacity="0.72" stroke-width="1.4"/>
<line x1="440.6" y1="592.0" x2="481.4" y2="592.0" stroke="#0000ff" stroke-opacity="0.72" stroke-width="1.4"/>
<line x1="436.4" y1="597.1" x2="470.0" y2="597.1" stroke="#0000ff" stroke-opacity="0.72" stroke-width="1.4"/>
<line x1="429.2" y1="601.7" x2="461.6" y2="601.7" stroke="#0000ff" stroke-opacity="0.72" stroke-width="1.4"/>
<line x1="420.0" y1="582.2" x2="447.0" y2="582.2" stroke="#0000ff" stroke-opacity="0.72" stroke-width="1.4"/>
<polyline transform="translate(-1.2,0.7)" points="301.6,497.4 309.4,502.4 319.0,505.4 328.6,507.8 332.2,509.6 338.2,511.4 345.4,512.6 355.0,513.8 365.0,517.0 370.0,522.0 375.0,524.0 380.0,526.5 390.2,530.6 394.0,533.6 402.0,535.2 398.8,538.8 402.0,540.0 406.8,541.2 413.2,543.6 418.0,545.6 413.2,547.2 410.8,550.0 410.0,551.6 413.2,555.6 418.0,557.2 421.0,559.8 427.5,566.4 423.0,568.2 429.0,573.0 437.4,578.4 431.4,580.2 437.4,585.0 435.0,588.0 442.2,592.8 450.0,596.4 443.0,598.2 453.8,606.6 452.6,609.0 459.8,616.2 456.2,618.6 464.6,627.0 464.6,631.8 468.8,637.2 467.6,640.4" fill="none" stroke="#000" stroke-width="1.9" stroke-linejoin="round"/>
<polyline points="301.6,497.4 309.4,502.4 319.0,505.4 328.6,507.8 337.0,510.2 343.0,512.0 355.0,513.2 370.0,518.0 378.2,521.0 381.4,524.2 387.0,527.4 390.2,530.6 394.0,533.6 402.0,535.2 398.8,538.8 402.0,540.0 406.8,541.2 413.2,543.6 418.0,545.6 413.2,547.2 410.8,550.0 410.0,551.6 413.2,555.6 418.0,557.2 421.0,559.8 427.5,566.4 423.0,568.2 429.0,573.0 437.4,578.4 431.4,580.2 437.4,585.0 435.0,588.0 442.2,592.8 450.0,596.4 443.0,598.2 453.8,606.6 452.6,609.0 459.8,616.2 456.2,618.6 464.6,627.0 464.6,631.8 468.8,637.2 467.6,640.4" fill="none" stroke="#ff0000" stroke-width="1.7" stroke-linejoin="round"/>
<path d="M268.60,496.88L273.40,496.88L271.00,501.68Z" fill="#8c564b" fill-opacity="0.92"/>
<path d="M272.60,496.88L277.40,496.88L275.00,501.68Z" fill="#8c564b" fill-opacity="0.92"/>
<path d="M280.60,497.48L285.40,497.48L283.00,502.28Z" fill="#8c564b" fill-opacity="0.92"/>
<path d="M283.60,498.68L288.40,498.68L286.00,503.48Z" fill="#8c564b" fill-opacity="0.92"/>
<path d="M317.40,498.08L322.20,498.08L319.80,502.88Z" fill="#8c564b" fill-opacity="0.92"/>
<path d="M327.10,498.08L331.90,498.08L329.50,502.88Z" fill="#8c564b" fill-opacity="0.92"/>
<path d="M335.60,498.58L340.40,498.58L338.00,503.38Z" fill="#8c564b" fill-opacity="0.92"/>
<path d="M338.60,500.08L343.40,500.08L341.00,504.88Z" fill="#8c564b" fill-opacity="0.92"/>
<path d="M338.80,500.48L343.60,500.48L341.20,505.28Z" fill="#8c564b" fill-opacity="0.92"/>
<path d="M338.40,500.08L343.20,500.08L340.80,504.88Z" fill="#b08a84" fill-opacity="0.8"/>
<path d="M359.20,503.28L364.00,503.28L361.60,508.08Z" fill="#b08a84" fill-opacity="0.8"/>
<path d="M371.20,500.88L376.00,500.88L373.60,505.68Z" fill="#b08a84" fill-opacity="0.8"/>
<path d="M378.40,506.28L383.20,506.28L380.80,511.08Z" fill="#b08a84" fill-opacity="0.8"/>
<path d="M385.00,508.68L389.80,508.68L387.40,513.48Z" fill="#b08a84" fill-opacity="0.8"/>
<path d="M392.80,509.88L397.60,509.88L395.20,514.68Z" fill="#b08a84" fill-opacity="0.8"/>
<path d="M371.20,511.08L376.00,511.08L373.60,515.88Z" fill="#b08a84" fill-opacity="0.8"/>
<path d="M376.60,511.08L381.40,511.08L379.00,515.88Z" fill="#b08a84" fill-opacity="0.8"/>
<path d="M381.40,511.68L386.20,511.68L383.80,516.48Z" fill="#b08a84" fill-opacity="0.8"/>
<path d="M388.00,513.48L392.80,513.48L390.40,518.28Z" fill="#b08a84" fill-opacity="0.8"/>
<path d="M398.40,512.88L403.20,512.88L400.80,517.68Z" fill="#b08a84" fill-opacity="0.8"/>
<path d="M403.20,514.48L408.00,514.48L405.60,519.28Z" fill="#b08a84" fill-opacity="0.8"/>
<path d="M292.60,497.28L297.40,497.28L295.00,502.08Z" fill="#000"/>
<path d="M298.20,497.28L303.00,497.28L300.60,502.08Z" fill="#111"/>
<path d="M305.00,497.48L309.80,497.48L307.40,502.28Z" fill="#000"/>
<path d="M311.00,497.48L315.80,497.48L313.40,502.28Z" fill="#111"/>
<path d="M320.20,497.48L325.00,497.48L322.60,502.28Z" fill="#000"/>
<path d="M324.10,497.68L328.90,497.68L326.50,502.48Z" fill="#222"/>
<path d="M331.10,497.48L335.90,497.48L333.50,502.28Z" fill="#333"/>
<path d="M333.60,497.68L338.40,497.68L336.00,502.48Z" fill="#555"/>
<path d="M344.60,497.48L349.40,497.48L347.00,502.28Z" fill="#000"/>
<path d="M348.60,499.08L353.40,499.08L351.00,503.88Z" fill="#333"/>
<path d="M352.10,497.28L356.90,497.28L354.50,502.08Z" fill="#000"/>
<path d="M354.10,499.08L358.90,499.08L356.50,503.88Z" fill="#555"/>
<path d="M335.60,500.88L340.40,500.88L338.00,505.68Z" fill="#222"/>
<path d="M342.00,501.88L346.80,501.88L344.40,506.68Z" fill="#000"/>
<path d="M348.40,499.68L353.20,499.68L350.80,504.48Z" fill="#333"/>
<rect x="305.8" y="502.4" width="4.8" height="4.8" fill="#ffa500"/>
<rect x="342.4" y="511.3" width="4.8" height="4.8" fill="#ffa500"/>
<rect x="348.3" y="513.1" width="4.8" height="4.8" fill="#ffa500"/>
<rect x="358.6" y="507.6" width="4.8" height="4.8" fill="#ffa500"/>
<rect x="365.0" y="513.8" width="4.8" height="4.8" fill="#ffa500"/>
<rect x="382.6" y="503.0" width="4.8" height="4.8" fill="#ffa500"/>
<rect x="383.9" y="516.2" width="4.8" height="4.8" fill="#ffa500"/>
<rect x="387.4" y="516.6" width="4.8" height="4.8" fill="#ffa500"/>
<rect x="359.1" y="525.5" width="4.8" height="4.8" fill="#ffa500"/>
<rect x="406.4" y="518.0" width="4.8" height="4.8" fill="#ffa500"/>
<rect x="410.0" y="520.8" width="4.8" height="4.8" fill="#ffa500"/>
<rect x="411.9" y="518.8" width="4.8" height="4.8" fill="#ffa500"/>
<rect x="418.6" y="525.8" width="4.8" height="4.8" fill="#ffa500"/>
<rect x="434.1" y="526.4" width="4.8" height="4.8" fill="#ffa500"/>
<rect x="404.2" y="530.6" width="4.8" height="4.8" fill="#ffa500"/>
<rect x="416.8" y="534.2" width="4.8" height="4.8" fill="#ffa500"/>
<rect x="442.0" y="537.2" width="4.8" height="4.8" fill="#ffa500"/>
<rect x="434.2" y="540.8" width="4.8" height="4.8" fill="#ffa500"/>
<rect x="432.4" y="542.9" width="4.8" height="4.8" fill="#ffa500"/>
<rect x="433.0" y="550.4" width="4.8" height="4.8" fill="#ffa500"/>
<rect x="466.3" y="544.6" width="4.8" height="4.8" fill="#ffa500"/>
<rect x="449.6" y="553.3" width="4.8" height="4.8" fill="#ffa500"/>
<rect x="471.8" y="554.4" width="4.8" height="4.8" fill="#ffa500"/>
<rect x="453.4" y="559.7" width="4.8" height="4.8" fill="#ffa500"/>
<rect x="330.8" y="503.2" width="4.8" height="4.8" fill="#0000ff"/>
<rect x="354.4" y="504.6" width="4.8" height="4.8" fill="#0000ff"/>
<rect x="364.0" y="505.8" width="4.8" height="4.8" fill="#0000ff"/>
<rect x="367.0" y="508.2" width="4.8" height="4.8" fill="#0000ff"/>
<rect x="356.8" y="511.2" width="4.8" height="4.8" fill="#0000ff"/>
<rect x="348.4" y="515.4" width="4.8" height="4.8" fill="#0000ff"/>
<rect x="373.6" y="516.6" width="4.8" height="4.8" fill="#0000ff"/>
<rect x="391.6" y="516.0" width="4.8" height="4.8" fill="#0000ff"/>
<rect x="394.6" y="514.8" width="4.8" height="4.8" fill="#0000ff"/>
<rect x="393.4" y="522.6" width="4.8" height="4.8" fill="#0000ff"/>
<rect x="366.4" y="538.2" width="4.8" height="4.8" fill="#0000ff"/>
<rect x="389.8" y="538.3" width="4.8" height="4.8" fill="#0000ff"/>
<rect x="416.1" y="518.0" width="4.8" height="4.8" fill="#0000ff"/>
<rect x="424.6" y="518.8" width="4.8" height="4.8" fill="#0000ff"/>
<rect x="442.5" y="519.7" width="4.8" height="4.8" fill="#0000ff"/>
<rect x="421.2" y="523.1" width="4.8" height="4.8" fill="#0000ff"/>
<rect x="444.2" y="524.4" width="4.8" height="4.8" fill="#0000ff"/>
<rect x="422.1" y="527.1" width="4.8" height="4.8" fill="#0000ff"/>
<rect x="438.0" y="528.2" width="4.8" height="4.8" fill="#0000ff"/>
<rect x="427.1" y="531.2" width="4.8" height="4.8" fill="#0000ff"/>
<rect x="403.0" y="534.2" width="4.8" height="4.8" fill="#0000ff"/>
<rect x="407.1" y="539.8" width="4.8" height="4.8" fill="#0000ff"/>
<rect x="404.7" y="542.8" width="4.8" height="4.8" fill="#0000ff"/>
<rect x="423.1" y="545.0" width="4.8" height="4.8" fill="#0000ff"/>
<rect x="428.1" y="547.2" width="4.8" height="4.8" fill="#0000ff"/>
<rect x="439.0" y="546.2" width="4.8" height="4.8" fill="#0000ff"/>
<rect x="414.3" y="550.0" width="4.8" height="4.8" fill="#0000ff"/>
<rect x="425.6" y="551.4" width="4.8" height="4.8" fill="#0000ff"/>
<rect x="408.2" y="557.2" width="4.8" height="4.8" fill="#0000ff"/>
<rect x="417.2" y="559.1" width="4.8" height="4.8" fill="#0000ff"/>
<rect x="431.4" y="561.2" width="4.8" height="4.8" fill="#0000ff"/>
<rect x="415.8" y="565.3" width="4.8" height="4.8" fill="#0000ff"/>
<rect x="438.1" y="565.9" width="4.8" height="4.8" fill="#0000ff"/>
<rect x="426.1" y="571.3" width="4.8" height="4.8" fill="#0000ff"/>
<rect x="436.4" y="573.3" width="4.8" height="4.8" fill="#0000ff"/>
<rect x="458.6" y="573.9" width="4.8" height="4.8" fill="#0000ff"/>
<rect x="437.4" y="579.4" width="4.8" height="4.8" fill="#0000ff"/>
<rect x="451.5" y="580.9" width="4.8" height="4.8" fill="#0000ff"/>
<rect x="454.4" y="583.5" width="4.8" height="4.8" fill="#0000ff"/>
<rect x="469.4" y="585.1" width="4.8" height="4.8" fill="#0000ff"/>
<rect x="455.6" y="589.6" width="4.8" height="4.8" fill="#0000ff"/>
<rect x="462.2" y="589.6" width="4.8" height="4.8" fill="#0000ff"/>
<rect x="451.2" y="594.7" width="4.8" height="4.8" fill="#0000ff"/>
<rect x="443.6" y="599.3" width="4.8" height="4.8" fill="#0000ff"/>
<rect x="431.0" y="579.8" width="4.8" height="4.8" fill="#0000ff"/>
</g>
<text transform="translate(371.3,604.6) rotate(-90)" text-anchor="middle" dominant-baseline="central" font-size="9.4" fill="#f28d3c">550 kg/m³</text>
<text transform="translate(455.2,518.6) rotate(-90)" text-anchor="middle" dominant-baseline="central" font-size="9.4" fill="#93615a">830 kg/m³</text>
<text transform="translate(281.2,633.5) scale(0.95,1)" font-size="9.4" fill="#222">Case-4 (b)</text>
<rect x="272.7" y="527.7" width="38.1" height="81.9" rx="1.5" fill="#fff" fill-opacity="0.8" stroke="#e0e0e0" stroke-width="0.8"/>
<line x1="274.7" y1="532.8" x2="287.4" y2="532.8" stroke="#000" stroke-width="1.5"/>
<text transform="translate(291.8,535.2) scale(0.93,1)" font-size="6.6" fill="#222">LIG-fit</text>
<line x1="274.7" y1="541.8" x2="287.4" y2="541.8" stroke="#ff0000" stroke-width="1.5"/>
<text transform="translate(291.8,544.1) scale(0.93,1)" font-size="6.6" fill="#222">KM-fit</text>
<path d="M278.85,548.94L283.25,548.94L281.05,553.34Z" fill="#000"/>
<text transform="translate(291.8,553.1) scale(0.86,1)" font-size="6.6" fill="#222">SP1</text>
<path d="M278.85,557.89L283.25,557.89L281.05,562.29Z" fill="#1a1a1a"/>
<text transform="translate(291.8,562.0) scale(0.86,1)" font-size="6.6" fill="#222">SP3</text>
<path d="M278.85,566.84L283.25,566.84L281.05,571.24Z" fill="#666"/>
<text transform="translate(291.8,571.0) scale(0.86,1)" font-size="6.6" fill="#222">SP4</text>
<path d="M278.85,575.79L283.25,575.79L281.05,580.19Z" fill="#8c564b"/>
<text transform="translate(291.8,579.9) scale(0.86,1)" font-size="6.6" fill="#222">SC1</text>
<path d="M278.85,584.74L283.25,584.74L281.05,589.14Z" fill="#c8a8a2"/>
<text transform="translate(291.8,588.9) scale(0.86,1)" font-size="6.6" fill="#222">FC1</text>
<rect x="278.7" y="593.4" width="4.6" height="4.0" fill="#0000ff"/>
<line x1="278.0" y1="595.4" x2="284.0" y2="595.4" stroke="#0000ff" stroke-opacity="0.6" stroke-width="1"/>
<text transform="translate(291.8,597.8) scale(0.86,1)" font-size="6.6" fill="#222">CMP3</text>
<rect x="278.7" y="602.4" width="4.6" height="4.0" fill="#ffa500"/>
<line x1="278.0" y1="604.4" x2="284.0" y2="604.4" stroke="#ffa500" stroke-opacity="0.6" stroke-width="1"/>
<text transform="translate(291.8,606.8) scale(0.86,1)" font-size="6.6" fill="#222">CMP4</text>
<rect x="270.3" y="497.4" width="223.8" height="143.0" fill="none" stroke="#787878" stroke-width="0.9"/>
<line x1="270.30" y1="640.4" x2="270.30" y2="642.9" stroke="#3a3a3a" stroke-width="0.8"/>
<line x1="301.38" y1="640.4" x2="301.38" y2="642.9" stroke="#3a3a3a" stroke-width="0.8"/>
<line x1="332.47" y1="640.4" x2="332.47" y2="642.9" stroke="#3a3a3a" stroke-width="0.8"/>
<line x1="363.55" y1="640.4" x2="363.55" y2="642.9" stroke="#3a3a3a" stroke-width="0.8"/>
<line x1="394.63" y1="640.4" x2="394.63" y2="642.9" stroke="#3a3a3a" stroke-width="0.8"/>
<line x1="425.72" y1="640.4" x2="425.72" y2="642.9" stroke="#3a3a3a" stroke-width="0.8"/>
<line x1="456.80" y1="640.4" x2="456.80" y2="642.9" stroke="#3a3a3a" stroke-width="0.8"/>
<line x1="487.88" y1="640.4" x2="487.88" y2="642.9" stroke="#3a3a3a" stroke-width="0.8"/>
<text x="270.30" y="651.0" text-anchor="middle" font-size="9" fill="#222">200</text>
<text x="301.38" y="651.0" text-anchor="middle" font-size="9" fill="#222">300</text>
<text x="332.47" y="651.0" text-anchor="middle" font-size="9" fill="#222">400</text>
<text x="363.55" y="651.0" text-anchor="middle" font-size="9" fill="#222">500</text>
<text x="394.63" y="651.0" text-anchor="middle" font-size="9" fill="#222">600</text>
<text x="425.72" y="651.0" text-anchor="middle" font-size="9" fill="#222">700</text>
<text x="456.80" y="651.0" text-anchor="middle" font-size="9" fill="#222">800</text>
<text x="487.88" y="651.0" text-anchor="middle" font-size="9" fill="#222">900</text>
<text x="382.2" y="666.0" text-anchor="middle" font-size="9.3" fill="#222">Density (kg m<tspan dy="-3.5" font-size="6.5">−3</tspan><tspan dy="3.5">)</tspan></text>
</svg></body></html>
